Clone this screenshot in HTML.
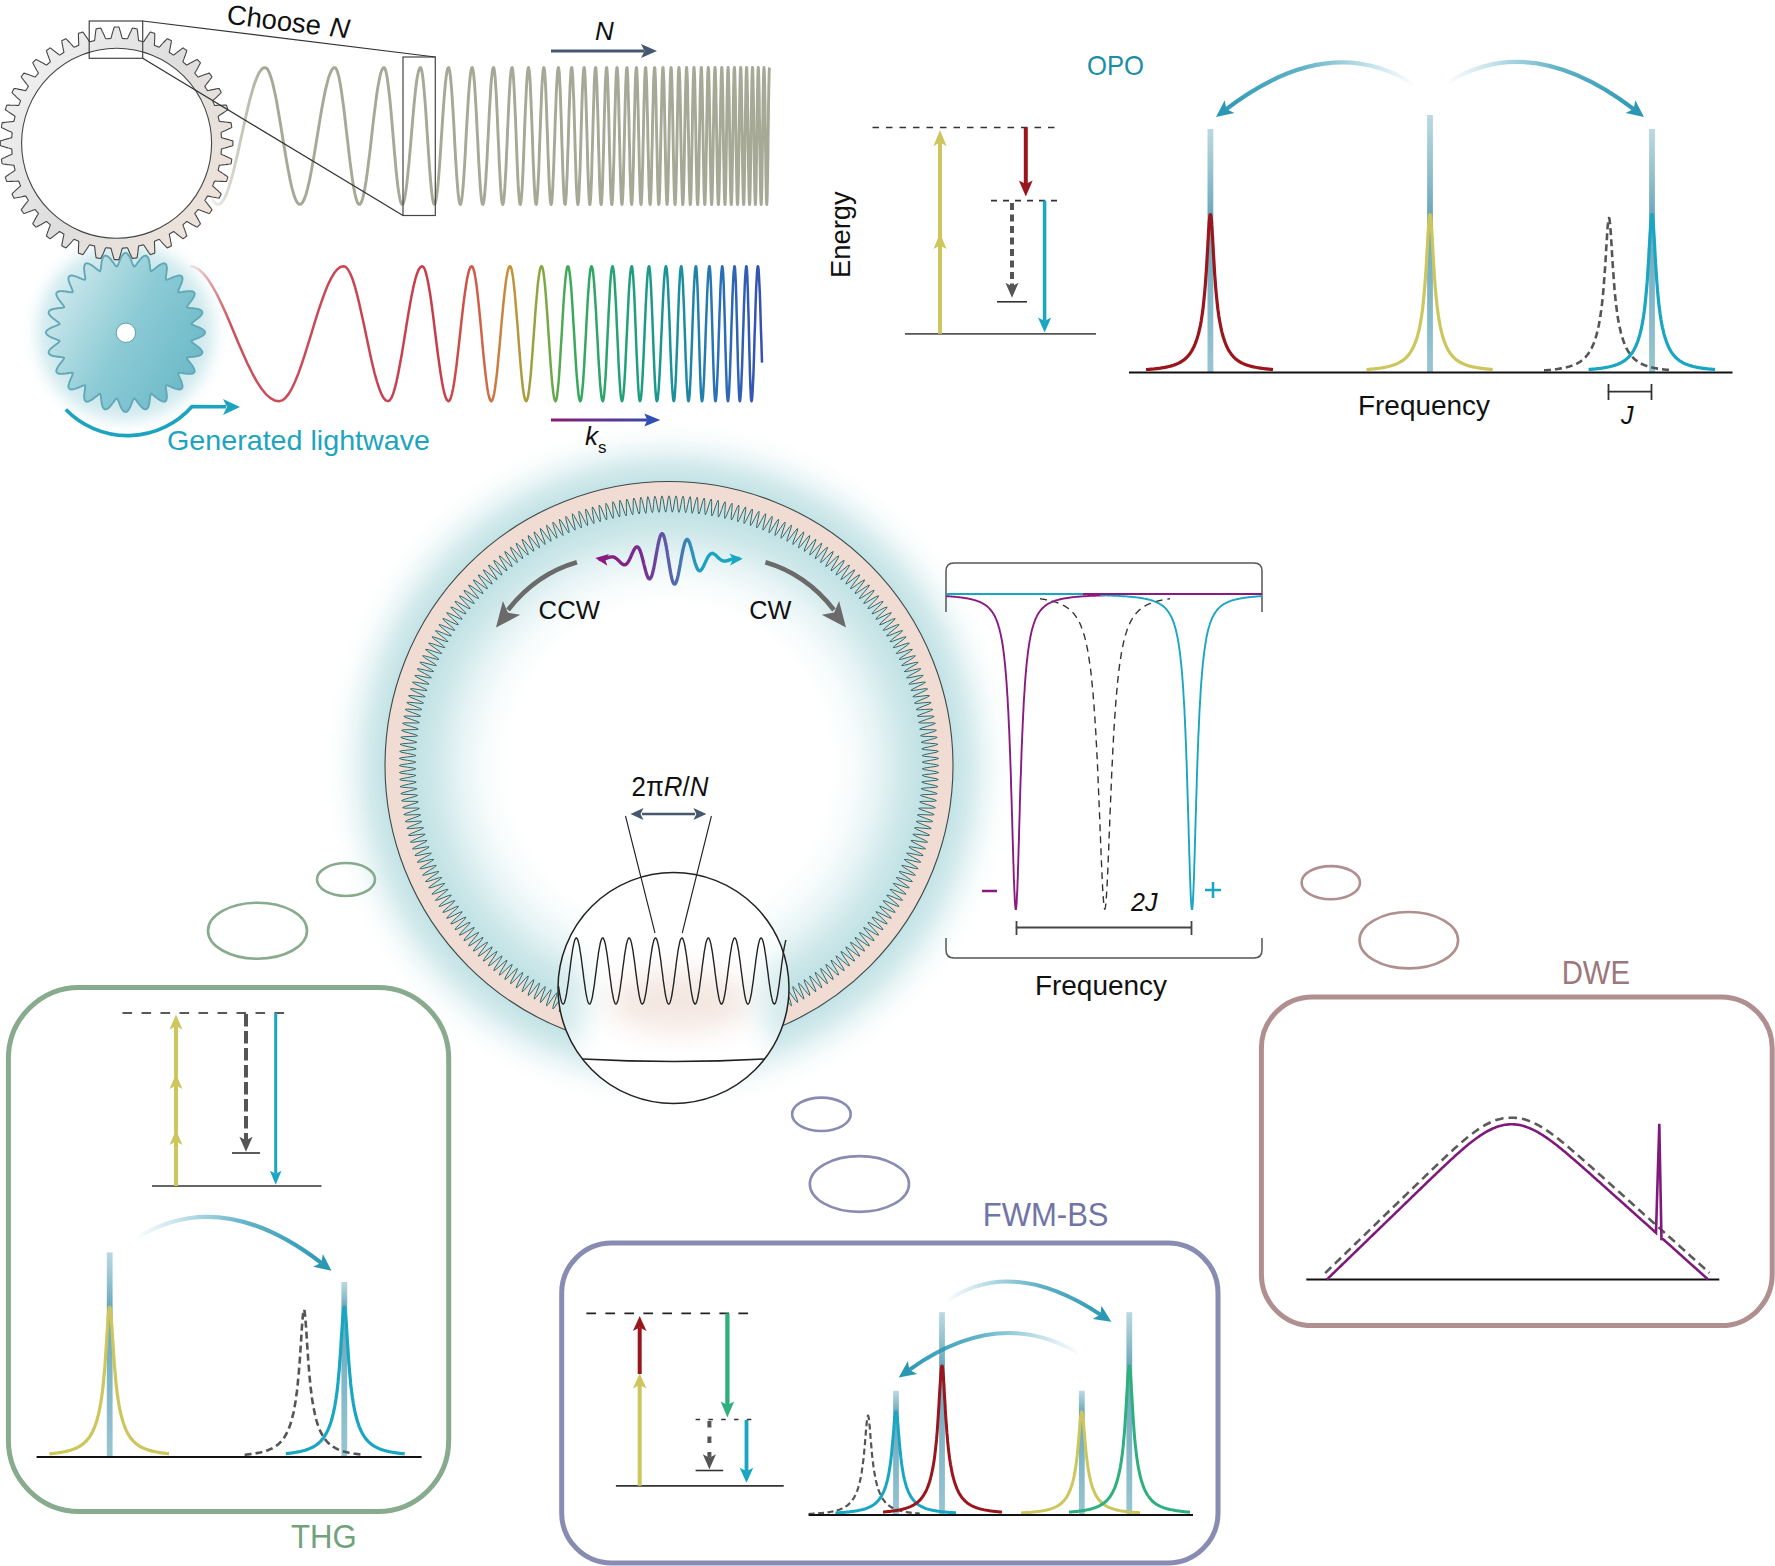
<!DOCTYPE html><html><head><meta charset="utf-8"><style>html,body{margin:0;padding:0;background:#fff;overflow:hidden}svg{display:block}</style></head><body><svg width="1775" height="1566" viewBox="0 0 1775 1566" font-family='"Liberation Sans", sans-serif'><defs><radialGradient id="ringglow" cx="669" cy="765.5" r="345" gradientUnits="userSpaceOnUse"><stop offset="0" stop-color="#c0e1e4" stop-opacity="0"/><stop offset="0.464" stop-color="#c0e1e4" stop-opacity="0"/><stop offset="0.536" stop-color="#c0e1e4" stop-opacity="0.12"/><stop offset="0.609" stop-color="#c0e1e4" stop-opacity="0.4"/><stop offset="0.681" stop-color="#c0e1e4" stop-opacity="0.78"/><stop offset="0.730" stop-color="#c0e1e4" stop-opacity="0.95"/><stop offset="0.823" stop-color="#c0e1e4" stop-opacity="0.95"/><stop offset="0.870" stop-color="#c0e1e4" stop-opacity="0.7"/><stop offset="0.913" stop-color="#c0e1e4" stop-opacity="0.34"/><stop offset="0.957" stop-color="#c0e1e4" stop-opacity="0.08"/><stop offset="1" stop-color="#c0e1e4" stop-opacity="0"/></radialGradient><linearGradient id="gsfade" x1="200" y1="0" x2="265" y2="0" gradientUnits="userSpaceOnUse"><stop offset="0" stop-color="#a6a996" stop-opacity="0"/><stop offset="1" stop-color="#a6a996" stop-opacity="1"/></linearGradient><filter id="blur6" x="-50%" y="-50%" width="200%" height="200%"><feGaussianBlur stdDeviation="8"/></filter><filter id="blur1" x="-20%" y="-20%" width="140%" height="140%"><feGaussianBlur stdDeviation="0.5"/></filter><linearGradient id="g2fill" x1="55" y1="290" x2="200" y2="370" gradientUnits="userSpaceOnUse"><stop offset="0" stop-color="#cde8ec"/><stop offset="0.5" stop-color="#8ccbd5"/><stop offset="1" stop-color="#6cb9c8"/></linearGradient><linearGradient id="g1fill" x1="0" y1="30" x2="232" y2="200" gradientUnits="userSpaceOnUse"><stop offset="0" stop-color="#f6f6f6"/><stop offset="0.55" stop-color="#dedede"/><stop offset="1" stop-color="#efe3da"/></linearGradient><linearGradient id="rainbow" x1="185" y1="0" x2="762" y2="0" gradientUnits="userSpaceOnUse"><stop offset="0" stop-color="#c83c4a" stop-opacity="0"/><stop offset="0.08" stop-color="#c83c4a" stop-opacity="0.9"/><stop offset="0.442" stop-color="#c83c4a"/><stop offset="0.511" stop-color="#d06048"/><stop offset="0.563" stop-color="#c8903a"/><stop offset="0.617" stop-color="#8aa840"/><stop offset="0.667" stop-color="#3aaa5a"/><stop offset="0.771" stop-color="#1fa07a"/><stop offset="0.857" stop-color="#1a8fa0"/><stop offset="0.927" stop-color="#2a6fb8"/><stop offset="1" stop-color="#3650b0"/></linearGradient><linearGradient id="ksg" x1="551" y1="0" x2="660" y2="0" gradientUnits="userSpaceOnUse"><stop offset="0" stop-color="#8b1a70"/><stop offset="1" stop-color="#2f50b5"/></linearGradient><linearGradient id="pb1" x1="0" y1="129" x2="0" y2="372" gradientUnits="userSpaceOnUse"><stop offset="0" stop-color="#a3ccd7" stop-opacity="0.75"/><stop offset="0.352" stop-color="#6aa7ba" stop-opacity="1"/><stop offset="1" stop-color="#92c2d0" stop-opacity="0.95"/></linearGradient><linearGradient id="pb2" x1="0" y1="115" x2="0" y2="372" gradientUnits="userSpaceOnUse"><stop offset="0" stop-color="#a3ccd7" stop-opacity="0.75"/><stop offset="0.387" stop-color="#6aa7ba" stop-opacity="1"/><stop offset="1" stop-color="#92c2d0" stop-opacity="0.95"/></linearGradient><linearGradient id="pb3" x1="0" y1="129" x2="0" y2="372" gradientUnits="userSpaceOnUse"><stop offset="0" stop-color="#a3ccd7" stop-opacity="0.75"/><stop offset="0.352" stop-color="#6aa7ba" stop-opacity="1"/><stop offset="1" stop-color="#92c2d0" stop-opacity="0.95"/></linearGradient><linearGradient id="fa4" x1="1415" y1="85" x2="1216" y2="117" gradientUnits="userSpaceOnUse"><stop offset="0" stop-color="#2a97b3" stop-opacity="0"/><stop offset="0.55" stop-color="#2a97b3" stop-opacity="0.75"/><stop offset="1" stop-color="#2a97b3" stop-opacity="1"/></linearGradient><linearGradient id="fa5" x1="1446" y1="83.5" x2="1644" y2="117" gradientUnits="userSpaceOnUse"><stop offset="0" stop-color="#2a97b3" stop-opacity="0"/><stop offset="0.55" stop-color="#2a97b3" stop-opacity="0.75"/><stop offset="1" stop-color="#2a97b3" stop-opacity="1"/></linearGradient><linearGradient id="wpg" x1="596" y1="0" x2="743" y2="0" gradientUnits="userSpaceOnUse"><stop offset="0" stop-color="#8b1a7e"/><stop offset="0.3" stop-color="#7a2a8e"/><stop offset="0.5" stop-color="#5a60aa"/><stop offset="0.72" stop-color="#1ba3c0"/><stop offset="1" stop-color="#18a8c2"/></linearGradient><clipPath id="magclip"><circle cx="673.5" cy="988" r="115.5"/></clipPath><filter id="blur12" x="-50%" y="-50%" width="200%" height="200%"><feGaussianBlur stdDeviation="14"/></filter><linearGradient id="pb6" x1="0" y1="1252.4" x2="0" y2="1456.8" gradientUnits="userSpaceOnUse"><stop offset="0" stop-color="#a3ccd7" stop-opacity="0.75"/><stop offset="0.267" stop-color="#6aa7ba" stop-opacity="1"/><stop offset="1" stop-color="#92c2d0" stop-opacity="0.95"/></linearGradient><linearGradient id="pb7" x1="0" y1="1282" x2="0" y2="1456.8" gradientUnits="userSpaceOnUse"><stop offset="0" stop-color="#a3ccd7" stop-opacity="0.75"/><stop offset="0.143" stop-color="#6aa7ba" stop-opacity="1"/><stop offset="1" stop-color="#92c2d0" stop-opacity="0.95"/></linearGradient><linearGradient id="fa8" x1="135" y1="1238.7" x2="331.5" y2="1270.7" gradientUnits="userSpaceOnUse"><stop offset="0" stop-color="#2a97b3" stop-opacity="0"/><stop offset="0.55" stop-color="#2a97b3" stop-opacity="0.75"/><stop offset="1" stop-color="#2a97b3" stop-opacity="1"/></linearGradient><linearGradient id="pb9" x1="0" y1="1390.8" x2="0" y2="1514.5" gradientUnits="userSpaceOnUse"><stop offset="0" stop-color="#a3ccd7" stop-opacity="0.75"/><stop offset="0.170" stop-color="#6aa7ba" stop-opacity="1"/><stop offset="1" stop-color="#92c2d0" stop-opacity="0.95"/></linearGradient><linearGradient id="pb10" x1="0" y1="1312.2" x2="0" y2="1514.5" gradientUnits="userSpaceOnUse"><stop offset="0" stop-color="#a3ccd7" stop-opacity="0.75"/><stop offset="0.265" stop-color="#6aa7ba" stop-opacity="1"/><stop offset="1" stop-color="#92c2d0" stop-opacity="0.95"/></linearGradient><linearGradient id="pb11" x1="0" y1="1390.8" x2="0" y2="1514.5" gradientUnits="userSpaceOnUse"><stop offset="0" stop-color="#a3ccd7" stop-opacity="0.75"/><stop offset="0.170" stop-color="#6aa7ba" stop-opacity="1"/><stop offset="1" stop-color="#92c2d0" stop-opacity="0.95"/></linearGradient><linearGradient id="pb12" x1="0" y1="1312.2" x2="0" y2="1514.5" gradientUnits="userSpaceOnUse"><stop offset="0" stop-color="#a3ccd7" stop-opacity="0.75"/><stop offset="0.265" stop-color="#6aa7ba" stop-opacity="1"/><stop offset="1" stop-color="#92c2d0" stop-opacity="0.95"/></linearGradient><linearGradient id="fa13" x1="944.6" y1="1302.6" x2="1111.3" y2="1321.8" gradientUnits="userSpaceOnUse"><stop offset="0" stop-color="#2a97b3" stop-opacity="0"/><stop offset="0.55" stop-color="#2a97b3" stop-opacity="0.75"/><stop offset="1" stop-color="#2a97b3" stop-opacity="1"/></linearGradient><linearGradient id="fa14" x1="1080.6" y1="1354.4" x2="898.7" y2="1377.4" gradientUnits="userSpaceOnUse"><stop offset="0" stop-color="#2a97b3" stop-opacity="0"/><stop offset="0.55" stop-color="#2a97b3" stop-opacity="0.75"/><stop offset="1" stop-color="#2a97b3" stop-opacity="1"/></linearGradient></defs><rect width="1775" height="1566" fill="#ffffff"/>
<circle cx="669" cy="765.5" r="345" fill="url(#ringglow)"/>
<path d="M669,481.5 A284,284 0 1,1 669,1049.5 A284,284 0 1,1 669,481.5Z M669,495.8 L669.9,498.2 L670.7,504 L671.5,509.8 L672.3,512.2 L673.2,509.8 L674.1,504.1 L675.1,498.3 L676.1,495.9 L676.9,498.3 L677.6,504.1 L678.2,510 L678.9,512.4 L679.9,510 L681,504.3 L682.1,498.5 L683.1,496.2 L683.9,498.6 L684.4,504.5 L684.9,510.3 L685.6,512.7 L686.6,510.4 L687.8,504.7 L689.1,499 L690.2,496.6 L690.8,499.1 L691.2,504.9 L691.6,510.8 L692.2,513.3 L693.2,510.9 L694.6,505.3 L696.1,499.6 L697.2,497.3 L697.8,499.8 L698,505.6 L698.2,511.5 L698.8,514 L699.9,511.7 L701.4,506 L703,500.4 L704.2,498.1 L704.8,500.6 L704.8,506.5 L704.9,512.3 L705.3,514.8 L706.5,512.6 L708.2,507 L710,501.4 L711.2,499.1 L711.7,501.6 L711.6,507.5 L711.5,513.4 L711.9,515.9 L713.1,513.6 L715,508.1 L716.9,502.5 L718.1,500.3 L718.6,502.8 L718.3,508.7 L718.1,514.5 L718.4,517.1 L719.7,514.9 L721.7,509.4 L723.7,503.9 L725.1,501.7 L725.4,504.2 L725,510.1 L724.6,515.9 L724.9,518.4 L726.2,516.3 L728.4,510.8 L730.5,505.4 L732,503.3 L732.2,505.8 L731.7,511.6 L731.1,517.5 L731.4,520 L732.8,517.9 L735,512.5 L737.3,507.1 L738.8,505 L739,507.5 L738.3,513.4 L737.6,519.2 L737.8,521.7 L739.2,519.6 L741.6,514.3 L744.1,509 L745.6,506.9 L745.8,509.5 L744.9,515.3 L744,521.1 L744.1,523.6 L745.6,521.5 L748.2,516.3 L750.8,511 L752.3,509 L752.4,511.6 L751.4,517.3 L750.4,523.1 L750.4,525.6 L752,523.6 L754.7,518.4 L757.4,513.2 L759,511.3 L759.1,513.8 L757.9,519.6 L756.7,525.3 L756.7,527.9 L758.3,525.9 L761.1,520.8 L764,515.6 L765.7,513.7 L765.6,516.3 L764.3,522 L763,527.7 L762.9,530.2 L764.5,528.3 L767.5,523.3 L770.5,518.2 L772.2,516.3 L772.1,518.9 L770.7,524.6 L769.2,530.2 L769,532.8 L770.7,530.9 L773.8,525.9 L776.9,521 L778.7,519.1 L778.5,521.7 L776.9,527.3 L775.3,532.9 L775,535.5 L776.8,533.6 L780,528.7 L783.3,523.9 L785.1,522.1 L784.9,524.6 L783.1,530.2 L781.3,535.8 L781,538.3 L782.8,536.5 L786.2,531.7 L789.6,526.9 L791.4,525.2 L791.1,527.7 L789.2,533.3 L787.3,538.8 L786.9,541.3 L788.8,539.6 L792.3,534.9 L795.8,530.2 L797.7,528.5 L797.3,531 L795.3,536.5 L793.2,542 L792.8,544.5 L794.7,542.8 L798.3,538.2 L801.9,533.6 L803.8,531.9 L803.4,534.5 L801.2,539.9 L799,545.3 L798.5,547.8 L800.5,546.2 L804.2,541.6 L807.9,537.1 L809.9,535.5 L809.4,538 L807.1,543.4 L804.7,548.8 L804.2,551.3 L806.2,549.7 L810,545.3 L813.8,540.8 L815.9,539.3 L815.3,541.8 L812.9,547.1 L810.4,552.4 L809.7,554.9 L811.8,553.4 L815.7,549 L819.7,544.7 L821.8,543.2 L821.1,545.7 L818.5,551 L815.9,556.2 L815.2,558.6 L817.3,557.2 L821.3,552.9 L825.4,548.7 L827.5,547.3 L826.8,549.8 L824.1,555 L821.3,560.1 L820.6,562.5 L822.7,561.1 L826.8,557 L831,552.9 L833.2,551.5 L832.4,554 L829.5,559.1 L826.6,564.2 L825.8,566.6 L828,565.2 L832.2,561.2 L836.5,557.2 L838.7,555.9 L837.9,558.3 L834.9,563.4 L831.9,568.4 L831,570.8 L833.1,569.4 L837.5,565.5 L841.9,561.7 L844.2,560.4 L843.3,562.8 L840.1,567.8 L837,572.7 L836,575.1 L838.2,573.8 L842.7,570 L847.2,566.3 L849.5,565.1 L848.5,567.4 L845.2,572.3 L842,577.2 L840.9,579.5 L843.2,578.3 L847.8,574.6 L852.4,571 L854.6,569.9 L853.6,572.2 L850.2,577 L846.8,581.8 L845.8,584.1 L848,582.9 L852.7,579.4 L857.4,575.9 L859.7,574.8 L858.6,577.1 L855.1,581.8 L851.6,586.5 L850.4,588.7 L852.7,587.7 L857.5,584.3 L862.3,580.9 L864.6,579.9 L863.5,582.1 L859.9,586.7 L856.2,591.3 L855,593.6 L857.3,592.5 L862.2,589.3 L867.1,586 L869.4,585 L868.2,587.3 L864.5,591.8 L860.7,596.3 L859.4,598.5 L861.8,597.5 L866.7,594.4 L871.7,591.2 L874.1,590.3 L872.8,592.6 L869,597 L865.1,601.4 L863.7,603.5 L866.1,602.6 L871.1,599.6 L876.2,596.6 L878.6,595.8 L877.3,598 L873.3,602.3 L869.3,606.5 L867.9,608.7 L870.3,607.9 L875.4,605 L880.5,602.1 L883,601.3 L881.6,603.5 L877.5,607.7 L873.4,611.8 L872,613.9 L874.4,613.2 L879.5,610.4 L884.7,607.7 L887.2,607 L885.8,609.1 L881.6,613.2 L877.3,617.2 L875.9,619.3 L878.3,618.6 L883.5,616 L888.8,613.4 L891.3,612.7 L889.8,614.8 L885.5,618.8 L881.1,622.7 L879.6,624.8 L882.1,624.1 L887.4,621.6 L892.7,619.2 L895.2,618.6 L893.7,620.7 L889.2,624.5 L884.8,628.3 L883.2,630.3 L885.7,629.8 L891.1,627.4 L896.5,625.1 L899,624.6 L897.4,626.6 L892.9,630.3 L888.3,634 L886.7,636 L889.2,635.5 L894.6,633.3 L900,631.1 L902.6,630.6 L900.9,632.6 L896.3,636.2 L891.7,639.8 L890,641.7 L892.5,641.3 L898,639.2 L903.5,637.2 L906,636.8 L904.3,638.7 L899.6,642.2 L894.9,645.7 L893.2,647.6 L895.7,647.2 L901.2,645.3 L906.8,643.4 L909.3,643.1 L907.6,644.9 L902.8,648.3 L898,651.7 L896.2,653.5 L898.7,653.2 L904.3,651.4 L909.9,649.6 L912.4,649.4 L910.6,651.2 L905.8,654.5 L900.9,657.7 L899,659.5 L901.6,659.2 L907.2,657.6 L912.8,656 L915.4,655.8 L913.5,657.6 L908.6,660.7 L903.6,663.8 L901.7,665.5 L904.3,665.3 L909.9,663.8 L915.6,662.4 L918.2,662.3 L916.3,664 L911.2,667 L906.2,670 L904.3,671.6 L906.8,671.5 L912.5,670.2 L918.2,668.9 L920.8,668.8 L918.9,670.5 L913.7,673.4 L908.6,676.2 L906.6,677.8 L909.2,677.8 L914.9,676.6 L920.7,675.4 L923.2,675.5 L921.3,677.1 L916.1,679.8 L910.9,682.5 L908.9,684.1 L911.4,684.1 L917.2,683.1 L922.9,682.1 L925.5,682.2 L923.5,683.7 L918.2,686.3 L913,688.9 L910.9,690.4 L913.4,690.5 L919.2,689.6 L925,688.7 L927.6,688.9 L925.5,690.4 L920.2,692.9 L914.9,695.3 L912.8,696.7 L915.3,696.9 L921.1,696.2 L927,695.5 L929.5,695.7 L927.4,697.2 L922,699.5 L916.6,701.7 L914.5,703.1 L917,703.4 L922.9,702.8 L928.7,702.3 L931.2,702.5 L929.1,704 L923.7,706.1 L918.2,708.3 L916.1,709.6 L918.6,709.9 L924.4,709.5 L930.3,709.1 L932.8,709.4 L930.6,710.8 L925.1,712.8 L919.6,714.8 L917.4,716.1 L920,716.4 L925.8,716.2 L931.7,715.9 L934.2,716.4 L932,717.6 L926.4,719.5 L920.9,721.4 L918.6,722.6 L921.1,723 L927,722.9 L932.9,722.8 L935.4,723.3 L933.1,724.5 L927.5,726.3 L921.9,728 L919.7,729.2 L922.2,729.6 L928,729.7 L933.9,729.7 L936.4,730.3 L934.1,731.5 L928.5,733.1 L922.8,734.6 L920.5,735.7 L923,736.3 L928.9,736.5 L934.7,736.7 L937.2,737.3 L934.9,738.4 L929.2,739.9 L923.6,741.3 L921.2,742.3 L923.7,742.9 L929.6,743.3 L935.4,743.7 L937.9,744.3 L935.5,745.4 L929.8,746.7 L924.1,747.9 L921.8,748.9 L924.2,749.6 L930,750.1 L935.9,750.6 L938.3,751.4 L936,752.4 L930.2,753.5 L924.5,754.6 L922.1,755.6 L924.5,756.3 L930.4,756.9 L936.2,757.6 L938.6,758.4 L936.2,759.4 L930.4,760.4 L924.7,761.3 L922.3,762.2 L924.7,763 L930.5,763.8 L936.3,764.6 L938.7,765.5 L936.3,766.4 L930.5,767.2 L924.7,768 L922.3,768.8 L924.7,769.7 L930.4,770.6 L936.2,771.6 L938.6,772.6 L936.2,773.4 L930.4,774.1 L924.5,774.7 L922.1,775.4 L924.5,776.4 L930.2,777.5 L936,778.6 L938.3,779.6 L935.9,780.4 L930,780.9 L924.2,781.4 L921.8,782.1 L924.1,783.1 L929.8,784.3 L935.5,785.6 L937.9,786.7 L935.4,787.3 L929.6,787.7 L923.7,788.1 L921.2,788.7 L923.6,789.7 L929.2,791.1 L934.9,792.6 L937.2,793.7 L934.7,794.3 L928.9,794.5 L923,794.7 L920.5,795.3 L922.8,796.4 L928.5,797.9 L934.1,799.5 L936.4,800.7 L933.9,801.3 L928,801.3 L922.2,801.4 L919.7,801.8 L921.9,803 L927.5,804.7 L933.1,806.5 L935.4,807.7 L932.9,808.2 L927,808.1 L921.1,808 L918.6,808.4 L920.9,809.6 L926.4,811.5 L932,813.4 L934.2,814.6 L931.7,815.1 L925.8,814.8 L920,814.6 L917.4,814.9 L919.6,816.2 L925.1,818.2 L930.6,820.2 L932.8,821.6 L930.3,821.9 L924.4,821.5 L918.6,821.1 L916.1,821.4 L918.2,822.7 L923.7,824.9 L929.1,827 L931.2,828.5 L928.7,828.7 L922.9,828.2 L917,827.6 L914.5,827.9 L916.6,829.3 L922,831.5 L927.4,833.8 L929.5,835.3 L927,835.5 L921.1,834.8 L915.3,834.1 L912.8,834.3 L914.9,835.7 L920.2,838.1 L925.5,840.6 L927.6,842.1 L925,842.3 L919.2,841.4 L913.4,840.5 L910.9,840.6 L913,842.1 L918.2,844.7 L923.5,847.3 L925.5,848.8 L922.9,848.9 L917.2,847.9 L911.4,846.9 L908.9,846.9 L910.9,848.5 L916.1,851.2 L921.3,853.9 L923.2,855.5 L920.7,855.6 L914.9,854.4 L909.2,853.2 L906.6,853.2 L908.6,854.8 L913.7,857.6 L918.9,860.5 L920.8,862.2 L918.2,862.1 L912.5,860.8 L906.8,859.5 L904.3,859.4 L906.2,861 L911.2,864 L916.3,867 L918.2,868.7 L915.6,868.6 L909.9,867.2 L904.3,865.7 L901.7,865.5 L903.6,867.2 L908.6,870.3 L913.5,873.4 L915.4,875.2 L912.8,875 L907.2,873.4 L901.6,871.8 L899,871.5 L900.9,873.3 L905.8,876.5 L910.6,879.8 L912.4,881.6 L909.9,881.4 L904.3,879.6 L898.7,877.8 L896.2,877.5 L898,879.3 L902.8,882.7 L907.6,886.1 L909.3,887.9 L906.8,887.6 L901.2,885.7 L895.7,883.8 L893.2,883.4 L894.9,885.3 L899.6,888.8 L904.3,892.3 L906,894.2 L903.5,893.8 L898,891.8 L892.5,889.7 L890,889.3 L891.7,891.2 L896.3,894.8 L900.9,898.4 L902.6,900.3 L900,899.9 L894.6,897.7 L889.2,895.5 L886.7,895 L888.3,897 L892.9,900.7 L897.4,904.4 L899,906.4 L896.5,905.9 L891.1,903.6 L885.7,901.2 L883.2,900.7 L884.8,902.7 L889.2,906.5 L893.7,910.3 L895.2,912.4 L892.7,911.8 L887.4,909.4 L882.1,906.9 L879.6,906.2 L881.1,908.3 L885.5,912.2 L889.8,916.2 L891.3,918.3 L888.8,917.6 L883.5,915 L878.3,912.4 L875.9,911.7 L877.3,913.8 L881.6,917.8 L885.8,921.9 L887.2,924 L884.7,923.3 L879.5,920.6 L874.4,917.8 L872,917.1 L873.4,919.2 L877.5,923.3 L881.6,927.5 L883,929.7 L880.5,928.9 L875.4,926 L870.3,923.1 L867.9,922.3 L869.3,924.5 L873.3,928.7 L877.3,933 L878.6,935.2 L876.2,934.4 L871.1,931.4 L866.1,928.4 L863.7,927.5 L865.1,929.6 L869,934 L872.8,938.4 L874.1,940.7 L871.7,939.8 L866.7,936.6 L861.8,933.5 L859.4,932.5 L860.7,934.7 L864.5,939.2 L868.2,943.7 L869.4,946 L867.1,945 L862.2,941.7 L857.3,938.5 L855,937.4 L856.2,939.7 L859.9,944.3 L863.5,948.9 L864.6,951.1 L862.3,950.1 L857.5,946.7 L852.7,943.3 L850.4,942.3 L851.6,944.5 L855.1,949.2 L858.6,953.9 L859.7,956.2 L857.4,955.1 L852.7,951.6 L848,948.1 L845.8,946.9 L846.8,949.2 L850.2,954 L853.6,958.8 L854.6,961.1 L852.4,960 L847.8,956.4 L843.2,952.7 L840.9,951.5 L842,953.8 L845.2,958.7 L848.5,963.6 L849.5,965.9 L847.2,964.7 L842.7,961 L838.2,957.2 L836,955.9 L837,958.3 L840.1,963.2 L843.3,968.2 L844.2,970.6 L841.9,969.3 L837.5,965.5 L833.1,961.6 L831,960.2 L831.9,962.6 L834.9,967.6 L837.9,972.7 L838.7,975.1 L836.5,973.8 L832.2,969.8 L828,965.8 L825.8,964.4 L826.6,966.8 L829.5,971.9 L832.4,977 L833.2,979.5 L831,978.1 L826.8,974 L822.7,969.9 L820.6,968.5 L821.3,970.9 L824.1,976 L826.8,981.2 L827.5,983.7 L825.4,982.3 L821.3,978.1 L817.3,973.8 L815.2,972.4 L815.9,974.8 L818.5,980 L821.1,985.3 L821.8,987.8 L819.7,986.3 L815.7,982 L811.8,977.6 L809.7,976.1 L810.4,978.6 L812.9,983.9 L815.3,989.2 L815.9,991.7 L813.8,990.2 L810,985.7 L806.2,981.3 L804.2,979.7 L804.7,982.2 L807.1,987.6 L809.4,993 L809.9,995.5 L807.9,993.9 L804.2,989.4 L800.5,984.8 L798.5,983.2 L799,985.7 L801.2,991.1 L803.4,996.5 L803.9,999.1 L801.9,997.4 L798.3,992.8 L794.7,988.2 L792.8,986.5 L793.2,989 L795.3,994.5 L797.3,1000 L797.7,1002.5 L795.8,1000.8 L792.3,996.1 L788.8,991.4 L786.9,989.7 L787.3,992.2 L789.2,997.7 L791.1,1003.3 L791.4,1005.8 L789.6,1004.1 L786.2,999.3 L782.8,994.5 L781,992.7 L781.3,995.2 L783.1,1000.8 L784.9,1006.4 L785.1,1008.9 L783.3,1007.1 L780,1002.3 L776.8,997.4 L775,995.5 L775.3,998.1 L776.9,1003.7 L778.5,1009.3 L778.7,1011.9 L776.9,1010 L773.8,1005.1 L770.7,1000.1 L769,998.2 L769.2,1000.8 L770.7,1006.4 L772.1,1012.1 L772.2,1014.7 L770.5,1012.8 L767.5,1007.7 L764.5,1002.7 L762.9,1000.8 L763,1003.3 L764.3,1009 L765.6,1014.7 L765.7,1017.3 L764,1015.4 L761.1,1010.2 L758.3,1005.1 L756.7,1003.1 L756.7,1005.7 L757.9,1011.4 L759.1,1017.2 L759,1019.7 L757.4,1017.8 L754.7,1012.6 L752,1007.4 L750.4,1005.4 L750.4,1007.9 L751.4,1013.7 L752.4,1019.4 L752.3,1022 L750.8,1020 L748.2,1014.7 L745.6,1009.5 L744.1,1007.4 L744,1009.9 L744.9,1015.7 L745.8,1021.5 L745.6,1024.1 L744.1,1022 L741.6,1016.7 L739.2,1011.4 L737.8,1009.3 L737.6,1011.8 L738.3,1017.6 L739,1023.5 L738.8,1026 L737.3,1023.9 L735,1018.5 L732.8,1013.1 L731.4,1011 L731.1,1013.5 L731.7,1019.4 L732.2,1025.2 L732,1027.7 L730.5,1025.6 L728.4,1020.2 L726.2,1014.7 L724.9,1012.6 L724.6,1015.1 L725,1020.9 L725.4,1026.8 L725.1,1029.3 L723.7,1027.1 L721.7,1021.6 L719.7,1016.1 L718.4,1013.9 L718.1,1016.5 L718.3,1022.3 L718.6,1028.2 L718.1,1030.7 L716.9,1028.5 L715,1022.9 L713.1,1017.4 L711.9,1015.1 L711.5,1017.6 L711.6,1023.5 L711.7,1029.4 L711.2,1031.9 L710,1029.6 L708.2,1024 L706.5,1018.4 L705.3,1016.2 L704.9,1018.7 L704.8,1024.5 L704.8,1030.4 L704.2,1032.9 L703,1030.6 L701.4,1025 L699.9,1019.3 L698.8,1017 L698.2,1019.5 L698,1025.4 L697.8,1031.2 L697.2,1033.7 L696.1,1031.4 L694.6,1025.7 L693.2,1020.1 L692.2,1017.7 L691.6,1020.2 L691.2,1026.1 L690.8,1031.9 L690.2,1034.4 L689.1,1032 L687.8,1026.3 L686.6,1020.6 L685.6,1018.3 L684.9,1020.7 L684.4,1026.5 L683.9,1032.4 L683.1,1034.8 L682.1,1032.5 L681,1026.7 L679.9,1021 L678.9,1018.6 L678.2,1021 L677.6,1026.9 L676.9,1032.7 L676.1,1035.1 L675.1,1032.7 L674.1,1026.9 L673.2,1021.2 L672.3,1018.8 L671.5,1021.2 L670.7,1027 L669.9,1032.8 L669,1035.2 L668.1,1032.8 L667.3,1027 L666.5,1021.2 L665.7,1018.8 L664.8,1021.2 L663.9,1026.9 L662.9,1032.7 L661.9,1035.1 L661.1,1032.7 L660.4,1026.9 L659.8,1021 L659.1,1018.6 L658.1,1021 L657,1026.7 L655.9,1032.5 L654.9,1034.8 L654.1,1032.4 L653.6,1026.5 L653.1,1020.7 L652.4,1018.3 L651.4,1020.6 L650.2,1026.3 L648.9,1032 L647.8,1034.4 L647.2,1031.9 L646.8,1026.1 L646.4,1020.2 L645.8,1017.7 L644.8,1020.1 L643.4,1025.7 L641.9,1031.4 L640.8,1033.7 L640.2,1031.2 L640,1025.4 L639.8,1019.5 L639.2,1017 L638.1,1019.3 L636.6,1025 L635,1030.6 L633.8,1032.9 L633.2,1030.4 L633.2,1024.5 L633.1,1018.7 L632.7,1016.2 L631.5,1018.4 L629.8,1024 L628,1029.6 L626.8,1031.9 L626.3,1029.4 L626.4,1023.5 L626.5,1017.6 L626.1,1015.1 L624.9,1017.4 L623,1022.9 L621.1,1028.5 L619.9,1030.7 L619.4,1028.2 L619.7,1022.3 L619.9,1016.5 L619.6,1013.9 L618.3,1016.1 L616.3,1021.6 L614.3,1027.1 L612.9,1029.3 L612.6,1026.8 L613,1020.9 L613.4,1015.1 L613.1,1012.6 L611.8,1014.7 L609.6,1020.2 L607.5,1025.6 L606,1027.7 L605.8,1025.2 L606.3,1019.4 L606.9,1013.5 L606.6,1011 L605.2,1013.1 L603,1018.5 L600.7,1023.9 L599.2,1026 L599,1023.5 L599.7,1017.6 L600.4,1011.8 L600.2,1009.3 L598.8,1011.4 L596.4,1016.7 L593.9,1022 L592.4,1024.1 L592.2,1021.5 L593.1,1015.7 L594,1009.9 L593.9,1007.4 L592.4,1009.5 L589.8,1014.7 L587.2,1020 L585.7,1022 L585.6,1019.4 L586.6,1013.7 L587.6,1007.9 L587.6,1005.4 L586,1007.4 L583.3,1012.6 L580.6,1017.8 L579,1019.7 L578.9,1017.2 L580.1,1011.4 L581.3,1005.7 L581.3,1003.1 L579.7,1005.1 L576.9,1010.2 L574,1015.4 L572.3,1017.3 L572.4,1014.7 L573.7,1009 L575,1003.3 L575.1,1000.8 L573.5,1002.7 L570.5,1007.7 L567.5,1012.8 L565.8,1014.7 L565.9,1012.1 L567.3,1006.4 L568.8,1000.8 L569,998.2 L567.3,1000.1 L564.2,1005.1 L561.1,1010 L559.3,1011.9 L559.5,1009.3 L561.1,1003.7 L562.7,998.1 L563,995.5 L561.2,997.4 L558,1002.3 L554.7,1007.1 L552.9,1008.9 L553.1,1006.4 L554.9,1000.8 L556.7,995.2 L557,992.7 L555.2,994.5 L551.8,999.3 L548.4,1004.1 L546.6,1005.8 L546.9,1003.3 L548.8,997.7 L550.7,992.2 L551.1,989.7 L549.2,991.4 L545.7,996.1 L542.2,1000.8 L540.3,1002.5 L540.7,1000 L542.7,994.5 L544.8,989 L545.2,986.5 L543.3,988.2 L539.7,992.8 L536.1,997.4 L534.2,999.1 L534.6,996.5 L536.8,991.1 L539,985.7 L539.5,983.2 L537.5,984.8 L533.8,989.4 L530.1,993.9 L528.1,995.5 L528.6,993 L530.9,987.6 L533.3,982.2 L533.8,979.7 L531.8,981.3 L528,985.7 L524.2,990.2 L522.1,991.7 L522.7,989.2 L525.1,983.9 L527.6,978.6 L528.3,976.1 L526.2,977.6 L522.3,982 L518.3,986.3 L516.2,987.8 L516.9,985.3 L519.5,980 L522.1,974.8 L522.8,972.4 L520.7,973.8 L516.7,978.1 L512.6,982.3 L510.5,983.7 L511.2,981.2 L513.9,976 L516.7,970.9 L517.4,968.5 L515.3,969.9 L511.2,974 L507,978.1 L504.8,979.5 L505.6,977 L508.5,971.9 L511.4,966.8 L512.2,964.4 L510,965.8 L505.8,969.8 L501.5,973.8 L499.3,975.1 L500.1,972.7 L503.1,967.6 L506.1,962.6 L507,960.2 L504.9,961.6 L500.5,965.5 L496.1,969.3 L493.8,970.6 L494.7,968.2 L497.9,963.2 L501,958.3 L502,955.9 L499.8,957.2 L495.3,961 L490.8,964.7 L488.5,965.9 L489.5,963.6 L492.8,958.7 L496,953.8 L497.1,951.5 L494.8,952.7 L490.2,956.4 L485.6,960 L483.4,961.1 L484.4,958.8 L487.8,954 L491.2,949.2 L492.2,946.9 L490,948.1 L485.3,951.6 L480.6,955.1 L478.3,956.2 L479.4,953.9 L482.9,949.2 L486.4,944.5 L487.6,942.3 L485.3,943.3 L480.5,946.7 L475.7,950.1 L473.4,951.1 L474.5,948.9 L478.1,944.3 L481.8,939.7 L483,937.4 L480.7,938.5 L475.8,941.7 L470.9,945 L468.6,946 L469.8,943.7 L473.5,939.2 L477.3,934.7 L478.6,932.5 L476.2,933.5 L471.3,936.6 L466.3,939.8 L463.9,940.7 L465.2,938.4 L469,934 L472.9,929.6 L474.3,927.5 L471.9,928.4 L466.9,931.4 L461.8,934.4 L459.4,935.2 L460.7,933 L464.7,928.7 L468.7,924.5 L470.1,922.3 L467.7,923.1 L462.6,926 L457.5,928.9 L455,929.7 L456.4,927.5 L460.5,923.3 L464.6,919.2 L466,917.1 L463.6,917.8 L458.5,920.6 L453.3,923.3 L450.8,924 L452.2,921.9 L456.4,917.8 L460.7,913.8 L462.1,911.7 L459.7,912.4 L454.5,915 L449.2,917.6 L446.7,918.3 L448.2,916.2 L452.5,912.2 L456.9,908.3 L458.4,906.2 L455.9,906.9 L450.6,909.4 L445.3,911.8 L442.8,912.4 L444.3,910.3 L448.8,906.5 L453.2,902.7 L454.8,900.7 L452.3,901.2 L446.9,903.6 L441.5,905.9 L439,906.4 L440.6,904.4 L445.1,900.7 L449.7,897 L451.3,895 L448.8,895.5 L443.4,897.7 L438,899.9 L435.4,900.4 L437.1,898.4 L441.7,894.8 L446.3,891.2 L448,889.3 L445.5,889.7 L440,891.8 L434.5,893.8 L432,894.2 L433.7,892.3 L438.4,888.8 L443.1,885.3 L444.8,883.4 L442.3,883.8 L436.8,885.7 L431.2,887.6 L428.7,887.9 L430.4,886.1 L435.2,882.7 L440,879.3 L441.8,877.5 L439.3,877.8 L433.7,879.6 L428.1,881.4 L425.6,881.6 L427.4,879.8 L432.2,876.5 L437.1,873.3 L439,871.5 L436.4,871.8 L430.8,873.4 L425.2,875 L422.6,875.2 L424.5,873.4 L429.4,870.3 L434.4,867.2 L436.3,865.5 L433.7,865.7 L428.1,867.2 L422.4,868.6 L419.8,868.7 L421.7,867 L426.8,864 L431.8,861 L433.7,859.4 L431.2,859.5 L425.5,860.8 L419.8,862.1 L417.2,862.2 L419.1,860.5 L424.3,857.6 L429.4,854.8 L431.4,853.2 L428.8,853.2 L423.1,854.4 L417.3,855.6 L414.8,855.5 L416.7,853.9 L421.9,851.2 L427.1,848.5 L429.1,846.9 L426.6,846.9 L420.8,847.9 L415.1,848.9 L412.5,848.8 L414.5,847.3 L419.8,844.7 L425,842.1 L427.1,840.6 L424.6,840.5 L418.8,841.4 L413,842.3 L410.4,842.1 L412.5,840.6 L417.8,838.1 L423.1,835.7 L425.2,834.3 L422.7,834.1 L416.9,834.8 L411,835.5 L408.5,835.3 L410.6,833.8 L416,831.5 L421.4,829.3 L423.5,827.9 L421,827.6 L415.1,828.2 L409.3,828.7 L406.8,828.5 L408.9,827 L414.3,824.9 L419.8,822.7 L421.9,821.4 L419.4,821.1 L413.6,821.5 L407.7,821.9 L405.2,821.6 L407.4,820.2 L412.9,818.2 L418.4,816.2 L420.6,814.9 L418,814.6 L412.2,814.8 L406.3,815.1 L403.8,814.6 L406,813.4 L411.6,811.5 L417.1,809.6 L419.4,808.4 L416.9,808 L411,808.1 L405.1,808.2 L402.6,807.7 L404.9,806.5 L410.5,804.7 L416.1,803 L418.3,801.8 L415.8,801.4 L410,801.3 L404.1,801.3 L401.6,800.7 L403.9,799.5 L409.5,797.9 L415.2,796.4 L417.5,795.3 L415,794.7 L409.1,794.5 L403.3,794.3 L400.8,793.7 L403.1,792.6 L408.8,791.1 L414.4,789.7 L416.8,788.7 L414.3,788.1 L408.4,787.7 L402.6,787.3 L400.1,786.7 L402.5,785.6 L408.2,784.3 L413.9,783.1 L416.2,782.1 L413.8,781.4 L408,780.9 L402.1,780.4 L399.7,779.6 L402,778.6 L407.8,777.5 L413.5,776.4 L415.9,775.4 L413.5,774.7 L407.6,774.1 L401.8,773.4 L399.4,772.6 L401.8,771.6 L407.6,770.6 L413.3,769.7 L415.7,768.8 L413.3,768 L407.5,767.2 L401.7,766.4 L399.3,765.5 L401.7,764.6 L407.5,763.8 L413.3,763 L415.7,762.2 L413.3,761.3 L407.6,760.4 L401.8,759.4 L399.4,758.4 L401.8,757.6 L407.6,756.9 L413.5,756.3 L415.9,755.6 L413.5,754.6 L407.8,753.5 L402,752.4 L399.7,751.4 L402.1,750.6 L408,750.1 L413.8,749.6 L416.2,748.9 L413.9,747.9 L408.2,746.7 L402.5,745.4 L400.1,744.3 L402.6,743.7 L408.4,743.3 L414.3,742.9 L416.8,742.3 L414.4,741.3 L408.8,739.9 L403.1,738.4 L400.8,737.3 L403.3,736.7 L409.1,736.5 L415,736.3 L417.5,735.7 L415.2,734.6 L409.5,733.1 L403.9,731.5 L401.6,730.3 L404.1,729.7 L410,729.7 L415.8,729.6 L418.3,729.2 L416.1,728 L410.5,726.3 L404.9,724.5 L402.6,723.3 L405.1,722.8 L411,722.9 L416.9,723 L419.4,722.6 L417.1,721.4 L411.6,719.5 L406,717.6 L403.8,716.4 L406.3,715.9 L412.2,716.2 L418,716.4 L420.6,716.1 L418.4,714.8 L412.9,712.8 L407.4,710.8 L405.2,709.4 L407.7,709.1 L413.6,709.5 L419.4,709.9 L421.9,709.6 L419.8,708.3 L414.3,706.1 L408.9,704 L406.8,702.5 L409.3,702.3 L415.1,702.8 L421,703.4 L423.5,703.1 L421.4,701.7 L416,699.5 L410.6,697.2 L408.5,695.7 L411,695.5 L416.9,696.2 L422.7,696.9 L425.2,696.7 L423.1,695.3 L417.8,692.9 L412.5,690.4 L410.4,688.9 L413,688.7 L418.8,689.6 L424.6,690.5 L427.1,690.4 L425,688.9 L419.8,686.3 L414.5,683.7 L412.5,682.2 L415.1,682.1 L420.8,683.1 L426.6,684.1 L429.1,684.1 L427.1,682.5 L421.9,679.8 L416.7,677.1 L414.8,675.5 L417.3,675.4 L423.1,676.6 L428.8,677.8 L431.4,677.8 L429.4,676.2 L424.3,673.4 L419.1,670.5 L417.2,668.8 L419.8,668.9 L425.5,670.2 L431.2,671.5 L433.7,671.6 L431.8,670 L426.8,667 L421.7,664 L419.8,662.3 L422.4,662.4 L428.1,663.8 L433.7,665.3 L436.3,665.5 L434.4,663.8 L429.4,660.7 L424.5,657.6 L422.6,655.8 L425.2,656 L430.8,657.6 L436.4,659.2 L439,659.5 L437.1,657.7 L432.2,654.5 L427.4,651.2 L425.6,649.4 L428.1,649.6 L433.7,651.4 L439.3,653.2 L441.8,653.5 L440,651.7 L435.2,648.3 L430.4,644.9 L428.7,643.1 L431.2,643.4 L436.8,645.3 L442.3,647.2 L444.8,647.6 L443.1,645.7 L438.4,642.2 L433.7,638.7 L432,636.8 L434.5,637.2 L440,639.2 L445.5,641.3 L448,641.7 L446.3,639.8 L441.7,636.2 L437.1,632.6 L435.4,630.7 L438,631.1 L443.4,633.3 L448.8,635.5 L451.3,636 L449.7,634 L445.1,630.3 L440.6,626.6 L439,624.6 L441.5,625.1 L446.9,627.4 L452.3,629.8 L454.8,630.3 L453.2,628.3 L448.8,624.5 L444.3,620.7 L442.8,618.6 L445.3,619.2 L450.6,621.6 L455.9,624.1 L458.4,624.8 L456.9,622.7 L452.5,618.8 L448.2,614.8 L446.7,612.7 L449.2,613.4 L454.5,616 L459.7,618.6 L462.1,619.3 L460.7,617.2 L456.4,613.2 L452.2,609.1 L450.8,607 L453.3,607.7 L458.5,610.4 L463.6,613.2 L466,613.9 L464.6,611.8 L460.5,607.7 L456.4,603.5 L455,601.3 L457.5,602.1 L462.6,605 L467.7,607.9 L470.1,608.7 L468.7,606.5 L464.7,602.3 L460.7,598 L459.4,595.8 L461.8,596.6 L466.9,599.6 L471.9,602.6 L474.3,603.5 L472.9,601.4 L469,597 L465.2,592.6 L463.9,590.3 L466.3,591.2 L471.3,594.4 L476.2,597.5 L478.6,598.5 L477.3,596.3 L473.5,591.8 L469.8,587.3 L468.6,585 L470.9,586 L475.8,589.3 L480.7,592.5 L483,593.6 L481.8,591.3 L478.1,586.7 L474.5,582.1 L473.4,579.9 L475.7,580.9 L480.5,584.3 L485.3,587.7 L487.6,588.7 L486.4,586.5 L482.9,581.8 L479.4,577.1 L478.3,574.8 L480.6,575.9 L485.3,579.4 L490,582.9 L492.2,584.1 L491.2,581.8 L487.8,577 L484.4,572.2 L483.4,569.9 L485.6,571 L490.2,574.6 L494.8,578.3 L497.1,579.5 L496,577.2 L492.8,572.3 L489.5,567.4 L488.5,565.1 L490.8,566.3 L495.3,570 L499.8,573.8 L502,575.1 L501,572.7 L497.9,567.8 L494.7,562.8 L493.8,560.4 L496.1,561.7 L500.5,565.5 L504.9,569.4 L507,570.8 L506.1,568.4 L503.1,563.4 L500.1,558.3 L499.3,555.9 L501.5,557.2 L505.8,561.2 L510,565.2 L512.2,566.6 L511.4,564.2 L508.5,559.1 L505.6,554 L504.8,551.5 L507,552.9 L511.2,557 L515.3,561.1 L517.4,562.5 L516.7,560.1 L513.9,555 L511.2,549.8 L510.5,547.3 L512.6,548.7 L516.7,552.9 L520.7,557.2 L522.8,558.6 L522.1,556.2 L519.5,551 L516.9,545.7 L516.2,543.2 L518.3,544.7 L522.3,549 L526.2,553.4 L528.3,554.9 L527.6,552.4 L525.1,547.1 L522.7,541.8 L522.1,539.3 L524.2,540.8 L528,545.3 L531.8,549.7 L533.8,551.3 L533.3,548.8 L530.9,543.4 L528.6,538 L528.1,535.5 L530.1,537.1 L533.8,541.6 L537.5,546.2 L539.5,547.8 L539,545.3 L536.8,539.9 L534.6,534.5 L534.1,531.9 L536.1,533.6 L539.7,538.2 L543.3,542.8 L545.2,544.5 L544.8,542 L542.7,536.5 L540.7,531 L540.3,528.5 L542.2,530.2 L545.7,534.9 L549.2,539.6 L551.1,541.3 L550.7,538.8 L548.8,533.3 L546.9,527.7 L546.6,525.2 L548.4,526.9 L551.8,531.7 L555.2,536.5 L557,538.3 L556.7,535.8 L554.9,530.2 L553.1,524.6 L552.9,522.1 L554.7,523.9 L558,528.7 L561.2,533.6 L563,535.5 L562.7,532.9 L561.1,527.3 L559.5,521.7 L559.3,519.1 L561.1,521 L564.2,525.9 L567.3,530.9 L569,532.8 L568.8,530.2 L567.3,524.6 L565.9,518.9 L565.8,516.3 L567.5,518.2 L570.5,523.3 L573.5,528.3 L575.1,530.2 L575,527.7 L573.7,522 L572.4,516.3 L572.3,513.7 L574,515.6 L576.9,520.8 L579.7,525.9 L581.3,527.9 L581.3,525.3 L580.1,519.6 L578.9,513.8 L579,511.3 L580.6,513.2 L583.3,518.4 L586,523.6 L587.6,525.6 L587.6,523.1 L586.6,517.3 L585.6,511.6 L585.7,509 L587.2,511 L589.8,516.3 L592.4,521.5 L593.9,523.6 L594,521.1 L593.1,515.3 L592.2,509.5 L592.4,506.9 L593.9,509 L596.4,514.3 L598.8,519.6 L600.2,521.7 L600.4,519.2 L599.7,513.4 L599,507.5 L599.2,505 L600.7,507.1 L603,512.5 L605.2,517.9 L606.6,520 L606.9,517.5 L606.3,511.6 L605.8,505.8 L606,503.3 L607.5,505.4 L609.6,510.8 L611.8,516.3 L613.1,518.4 L613.4,515.9 L613,510.1 L612.6,504.2 L612.9,501.7 L614.3,503.9 L616.3,509.4 L618.3,514.9 L619.6,517.1 L619.9,514.5 L619.7,508.7 L619.4,502.8 L619.9,500.3 L621.1,502.5 L623,508.1 L624.9,513.6 L626.1,515.9 L626.5,513.4 L626.4,507.5 L626.3,501.6 L626.8,499.1 L628,501.4 L629.8,507 L631.5,512.6 L632.7,514.8 L633.1,512.3 L633.2,506.5 L633.2,500.6 L633.8,498.1 L635,500.4 L636.6,506 L638.1,511.7 L639.2,514 L639.8,511.5 L640,505.6 L640.2,499.8 L640.8,497.3 L641.9,499.6 L643.4,505.3 L644.8,510.9 L645.8,513.3 L646.4,510.8 L646.8,504.9 L647.2,499.1 L647.8,496.6 L648.9,499 L650.2,504.7 L651.4,510.4 L652.4,512.7 L653.1,510.3 L653.6,504.5 L654.1,498.6 L654.9,496.2 L655.9,498.5 L657,504.3 L658.1,510 L659.1,512.4 L659.8,510 L660.4,504.1 L661.1,498.3 L661.9,495.9 L662.9,498.3 L663.9,504.1 L664.8,509.8 L665.7,512.2 L666.5,509.8 L667.3,504 L668.1,498.2 L669,495.8Z" fill="#f0dcd2" fill-rule="evenodd"/>
<path d="M669,495.8 L669.9,498.2 L670.7,504 L671.5,509.8 L672.3,512.2 L673.2,509.8 L674.1,504.1 L675.1,498.3 L676.1,495.9 L676.9,498.3 L677.6,504.1 L678.2,510 L678.9,512.4 L679.9,510 L681,504.3 L682.1,498.5 L683.1,496.2 L683.9,498.6 L684.4,504.5 L684.9,510.3 L685.6,512.7 L686.6,510.4 L687.8,504.7 L689.1,499 L690.2,496.6 L690.8,499.1 L691.2,504.9 L691.6,510.8 L692.2,513.3 L693.2,510.9 L694.6,505.3 L696.1,499.6 L697.2,497.3 L697.8,499.8 L698,505.6 L698.2,511.5 L698.8,514 L699.9,511.7 L701.4,506 L703,500.4 L704.2,498.1 L704.8,500.6 L704.8,506.5 L704.9,512.3 L705.3,514.8 L706.5,512.6 L708.2,507 L710,501.4 L711.2,499.1 L711.7,501.6 L711.6,507.5 L711.5,513.4 L711.9,515.9 L713.1,513.6 L715,508.1 L716.9,502.5 L718.1,500.3 L718.6,502.8 L718.3,508.7 L718.1,514.5 L718.4,517.1 L719.7,514.9 L721.7,509.4 L723.7,503.9 L725.1,501.7 L725.4,504.2 L725,510.1 L724.6,515.9 L724.9,518.4 L726.2,516.3 L728.4,510.8 L730.5,505.4 L732,503.3 L732.2,505.8 L731.7,511.6 L731.1,517.5 L731.4,520 L732.8,517.9 L735,512.5 L737.3,507.1 L738.8,505 L739,507.5 L738.3,513.4 L737.6,519.2 L737.8,521.7 L739.2,519.6 L741.6,514.3 L744.1,509 L745.6,506.9 L745.8,509.5 L744.9,515.3 L744,521.1 L744.1,523.6 L745.6,521.5 L748.2,516.3 L750.8,511 L752.3,509 L752.4,511.6 L751.4,517.3 L750.4,523.1 L750.4,525.6 L752,523.6 L754.7,518.4 L757.4,513.2 L759,511.3 L759.1,513.8 L757.9,519.6 L756.7,525.3 L756.7,527.9 L758.3,525.9 L761.1,520.8 L764,515.6 L765.7,513.7 L765.6,516.3 L764.3,522 L763,527.7 L762.9,530.2 L764.5,528.3 L767.5,523.3 L770.5,518.2 L772.2,516.3 L772.1,518.9 L770.7,524.6 L769.2,530.2 L769,532.8 L770.7,530.9 L773.8,525.9 L776.9,521 L778.7,519.1 L778.5,521.7 L776.9,527.3 L775.3,532.9 L775,535.5 L776.8,533.6 L780,528.7 L783.3,523.9 L785.1,522.1 L784.9,524.6 L783.1,530.2 L781.3,535.8 L781,538.3 L782.8,536.5 L786.2,531.7 L789.6,526.9 L791.4,525.2 L791.1,527.7 L789.2,533.3 L787.3,538.8 L786.9,541.3 L788.8,539.6 L792.3,534.9 L795.8,530.2 L797.7,528.5 L797.3,531 L795.3,536.5 L793.2,542 L792.8,544.5 L794.7,542.8 L798.3,538.2 L801.9,533.6 L803.8,531.9 L803.4,534.5 L801.2,539.9 L799,545.3 L798.5,547.8 L800.5,546.2 L804.2,541.6 L807.9,537.1 L809.9,535.5 L809.4,538 L807.1,543.4 L804.7,548.8 L804.2,551.3 L806.2,549.7 L810,545.3 L813.8,540.8 L815.9,539.3 L815.3,541.8 L812.9,547.1 L810.4,552.4 L809.7,554.9 L811.8,553.4 L815.7,549 L819.7,544.7 L821.8,543.2 L821.1,545.7 L818.5,551 L815.9,556.2 L815.2,558.6 L817.3,557.2 L821.3,552.9 L825.4,548.7 L827.5,547.3 L826.8,549.8 L824.1,555 L821.3,560.1 L820.6,562.5 L822.7,561.1 L826.8,557 L831,552.9 L833.2,551.5 L832.4,554 L829.5,559.1 L826.6,564.2 L825.8,566.6 L828,565.2 L832.2,561.2 L836.5,557.2 L838.7,555.9 L837.9,558.3 L834.9,563.4 L831.9,568.4 L831,570.8 L833.1,569.4 L837.5,565.5 L841.9,561.7 L844.2,560.4 L843.3,562.8 L840.1,567.8 L837,572.7 L836,575.1 L838.2,573.8 L842.7,570 L847.2,566.3 L849.5,565.1 L848.5,567.4 L845.2,572.3 L842,577.2 L840.9,579.5 L843.2,578.3 L847.8,574.6 L852.4,571 L854.6,569.9 L853.6,572.2 L850.2,577 L846.8,581.8 L845.8,584.1 L848,582.9 L852.7,579.4 L857.4,575.9 L859.7,574.8 L858.6,577.1 L855.1,581.8 L851.6,586.5 L850.4,588.7 L852.7,587.7 L857.5,584.3 L862.3,580.9 L864.6,579.9 L863.5,582.1 L859.9,586.7 L856.2,591.3 L855,593.6 L857.3,592.5 L862.2,589.3 L867.1,586 L869.4,585 L868.2,587.3 L864.5,591.8 L860.7,596.3 L859.4,598.5 L861.8,597.5 L866.7,594.4 L871.7,591.2 L874.1,590.3 L872.8,592.6 L869,597 L865.1,601.4 L863.7,603.5 L866.1,602.6 L871.1,599.6 L876.2,596.6 L878.6,595.8 L877.3,598 L873.3,602.3 L869.3,606.5 L867.9,608.7 L870.3,607.9 L875.4,605 L880.5,602.1 L883,601.3 L881.6,603.5 L877.5,607.7 L873.4,611.8 L872,613.9 L874.4,613.2 L879.5,610.4 L884.7,607.7 L887.2,607 L885.8,609.1 L881.6,613.2 L877.3,617.2 L875.9,619.3 L878.3,618.6 L883.5,616 L888.8,613.4 L891.3,612.7 L889.8,614.8 L885.5,618.8 L881.1,622.7 L879.6,624.8 L882.1,624.1 L887.4,621.6 L892.7,619.2 L895.2,618.6 L893.7,620.7 L889.2,624.5 L884.8,628.3 L883.2,630.3 L885.7,629.8 L891.1,627.4 L896.5,625.1 L899,624.6 L897.4,626.6 L892.9,630.3 L888.3,634 L886.7,636 L889.2,635.5 L894.6,633.3 L900,631.1 L902.6,630.6 L900.9,632.6 L896.3,636.2 L891.7,639.8 L890,641.7 L892.5,641.3 L898,639.2 L903.5,637.2 L906,636.8 L904.3,638.7 L899.6,642.2 L894.9,645.7 L893.2,647.6 L895.7,647.2 L901.2,645.3 L906.8,643.4 L909.3,643.1 L907.6,644.9 L902.8,648.3 L898,651.7 L896.2,653.5 L898.7,653.2 L904.3,651.4 L909.9,649.6 L912.4,649.4 L910.6,651.2 L905.8,654.5 L900.9,657.7 L899,659.5 L901.6,659.2 L907.2,657.6 L912.8,656 L915.4,655.8 L913.5,657.6 L908.6,660.7 L903.6,663.8 L901.7,665.5 L904.3,665.3 L909.9,663.8 L915.6,662.4 L918.2,662.3 L916.3,664 L911.2,667 L906.2,670 L904.3,671.6 L906.8,671.5 L912.5,670.2 L918.2,668.9 L920.8,668.8 L918.9,670.5 L913.7,673.4 L908.6,676.2 L906.6,677.8 L909.2,677.8 L914.9,676.6 L920.7,675.4 L923.2,675.5 L921.3,677.1 L916.1,679.8 L910.9,682.5 L908.9,684.1 L911.4,684.1 L917.2,683.1 L922.9,682.1 L925.5,682.2 L923.5,683.7 L918.2,686.3 L913,688.9 L910.9,690.4 L913.4,690.5 L919.2,689.6 L925,688.7 L927.6,688.9 L925.5,690.4 L920.2,692.9 L914.9,695.3 L912.8,696.7 L915.3,696.9 L921.1,696.2 L927,695.5 L929.5,695.7 L927.4,697.2 L922,699.5 L916.6,701.7 L914.5,703.1 L917,703.4 L922.9,702.8 L928.7,702.3 L931.2,702.5 L929.1,704 L923.7,706.1 L918.2,708.3 L916.1,709.6 L918.6,709.9 L924.4,709.5 L930.3,709.1 L932.8,709.4 L930.6,710.8 L925.1,712.8 L919.6,714.8 L917.4,716.1 L920,716.4 L925.8,716.2 L931.7,715.9 L934.2,716.4 L932,717.6 L926.4,719.5 L920.9,721.4 L918.6,722.6 L921.1,723 L927,722.9 L932.9,722.8 L935.4,723.3 L933.1,724.5 L927.5,726.3 L921.9,728 L919.7,729.2 L922.2,729.6 L928,729.7 L933.9,729.7 L936.4,730.3 L934.1,731.5 L928.5,733.1 L922.8,734.6 L920.5,735.7 L923,736.3 L928.9,736.5 L934.7,736.7 L937.2,737.3 L934.9,738.4 L929.2,739.9 L923.6,741.3 L921.2,742.3 L923.7,742.9 L929.6,743.3 L935.4,743.7 L937.9,744.3 L935.5,745.4 L929.8,746.7 L924.1,747.9 L921.8,748.9 L924.2,749.6 L930,750.1 L935.9,750.6 L938.3,751.4 L936,752.4 L930.2,753.5 L924.5,754.6 L922.1,755.6 L924.5,756.3 L930.4,756.9 L936.2,757.6 L938.6,758.4 L936.2,759.4 L930.4,760.4 L924.7,761.3 L922.3,762.2 L924.7,763 L930.5,763.8 L936.3,764.6 L938.7,765.5 L936.3,766.4 L930.5,767.2 L924.7,768 L922.3,768.8 L924.7,769.7 L930.4,770.6 L936.2,771.6 L938.6,772.6 L936.2,773.4 L930.4,774.1 L924.5,774.7 L922.1,775.4 L924.5,776.4 L930.2,777.5 L936,778.6 L938.3,779.6 L935.9,780.4 L930,780.9 L924.2,781.4 L921.8,782.1 L924.1,783.1 L929.8,784.3 L935.5,785.6 L937.9,786.7 L935.4,787.3 L929.6,787.7 L923.7,788.1 L921.2,788.7 L923.6,789.7 L929.2,791.1 L934.9,792.6 L937.2,793.7 L934.7,794.3 L928.9,794.5 L923,794.7 L920.5,795.3 L922.8,796.4 L928.5,797.9 L934.1,799.5 L936.4,800.7 L933.9,801.3 L928,801.3 L922.2,801.4 L919.7,801.8 L921.9,803 L927.5,804.7 L933.1,806.5 L935.4,807.7 L932.9,808.2 L927,808.1 L921.1,808 L918.6,808.4 L920.9,809.6 L926.4,811.5 L932,813.4 L934.2,814.6 L931.7,815.1 L925.8,814.8 L920,814.6 L917.4,814.9 L919.6,816.2 L925.1,818.2 L930.6,820.2 L932.8,821.6 L930.3,821.9 L924.4,821.5 L918.6,821.1 L916.1,821.4 L918.2,822.7 L923.7,824.9 L929.1,827 L931.2,828.5 L928.7,828.7 L922.9,828.2 L917,827.6 L914.5,827.9 L916.6,829.3 L922,831.5 L927.4,833.8 L929.5,835.3 L927,835.5 L921.1,834.8 L915.3,834.1 L912.8,834.3 L914.9,835.7 L920.2,838.1 L925.5,840.6 L927.6,842.1 L925,842.3 L919.2,841.4 L913.4,840.5 L910.9,840.6 L913,842.1 L918.2,844.7 L923.5,847.3 L925.5,848.8 L922.9,848.9 L917.2,847.9 L911.4,846.9 L908.9,846.9 L910.9,848.5 L916.1,851.2 L921.3,853.9 L923.2,855.5 L920.7,855.6 L914.9,854.4 L909.2,853.2 L906.6,853.2 L908.6,854.8 L913.7,857.6 L918.9,860.5 L920.8,862.2 L918.2,862.1 L912.5,860.8 L906.8,859.5 L904.3,859.4 L906.2,861 L911.2,864 L916.3,867 L918.2,868.7 L915.6,868.6 L909.9,867.2 L904.3,865.7 L901.7,865.5 L903.6,867.2 L908.6,870.3 L913.5,873.4 L915.4,875.2 L912.8,875 L907.2,873.4 L901.6,871.8 L899,871.5 L900.9,873.3 L905.8,876.5 L910.6,879.8 L912.4,881.6 L909.9,881.4 L904.3,879.6 L898.7,877.8 L896.2,877.5 L898,879.3 L902.8,882.7 L907.6,886.1 L909.3,887.9 L906.8,887.6 L901.2,885.7 L895.7,883.8 L893.2,883.4 L894.9,885.3 L899.6,888.8 L904.3,892.3 L906,894.2 L903.5,893.8 L898,891.8 L892.5,889.7 L890,889.3 L891.7,891.2 L896.3,894.8 L900.9,898.4 L902.6,900.3 L900,899.9 L894.6,897.7 L889.2,895.5 L886.7,895 L888.3,897 L892.9,900.7 L897.4,904.4 L899,906.4 L896.5,905.9 L891.1,903.6 L885.7,901.2 L883.2,900.7 L884.8,902.7 L889.2,906.5 L893.7,910.3 L895.2,912.4 L892.7,911.8 L887.4,909.4 L882.1,906.9 L879.6,906.2 L881.1,908.3 L885.5,912.2 L889.8,916.2 L891.3,918.3 L888.8,917.6 L883.5,915 L878.3,912.4 L875.9,911.7 L877.3,913.8 L881.6,917.8 L885.8,921.9 L887.2,924 L884.7,923.3 L879.5,920.6 L874.4,917.8 L872,917.1 L873.4,919.2 L877.5,923.3 L881.6,927.5 L883,929.7 L880.5,928.9 L875.4,926 L870.3,923.1 L867.9,922.3 L869.3,924.5 L873.3,928.7 L877.3,933 L878.6,935.2 L876.2,934.4 L871.1,931.4 L866.1,928.4 L863.7,927.5 L865.1,929.6 L869,934 L872.8,938.4 L874.1,940.7 L871.7,939.8 L866.7,936.6 L861.8,933.5 L859.4,932.5 L860.7,934.7 L864.5,939.2 L868.2,943.7 L869.4,946 L867.1,945 L862.2,941.7 L857.3,938.5 L855,937.4 L856.2,939.7 L859.9,944.3 L863.5,948.9 L864.6,951.1 L862.3,950.1 L857.5,946.7 L852.7,943.3 L850.4,942.3 L851.6,944.5 L855.1,949.2 L858.6,953.9 L859.7,956.2 L857.4,955.1 L852.7,951.6 L848,948.1 L845.8,946.9 L846.8,949.2 L850.2,954 L853.6,958.8 L854.6,961.1 L852.4,960 L847.8,956.4 L843.2,952.7 L840.9,951.5 L842,953.8 L845.2,958.7 L848.5,963.6 L849.5,965.9 L847.2,964.7 L842.7,961 L838.2,957.2 L836,955.9 L837,958.3 L840.1,963.2 L843.3,968.2 L844.2,970.6 L841.9,969.3 L837.5,965.5 L833.1,961.6 L831,960.2 L831.9,962.6 L834.9,967.6 L837.9,972.7 L838.7,975.1 L836.5,973.8 L832.2,969.8 L828,965.8 L825.8,964.4 L826.6,966.8 L829.5,971.9 L832.4,977 L833.2,979.5 L831,978.1 L826.8,974 L822.7,969.9 L820.6,968.5 L821.3,970.9 L824.1,976 L826.8,981.2 L827.5,983.7 L825.4,982.3 L821.3,978.1 L817.3,973.8 L815.2,972.4 L815.9,974.8 L818.5,980 L821.1,985.3 L821.8,987.8 L819.7,986.3 L815.7,982 L811.8,977.6 L809.7,976.1 L810.4,978.6 L812.9,983.9 L815.3,989.2 L815.9,991.7 L813.8,990.2 L810,985.7 L806.2,981.3 L804.2,979.7 L804.7,982.2 L807.1,987.6 L809.4,993 L809.9,995.5 L807.9,993.9 L804.2,989.4 L800.5,984.8 L798.5,983.2 L799,985.7 L801.2,991.1 L803.4,996.5 L803.9,999.1 L801.9,997.4 L798.3,992.8 L794.7,988.2 L792.8,986.5 L793.2,989 L795.3,994.5 L797.3,1000 L797.7,1002.5 L795.8,1000.8 L792.3,996.1 L788.8,991.4 L786.9,989.7 L787.3,992.2 L789.2,997.7 L791.1,1003.3 L791.4,1005.8 L789.6,1004.1 L786.2,999.3 L782.8,994.5 L781,992.7 L781.3,995.2 L783.1,1000.8 L784.9,1006.4 L785.1,1008.9 L783.3,1007.1 L780,1002.3 L776.8,997.4 L775,995.5 L775.3,998.1 L776.9,1003.7 L778.5,1009.3 L778.7,1011.9 L776.9,1010 L773.8,1005.1 L770.7,1000.1 L769,998.2 L769.2,1000.8 L770.7,1006.4 L772.1,1012.1 L772.2,1014.7 L770.5,1012.8 L767.5,1007.7 L764.5,1002.7 L762.9,1000.8 L763,1003.3 L764.3,1009 L765.6,1014.7 L765.7,1017.3 L764,1015.4 L761.1,1010.2 L758.3,1005.1 L756.7,1003.1 L756.7,1005.7 L757.9,1011.4 L759.1,1017.2 L759,1019.7 L757.4,1017.8 L754.7,1012.6 L752,1007.4 L750.4,1005.4 L750.4,1007.9 L751.4,1013.7 L752.4,1019.4 L752.3,1022 L750.8,1020 L748.2,1014.7 L745.6,1009.5 L744.1,1007.4 L744,1009.9 L744.9,1015.7 L745.8,1021.5 L745.6,1024.1 L744.1,1022 L741.6,1016.7 L739.2,1011.4 L737.8,1009.3 L737.6,1011.8 L738.3,1017.6 L739,1023.5 L738.8,1026 L737.3,1023.9 L735,1018.5 L732.8,1013.1 L731.4,1011 L731.1,1013.5 L731.7,1019.4 L732.2,1025.2 L732,1027.7 L730.5,1025.6 L728.4,1020.2 L726.2,1014.7 L724.9,1012.6 L724.6,1015.1 L725,1020.9 L725.4,1026.8 L725.1,1029.3 L723.7,1027.1 L721.7,1021.6 L719.7,1016.1 L718.4,1013.9 L718.1,1016.5 L718.3,1022.3 L718.6,1028.2 L718.1,1030.7 L716.9,1028.5 L715,1022.9 L713.1,1017.4 L711.9,1015.1 L711.5,1017.6 L711.6,1023.5 L711.7,1029.4 L711.2,1031.9 L710,1029.6 L708.2,1024 L706.5,1018.4 L705.3,1016.2 L704.9,1018.7 L704.8,1024.5 L704.8,1030.4 L704.2,1032.9 L703,1030.6 L701.4,1025 L699.9,1019.3 L698.8,1017 L698.2,1019.5 L698,1025.4 L697.8,1031.2 L697.2,1033.7 L696.1,1031.4 L694.6,1025.7 L693.2,1020.1 L692.2,1017.7 L691.6,1020.2 L691.2,1026.1 L690.8,1031.9 L690.2,1034.4 L689.1,1032 L687.8,1026.3 L686.6,1020.6 L685.6,1018.3 L684.9,1020.7 L684.4,1026.5 L683.9,1032.4 L683.1,1034.8 L682.1,1032.5 L681,1026.7 L679.9,1021 L678.9,1018.6 L678.2,1021 L677.6,1026.9 L676.9,1032.7 L676.1,1035.1 L675.1,1032.7 L674.1,1026.9 L673.2,1021.2 L672.3,1018.8 L671.5,1021.2 L670.7,1027 L669.9,1032.8 L669,1035.2 L668.1,1032.8 L667.3,1027 L666.5,1021.2 L665.7,1018.8 L664.8,1021.2 L663.9,1026.9 L662.9,1032.7 L661.9,1035.1 L661.1,1032.7 L660.4,1026.9 L659.8,1021 L659.1,1018.6 L658.1,1021 L657,1026.7 L655.9,1032.5 L654.9,1034.8 L654.1,1032.4 L653.6,1026.5 L653.1,1020.7 L652.4,1018.3 L651.4,1020.6 L650.2,1026.3 L648.9,1032 L647.8,1034.4 L647.2,1031.9 L646.8,1026.1 L646.4,1020.2 L645.8,1017.7 L644.8,1020.1 L643.4,1025.7 L641.9,1031.4 L640.8,1033.7 L640.2,1031.2 L640,1025.4 L639.8,1019.5 L639.2,1017 L638.1,1019.3 L636.6,1025 L635,1030.6 L633.8,1032.9 L633.2,1030.4 L633.2,1024.5 L633.1,1018.7 L632.7,1016.2 L631.5,1018.4 L629.8,1024 L628,1029.6 L626.8,1031.9 L626.3,1029.4 L626.4,1023.5 L626.5,1017.6 L626.1,1015.1 L624.9,1017.4 L623,1022.9 L621.1,1028.5 L619.9,1030.7 L619.4,1028.2 L619.7,1022.3 L619.9,1016.5 L619.6,1013.9 L618.3,1016.1 L616.3,1021.6 L614.3,1027.1 L612.9,1029.3 L612.6,1026.8 L613,1020.9 L613.4,1015.1 L613.1,1012.6 L611.8,1014.7 L609.6,1020.2 L607.5,1025.6 L606,1027.7 L605.8,1025.2 L606.3,1019.4 L606.9,1013.5 L606.6,1011 L605.2,1013.1 L603,1018.5 L600.7,1023.9 L599.2,1026 L599,1023.5 L599.7,1017.6 L600.4,1011.8 L600.2,1009.3 L598.8,1011.4 L596.4,1016.7 L593.9,1022 L592.4,1024.1 L592.2,1021.5 L593.1,1015.7 L594,1009.9 L593.9,1007.4 L592.4,1009.5 L589.8,1014.7 L587.2,1020 L585.7,1022 L585.6,1019.4 L586.6,1013.7 L587.6,1007.9 L587.6,1005.4 L586,1007.4 L583.3,1012.6 L580.6,1017.8 L579,1019.7 L578.9,1017.2 L580.1,1011.4 L581.3,1005.7 L581.3,1003.1 L579.7,1005.1 L576.9,1010.2 L574,1015.4 L572.3,1017.3 L572.4,1014.7 L573.7,1009 L575,1003.3 L575.1,1000.8 L573.5,1002.7 L570.5,1007.7 L567.5,1012.8 L565.8,1014.7 L565.9,1012.1 L567.3,1006.4 L568.8,1000.8 L569,998.2 L567.3,1000.1 L564.2,1005.1 L561.1,1010 L559.3,1011.9 L559.5,1009.3 L561.1,1003.7 L562.7,998.1 L563,995.5 L561.2,997.4 L558,1002.3 L554.7,1007.1 L552.9,1008.9 L553.1,1006.4 L554.9,1000.8 L556.7,995.2 L557,992.7 L555.2,994.5 L551.8,999.3 L548.4,1004.1 L546.6,1005.8 L546.9,1003.3 L548.8,997.7 L550.7,992.2 L551.1,989.7 L549.2,991.4 L545.7,996.1 L542.2,1000.8 L540.3,1002.5 L540.7,1000 L542.7,994.5 L544.8,989 L545.2,986.5 L543.3,988.2 L539.7,992.8 L536.1,997.4 L534.2,999.1 L534.6,996.5 L536.8,991.1 L539,985.7 L539.5,983.2 L537.5,984.8 L533.8,989.4 L530.1,993.9 L528.1,995.5 L528.6,993 L530.9,987.6 L533.3,982.2 L533.8,979.7 L531.8,981.3 L528,985.7 L524.2,990.2 L522.1,991.7 L522.7,989.2 L525.1,983.9 L527.6,978.6 L528.3,976.1 L526.2,977.6 L522.3,982 L518.3,986.3 L516.2,987.8 L516.9,985.3 L519.5,980 L522.1,974.8 L522.8,972.4 L520.7,973.8 L516.7,978.1 L512.6,982.3 L510.5,983.7 L511.2,981.2 L513.9,976 L516.7,970.9 L517.4,968.5 L515.3,969.9 L511.2,974 L507,978.1 L504.8,979.5 L505.6,977 L508.5,971.9 L511.4,966.8 L512.2,964.4 L510,965.8 L505.8,969.8 L501.5,973.8 L499.3,975.1 L500.1,972.7 L503.1,967.6 L506.1,962.6 L507,960.2 L504.9,961.6 L500.5,965.5 L496.1,969.3 L493.8,970.6 L494.7,968.2 L497.9,963.2 L501,958.3 L502,955.9 L499.8,957.2 L495.3,961 L490.8,964.7 L488.5,965.9 L489.5,963.6 L492.8,958.7 L496,953.8 L497.1,951.5 L494.8,952.7 L490.2,956.4 L485.6,960 L483.4,961.1 L484.4,958.8 L487.8,954 L491.2,949.2 L492.2,946.9 L490,948.1 L485.3,951.6 L480.6,955.1 L478.3,956.2 L479.4,953.9 L482.9,949.2 L486.4,944.5 L487.6,942.3 L485.3,943.3 L480.5,946.7 L475.7,950.1 L473.4,951.1 L474.5,948.9 L478.1,944.3 L481.8,939.7 L483,937.4 L480.7,938.5 L475.8,941.7 L470.9,945 L468.6,946 L469.8,943.7 L473.5,939.2 L477.3,934.7 L478.6,932.5 L476.2,933.5 L471.3,936.6 L466.3,939.8 L463.9,940.7 L465.2,938.4 L469,934 L472.9,929.6 L474.3,927.5 L471.9,928.4 L466.9,931.4 L461.8,934.4 L459.4,935.2 L460.7,933 L464.7,928.7 L468.7,924.5 L470.1,922.3 L467.7,923.1 L462.6,926 L457.5,928.9 L455,929.7 L456.4,927.5 L460.5,923.3 L464.6,919.2 L466,917.1 L463.6,917.8 L458.5,920.6 L453.3,923.3 L450.8,924 L452.2,921.9 L456.4,917.8 L460.7,913.8 L462.1,911.7 L459.7,912.4 L454.5,915 L449.2,917.6 L446.7,918.3 L448.2,916.2 L452.5,912.2 L456.9,908.3 L458.4,906.2 L455.9,906.9 L450.6,909.4 L445.3,911.8 L442.8,912.4 L444.3,910.3 L448.8,906.5 L453.2,902.7 L454.8,900.7 L452.3,901.2 L446.9,903.6 L441.5,905.9 L439,906.4 L440.6,904.4 L445.1,900.7 L449.7,897 L451.3,895 L448.8,895.5 L443.4,897.7 L438,899.9 L435.4,900.4 L437.1,898.4 L441.7,894.8 L446.3,891.2 L448,889.3 L445.5,889.7 L440,891.8 L434.5,893.8 L432,894.2 L433.7,892.3 L438.4,888.8 L443.1,885.3 L444.8,883.4 L442.3,883.8 L436.8,885.7 L431.2,887.6 L428.7,887.9 L430.4,886.1 L435.2,882.7 L440,879.3 L441.8,877.5 L439.3,877.8 L433.7,879.6 L428.1,881.4 L425.6,881.6 L427.4,879.8 L432.2,876.5 L437.1,873.3 L439,871.5 L436.4,871.8 L430.8,873.4 L425.2,875 L422.6,875.2 L424.5,873.4 L429.4,870.3 L434.4,867.2 L436.3,865.5 L433.7,865.7 L428.1,867.2 L422.4,868.6 L419.8,868.7 L421.7,867 L426.8,864 L431.8,861 L433.7,859.4 L431.2,859.5 L425.5,860.8 L419.8,862.1 L417.2,862.2 L419.1,860.5 L424.3,857.6 L429.4,854.8 L431.4,853.2 L428.8,853.2 L423.1,854.4 L417.3,855.6 L414.8,855.5 L416.7,853.9 L421.9,851.2 L427.1,848.5 L429.1,846.9 L426.6,846.9 L420.8,847.9 L415.1,848.9 L412.5,848.8 L414.5,847.3 L419.8,844.7 L425,842.1 L427.1,840.6 L424.6,840.5 L418.8,841.4 L413,842.3 L410.4,842.1 L412.5,840.6 L417.8,838.1 L423.1,835.7 L425.2,834.3 L422.7,834.1 L416.9,834.8 L411,835.5 L408.5,835.3 L410.6,833.8 L416,831.5 L421.4,829.3 L423.5,827.9 L421,827.6 L415.1,828.2 L409.3,828.7 L406.8,828.5 L408.9,827 L414.3,824.9 L419.8,822.7 L421.9,821.4 L419.4,821.1 L413.6,821.5 L407.7,821.9 L405.2,821.6 L407.4,820.2 L412.9,818.2 L418.4,816.2 L420.6,814.9 L418,814.6 L412.2,814.8 L406.3,815.1 L403.8,814.6 L406,813.4 L411.6,811.5 L417.1,809.6 L419.4,808.4 L416.9,808 L411,808.1 L405.1,808.2 L402.6,807.7 L404.9,806.5 L410.5,804.7 L416.1,803 L418.3,801.8 L415.8,801.4 L410,801.3 L404.1,801.3 L401.6,800.7 L403.9,799.5 L409.5,797.9 L415.2,796.4 L417.5,795.3 L415,794.7 L409.1,794.5 L403.3,794.3 L400.8,793.7 L403.1,792.6 L408.8,791.1 L414.4,789.7 L416.8,788.7 L414.3,788.1 L408.4,787.7 L402.6,787.3 L400.1,786.7 L402.5,785.6 L408.2,784.3 L413.9,783.1 L416.2,782.1 L413.8,781.4 L408,780.9 L402.1,780.4 L399.7,779.6 L402,778.6 L407.8,777.5 L413.5,776.4 L415.9,775.4 L413.5,774.7 L407.6,774.1 L401.8,773.4 L399.4,772.6 L401.8,771.6 L407.6,770.6 L413.3,769.7 L415.7,768.8 L413.3,768 L407.5,767.2 L401.7,766.4 L399.3,765.5 L401.7,764.6 L407.5,763.8 L413.3,763 L415.7,762.2 L413.3,761.3 L407.6,760.4 L401.8,759.4 L399.4,758.4 L401.8,757.6 L407.6,756.9 L413.5,756.3 L415.9,755.6 L413.5,754.6 L407.8,753.5 L402,752.4 L399.7,751.4 L402.1,750.6 L408,750.1 L413.8,749.6 L416.2,748.9 L413.9,747.9 L408.2,746.7 L402.5,745.4 L400.1,744.3 L402.6,743.7 L408.4,743.3 L414.3,742.9 L416.8,742.3 L414.4,741.3 L408.8,739.9 L403.1,738.4 L400.8,737.3 L403.3,736.7 L409.1,736.5 L415,736.3 L417.5,735.7 L415.2,734.6 L409.5,733.1 L403.9,731.5 L401.6,730.3 L404.1,729.7 L410,729.7 L415.8,729.6 L418.3,729.2 L416.1,728 L410.5,726.3 L404.9,724.5 L402.6,723.3 L405.1,722.8 L411,722.9 L416.9,723 L419.4,722.6 L417.1,721.4 L411.6,719.5 L406,717.6 L403.8,716.4 L406.3,715.9 L412.2,716.2 L418,716.4 L420.6,716.1 L418.4,714.8 L412.9,712.8 L407.4,710.8 L405.2,709.4 L407.7,709.1 L413.6,709.5 L419.4,709.9 L421.9,709.6 L419.8,708.3 L414.3,706.1 L408.9,704 L406.8,702.5 L409.3,702.3 L415.1,702.8 L421,703.4 L423.5,703.1 L421.4,701.7 L416,699.5 L410.6,697.2 L408.5,695.7 L411,695.5 L416.9,696.2 L422.7,696.9 L425.2,696.7 L423.1,695.3 L417.8,692.9 L412.5,690.4 L410.4,688.9 L413,688.7 L418.8,689.6 L424.6,690.5 L427.1,690.4 L425,688.9 L419.8,686.3 L414.5,683.7 L412.5,682.2 L415.1,682.1 L420.8,683.1 L426.6,684.1 L429.1,684.1 L427.1,682.5 L421.9,679.8 L416.7,677.1 L414.8,675.5 L417.3,675.4 L423.1,676.6 L428.8,677.8 L431.4,677.8 L429.4,676.2 L424.3,673.4 L419.1,670.5 L417.2,668.8 L419.8,668.9 L425.5,670.2 L431.2,671.5 L433.7,671.6 L431.8,670 L426.8,667 L421.7,664 L419.8,662.3 L422.4,662.4 L428.1,663.8 L433.7,665.3 L436.3,665.5 L434.4,663.8 L429.4,660.7 L424.5,657.6 L422.6,655.8 L425.2,656 L430.8,657.6 L436.4,659.2 L439,659.5 L437.1,657.7 L432.2,654.5 L427.4,651.2 L425.6,649.4 L428.1,649.6 L433.7,651.4 L439.3,653.2 L441.8,653.5 L440,651.7 L435.2,648.3 L430.4,644.9 L428.7,643.1 L431.2,643.4 L436.8,645.3 L442.3,647.2 L444.8,647.6 L443.1,645.7 L438.4,642.2 L433.7,638.7 L432,636.8 L434.5,637.2 L440,639.2 L445.5,641.3 L448,641.7 L446.3,639.8 L441.7,636.2 L437.1,632.6 L435.4,630.7 L438,631.1 L443.4,633.3 L448.8,635.5 L451.3,636 L449.7,634 L445.1,630.3 L440.6,626.6 L439,624.6 L441.5,625.1 L446.9,627.4 L452.3,629.8 L454.8,630.3 L453.2,628.3 L448.8,624.5 L444.3,620.7 L442.8,618.6 L445.3,619.2 L450.6,621.6 L455.9,624.1 L458.4,624.8 L456.9,622.7 L452.5,618.8 L448.2,614.8 L446.7,612.7 L449.2,613.4 L454.5,616 L459.7,618.6 L462.1,619.3 L460.7,617.2 L456.4,613.2 L452.2,609.1 L450.8,607 L453.3,607.7 L458.5,610.4 L463.6,613.2 L466,613.9 L464.6,611.8 L460.5,607.7 L456.4,603.5 L455,601.3 L457.5,602.1 L462.6,605 L467.7,607.9 L470.1,608.7 L468.7,606.5 L464.7,602.3 L460.7,598 L459.4,595.8 L461.8,596.6 L466.9,599.6 L471.9,602.6 L474.3,603.5 L472.9,601.4 L469,597 L465.2,592.6 L463.9,590.3 L466.3,591.2 L471.3,594.4 L476.2,597.5 L478.6,598.5 L477.3,596.3 L473.5,591.8 L469.8,587.3 L468.6,585 L470.9,586 L475.8,589.3 L480.7,592.5 L483,593.6 L481.8,591.3 L478.1,586.7 L474.5,582.1 L473.4,579.9 L475.7,580.9 L480.5,584.3 L485.3,587.7 L487.6,588.7 L486.4,586.5 L482.9,581.8 L479.4,577.1 L478.3,574.8 L480.6,575.9 L485.3,579.4 L490,582.9 L492.2,584.1 L491.2,581.8 L487.8,577 L484.4,572.2 L483.4,569.9 L485.6,571 L490.2,574.6 L494.8,578.3 L497.1,579.5 L496,577.2 L492.8,572.3 L489.5,567.4 L488.5,565.1 L490.8,566.3 L495.3,570 L499.8,573.8 L502,575.1 L501,572.7 L497.9,567.8 L494.7,562.8 L493.8,560.4 L496.1,561.7 L500.5,565.5 L504.9,569.4 L507,570.8 L506.1,568.4 L503.1,563.4 L500.1,558.3 L499.3,555.9 L501.5,557.2 L505.8,561.2 L510,565.2 L512.2,566.6 L511.4,564.2 L508.5,559.1 L505.6,554 L504.8,551.5 L507,552.9 L511.2,557 L515.3,561.1 L517.4,562.5 L516.7,560.1 L513.9,555 L511.2,549.8 L510.5,547.3 L512.6,548.7 L516.7,552.9 L520.7,557.2 L522.8,558.6 L522.1,556.2 L519.5,551 L516.9,545.7 L516.2,543.2 L518.3,544.7 L522.3,549 L526.2,553.4 L528.3,554.9 L527.6,552.4 L525.1,547.1 L522.7,541.8 L522.1,539.3 L524.2,540.8 L528,545.3 L531.8,549.7 L533.8,551.3 L533.3,548.8 L530.9,543.4 L528.6,538 L528.1,535.5 L530.1,537.1 L533.8,541.6 L537.5,546.2 L539.5,547.8 L539,545.3 L536.8,539.9 L534.6,534.5 L534.1,531.9 L536.1,533.6 L539.7,538.2 L543.3,542.8 L545.2,544.5 L544.8,542 L542.7,536.5 L540.7,531 L540.3,528.5 L542.2,530.2 L545.7,534.9 L549.2,539.6 L551.1,541.3 L550.7,538.8 L548.8,533.3 L546.9,527.7 L546.6,525.2 L548.4,526.9 L551.8,531.7 L555.2,536.5 L557,538.3 L556.7,535.8 L554.9,530.2 L553.1,524.6 L552.9,522.1 L554.7,523.9 L558,528.7 L561.2,533.6 L563,535.5 L562.7,532.9 L561.1,527.3 L559.5,521.7 L559.3,519.1 L561.1,521 L564.2,525.9 L567.3,530.9 L569,532.8 L568.8,530.2 L567.3,524.6 L565.9,518.9 L565.8,516.3 L567.5,518.2 L570.5,523.3 L573.5,528.3 L575.1,530.2 L575,527.7 L573.7,522 L572.4,516.3 L572.3,513.7 L574,515.6 L576.9,520.8 L579.7,525.9 L581.3,527.9 L581.3,525.3 L580.1,519.6 L578.9,513.8 L579,511.3 L580.6,513.2 L583.3,518.4 L586,523.6 L587.6,525.6 L587.6,523.1 L586.6,517.3 L585.6,511.6 L585.7,509 L587.2,511 L589.8,516.3 L592.4,521.5 L593.9,523.6 L594,521.1 L593.1,515.3 L592.2,509.5 L592.4,506.9 L593.9,509 L596.4,514.3 L598.8,519.6 L600.2,521.7 L600.4,519.2 L599.7,513.4 L599,507.5 L599.2,505 L600.7,507.1 L603,512.5 L605.2,517.9 L606.6,520 L606.9,517.5 L606.3,511.6 L605.8,505.8 L606,503.3 L607.5,505.4 L609.6,510.8 L611.8,516.3 L613.1,518.4 L613.4,515.9 L613,510.1 L612.6,504.2 L612.9,501.7 L614.3,503.9 L616.3,509.4 L618.3,514.9 L619.6,517.1 L619.9,514.5 L619.7,508.7 L619.4,502.8 L619.9,500.3 L621.1,502.5 L623,508.1 L624.9,513.6 L626.1,515.9 L626.5,513.4 L626.4,507.5 L626.3,501.6 L626.8,499.1 L628,501.4 L629.8,507 L631.5,512.6 L632.7,514.8 L633.1,512.3 L633.2,506.5 L633.2,500.6 L633.8,498.1 L635,500.4 L636.6,506 L638.1,511.7 L639.2,514 L639.8,511.5 L640,505.6 L640.2,499.8 L640.8,497.3 L641.9,499.6 L643.4,505.3 L644.8,510.9 L645.8,513.3 L646.4,510.8 L646.8,504.9 L647.2,499.1 L647.8,496.6 L648.9,499 L650.2,504.7 L651.4,510.4 L652.4,512.7 L653.1,510.3 L653.6,504.5 L654.1,498.6 L654.9,496.2 L655.9,498.5 L657,504.3 L658.1,510 L659.1,512.4 L659.8,510 L660.4,504.1 L661.1,498.3 L661.9,495.9 L662.9,498.3 L663.9,504.1 L664.8,509.8 L665.7,512.2 L666.5,509.8 L667.3,504 L668.1,498.2 L669,495.8Z" fill="none" stroke="#33686a" stroke-width="1"/>
<circle cx="669" cy="765.5" r="284" fill="none" stroke="#3a4a4a" stroke-width="1.1"/>
<path d="M212,199.2 L214.4,202.5 L216.7,204.3 L219.1,204.3 L221.4,202.7 L223.8,199.4 L226.1,194.6 L228.5,188.3 L230.8,180.8 L233.2,172.1 L235.5,162.5 L237.9,152.3 L240.2,141.7 L242.6,131 L244.9,120.4 L247.3,110.1 L249.6,100.5 L252,91.8 L254.3,84.2 L256.7,77.8 L259,72.9 L261.4,69.5 L263.7,67.7 L265.8,67.7 L267.5,69.3" fill="none" stroke="url(#gsfade)" stroke-width="2.9" stroke-linejoin="round"/>
<path d="M265.8,67.7 L267.5,69.3 L269.3,72.6 L271,77.4 L272.8,83.6 L274.5,91.2 L276.3,99.8 L278,109.4 L279.7,119.6 L281.5,130.2 L283.2,140.9 L285,151.6 L286.7,161.8 L288.5,171.4 L290.2,180.1 L291.9,187.8 L293.7,194.2 L295.4,199.1 L297.2,202.5 L298.9,204.3 L300.6,204.3 L302.4,202.7 L304.1,199.5 L305.9,194.7 L307.6,188.4 L309.4,180.9 L311.1,172.2 L312.8,162.7 L314.6,152.5 L316.3,141.9 L318.1,131.1 L319.8,120.5 L321.5,110.3 L323.3,100.7 L325,91.9 L326.8,84.3 L328.5,77.9 L330.3,72.9 L332,69.5 L333.7,67.8 L335.3,67.7 L336.5,69.3 L337.7,72.5 L339,77.3 L340.2,83.6 L341.4,91.1 L342.6,99.7 L343.9,109.3 L345.1,119.5 L346.3,130.1 L347.6,140.8 L348.8,151.4 L350,161.7 L351.3,171.3 L352.5,180 L353.7,187.7 L355,194.1 L356.2,199.1 L357.4,202.5 L358.7,204.2 L359.9,204.3 L361.1,202.7 L362.4,199.5 L363.6,194.7 L364.8,188.5 L366.1,181 L367.3,172.3 L368.5,162.8 L369.8,152.6 L371,142 L372.2,131.3 L373.4,120.6 L374.7,110.4 L375.9,100.8 L377.1,92 L378.4,84.3 L379.6,77.9 L380.8,73 L382.1,69.6 L383.3,67.8 L384.4,67.7 L385.3,69.2 L386.2,72.5 L387.1,77.2 L388,83.5 L388.9,91 L389.9,99.6 L390.8,109.1 L391.7,119.3 L392.6,129.9 L393.5,140.7 L394.4,151.3 L395.3,161.5 L396.2,171.2 L397.1,179.9 L398,187.6 L399,194 L399.9,199 L400.8,202.4 L401.7,204.2 L402.6,204.3 L403.5,202.8 L404.4,199.6 L405.3,194.8 L406.2,188.6 L407.1,181.1 L408,172.4 L409,162.9 L409.9,152.7 L410.8,142.2 L411.7,131.4 L412.6,120.8 L413.5,110.5 L414.4,100.9 L415.3,92.1 L416.2,84.4 L417.1,78 L418.1,73 L419,69.6 L419.9,67.8 L420.7,67.7 L421.4,69.2 L422.1,72.4 L422.8,77.2 L423.5,83.4 L424.2,90.9 L424.9,99.5 L425.6,109 L426.3,119.2 L427,129.8 L427.7,140.5 L428.4,151.2 L429.1,161.4 L429.8,171 L430.5,179.8 L431.2,187.5 L431.9,193.9 L432.6,198.9 L433.3,202.4 L434,204.2 L434.7,204.4 L435.4,202.8 L436.1,199.6 L436.8,194.9 L437.6,188.7 L438.3,181.2 L439,172.6 L439.7,163.1 L440.4,152.9 L441.1,142.3 L441.8,131.5 L442.5,120.9 L443.2,110.6 L443.9,101 L444.6,92.2 L445.3,84.5 L446,78.1 L446.7,73.1 L447.4,69.6 L448.1,67.8 L448.7,67.6 L449.3,69.2 L449.9,72.4 L450.5,77.1 L451.1,83.3 L451.7,90.8 L452.3,99.4 L452.9,108.9 L453.5,119.1 L454.1,129.6 L454.6,140.4 L455.2,151 L455.8,161.3 L456.4,170.9 L457,179.7 L457.6,187.4 L458.2,193.9 L458.8,198.9 L459.4,202.4 L459.9,204.2 L460.5,204.4 L461.1,202.8 L461.7,199.7 L462.3,194.9 L462.9,188.8 L463.5,181.3 L464.1,172.7 L464.7,163.2 L465.3,153 L465.8,142.4 L466.4,131.7 L467,121 L467.6,110.8 L468.2,101.1 L468.8,92.3 L469.4,84.6 L470,78.2 L470.6,73.1 L471.2,69.7 L471.7,67.8 L472.3,67.6 L472.8,69.1 L473.4,72.3 L473.9,77 L474.5,83.2 L475,90.7 L475.5,99.3 L476.1,108.8 L476.6,118.9 L477.1,129.5 L477.7,140.2 L478.2,150.9 L478.7,161.2 L479.3,170.8 L479.8,179.6 L480.3,187.3 L480.9,193.8 L481.4,198.8 L481.9,202.3 L482.5,204.2 L483,204.4 L483.5,202.9 L484.1,199.7 L484.6,195 L485.1,188.8 L485.7,181.4 L486.2,172.8 L486.8,163.3 L487.3,153.1 L487.8,142.6 L488.4,131.8 L488.9,121.2 L489.4,110.9 L490,101.2 L490.5,92.4 L491,84.7 L491.6,78.2 L492.1,73.2 L492.6,69.7 L493.2,67.8 L493.7,67.6 L494.1,69.1 L494.6,72.2 L495.1,77 L495.5,83.1 L496,90.6 L496.5,99.1 L496.9,108.6 L497.4,118.8 L497.8,129.4 L498.3,140.1 L498.8,150.7 L499.2,161 L499.7,170.7 L500.2,179.5 L500.6,187.2 L501.1,193.7 L501.5,198.8 L502,202.3 L502.5,204.2 L502.9,204.4 L503.4,202.9 L503.8,199.8 L504.3,195.1 L504.8,188.9 L505.2,181.5 L505.7,172.9 L506.2,163.4 L506.6,153.3 L507.1,142.7 L507.5,132 L508,121.3 L508.5,111 L508.9,101.4 L509.4,92.6 L509.9,84.8 L510.3,78.3 L510.8,73.2 L511.2,69.7 L511.7,67.8 L512.2,67.6 L512.6,69.1 L513,72.2 L513.4,76.9 L513.8,83 L514.2,90.5 L514.6,99 L515,108.5 L515.5,118.6 L515.9,129.2 L516.3,140 L516.7,150.6 L517.1,160.9 L517.5,170.6 L517.9,179.4 L518.3,187.2 L518.8,193.6 L519.2,198.7 L519.6,202.3 L520,204.2 L520.4,204.4 L520.8,202.9 L521.2,199.8 L521.6,195.2 L522.1,189 L522.5,181.6 L522.9,173 L523.3,163.6 L523.7,153.4 L524.1,142.8 L524.5,132.1 L524.9,121.5 L525.3,111.2 L525.8,101.5 L526.2,92.7 L526.6,84.9 L527,78.4 L527.4,73.3 L527.8,69.8 L528.2,67.8 L528.6,67.6 L529,69.1 L529.4,72.1 L529.8,76.8 L530.2,82.9 L530.5,90.4 L530.9,98.9 L531.3,108.4 L531.7,118.5 L532.1,129.1 L532.5,139.8 L532.8,150.5 L533.2,160.8 L533.6,170.5 L534,179.3 L534.4,187.1 L534.8,193.6 L535.1,198.7 L535.5,202.2 L535.9,204.1 L536.3,204.4 L536.7,203 L537,199.9 L537.4,195.2 L537.8,189.1 L538.2,181.7 L538.6,173.1 L539,163.7 L539.3,153.6 L539.7,143 L540.1,132.2 L540.5,121.6 L540.9,111.3 L541.3,101.6 L541.6,92.8 L542,85 L542.4,78.5 L542.8,73.4 L543.2,69.8 L543.6,67.9 L543.9,67.6 L544.3,69 L544.7,72.1 L545,76.7 L545.4,82.8 L545.8,90.3 L546.1,98.8 L546.5,108.2 L546.8,118.4 L547.2,129 L547.6,139.7 L547.9,150.3 L548.3,160.6 L548.7,170.3 L549,179.2 L549.4,187 L549.8,193.5 L550.1,198.6 L550.5,202.2 L550.9,204.1 L551.2,204.4 L551.6,203 L552,199.9 L552.3,195.3 L552.7,189.2 L553,181.8 L553.4,173.3 L553.8,163.8 L554.1,153.7 L554.5,143.1 L554.9,132.4 L555.2,121.7 L555.6,111.4 L556,101.7 L556.3,92.9 L556.7,85.1 L557.1,78.5 L557.4,73.4 L557.8,69.8 L558.2,67.9 L558.5,67.6 L558.8,69 L559.2,72 L559.5,76.7 L559.8,82.8 L560.2,90.2 L560.5,98.7 L560.8,108.1 L561.2,118.2 L561.5,128.8 L561.8,139.6 L562.2,150.2 L562.5,160.5 L562.8,170.2 L563.2,179.1 L563.5,186.9 L563.8,193.4 L564.2,198.6 L564.5,202.2 L564.8,204.1 L565.2,204.4 L565.5,203 L565.8,200 L566.2,195.4 L566.5,189.3 L566.8,181.9 L567.2,173.4 L567.5,163.9 L567.8,153.8 L568.2,143.3 L568.5,132.5 L568.8,121.9 L569.1,111.6 L569.5,101.8 L569.8,93 L570.1,85.2 L570.5,78.6 L570.8,73.5 L571.1,69.9 L571.5,67.9 L571.8,67.6 L572.1,69 L572.4,72 L572.7,76.6 L573,82.7 L573.3,90.1 L573.7,98.6 L574,108 L574.3,118.1 L574.6,128.7 L574.9,139.4 L575.2,150.1 L575.5,160.4 L575.8,170.1 L576.1,179 L576.4,186.8 L576.8,193.3 L577.1,198.5 L577.4,202.1 L577.7,204.1 L578,204.4 L578.3,203 L578.6,200 L578.9,195.4 L579.2,189.4 L579.5,182 L579.9,173.5 L580.2,164.1 L580.5,154 L580.8,143.4 L581.1,132.7 L581.4,122 L581.7,111.7 L582,102 L582.3,93.1 L582.6,85.3 L583,78.7 L583.3,73.5 L583.6,69.9 L583.9,67.9 L584.2,67.6 L584.5,68.9 L584.8,72 L585.1,76.5 L585.3,82.6 L585.6,90 L585.9,98.4 L586.2,107.9 L586.5,118 L586.8,128.5 L587.1,139.3 L587.4,149.9 L587.6,160.3 L587.9,170 L588.2,178.9 L588.5,186.7 L588.8,193.3 L589.1,198.4 L589.4,202.1 L589.6,204.1 L589.9,204.4 L590.2,203.1 L590.5,200.1 L590.8,195.5 L591.1,189.5 L591.4,182.1 L591.7,173.6 L591.9,164.2 L592.2,154.1 L592.5,143.5 L592.8,132.8 L593.1,122.1 L593.4,111.8 L593.7,102.1 L594,93.2 L594.2,85.4 L594.5,78.8 L594.8,73.6 L595.1,69.9 L595.4,67.9 L595.7,67.6 L596,68.9 L596.2,71.9 L596.5,76.5 L596.8,82.5 L597.1,89.8 L597.3,98.3 L597.6,107.7 L597.9,117.8 L598.2,128.4 L598.4,139.1 L598.7,149.8 L599,160.1 L599.3,169.9 L599.5,178.8 L599.8,186.6 L600.1,193.2 L600.4,198.4 L600.6,202 L600.9,204.1 L601.2,204.4 L601.5,203.1 L601.7,200.1 L602,195.6 L602.3,189.5 L602.6,182.2 L602.8,173.7 L603.1,164.3 L603.4,154.2 L603.7,143.7 L603.9,132.9 L604.2,122.3 L604.5,111.9 L604.8,102.2 L605,93.3 L605.3,85.5 L605.6,78.8 L605.9,73.6 L606.1,70 L606.4,67.9 L606.7,67.6 L606.9,68.9 L607.2,71.9 L607.5,76.4 L607.7,82.4 L608,89.7 L608.2,98.2 L608.5,107.6 L608.8,117.7 L609,128.3 L609.3,139 L609.5,149.7 L609.8,160 L610.1,169.7 L610.3,178.6 L610.6,186.5 L610.8,193.1 L611.1,198.3 L611.4,202 L611.6,204.1 L611.9,204.4 L612.1,203.1 L612.4,200.2 L612.7,195.6 L612.9,189.6 L613.2,182.3 L613.4,173.8 L613.7,164.4 L614,154.4 L614.2,143.8 L614.5,133.1 L614.7,122.4 L615,112.1 L615.3,102.3 L615.5,93.4 L615.8,85.5 L616,78.9 L616.3,73.7 L616.6,70 L616.8,67.9 L617.1,67.6 L617.3,68.9 L617.6,71.8 L617.8,76.3 L618.1,82.3 L618.3,89.6 L618.6,98.1 L618.8,107.5 L619,117.6 L619.3,128.1 L619.5,138.9 L619.8,149.5 L620,159.9 L620.3,169.6 L620.5,178.5 L620.8,186.4 L621,193 L621.3,198.3 L621.5,202 L621.8,204 L622,204.4 L622.3,203.2 L622.5,200.2 L622.8,195.7 L623,189.7 L623.3,182.4 L623.5,174 L623.7,164.6 L624,154.5 L624.2,143.9 L624.5,133.2 L624.7,122.5 L625,112.2 L625.2,102.4 L625.5,93.5 L625.7,85.6 L626,79 L626.2,73.8 L626.5,70.1 L626.7,68 L627,67.6 L627.2,68.8 L627.4,71.8 L627.7,76.3 L627.9,82.2 L628.1,89.5 L628.4,98 L628.6,107.4 L628.9,117.4 L629.1,128 L629.3,138.7 L629.6,149.4 L629.8,159.7 L630,169.5 L630.3,178.4 L630.5,186.3 L630.8,193 L631,198.2 L631.2,201.9 L631.5,204 L631.7,204.4 L631.9,203.2 L632.2,200.3 L632.4,195.8 L632.7,189.8 L632.9,182.5 L633.1,174.1 L633.4,164.7 L633.6,154.6 L633.8,144.1 L634.1,133.3 L634.3,122.7 L634.6,112.3 L634.8,102.6 L635,93.6 L635.3,85.7 L635.5,79.1 L635.7,73.8 L636,70.1 L636.2,68 L636.5,67.6 L636.7,68.8 L636.9,71.7 L637.1,76.2 L637.4,82.2 L637.6,89.4 L637.8,97.9 L638.1,107.2 L638.3,117.3 L638.5,127.9 L638.8,138.6 L639,149.3 L639.2,159.6 L639.4,169.4 L639.7,178.3 L639.9,186.2 L640.1,192.9 L640.4,198.2 L640.6,201.9 L640.8,204 L641.1,204.5 L641.3,203.2 L641.5,200.3 L641.7,195.8 L642,189.9 L642.2,182.6 L642.4,174.2 L642.7,164.8 L642.9,154.7 L643.1,144.2 L643.4,133.5 L643.6,122.8 L643.8,112.5 L644,102.7 L644.3,93.7 L644.5,85.8 L644.7,79.1 L645,73.9 L645.2,70.1 L645.4,68 L645.7,67.5 L645.9,68.8 L646.1,71.7 L646.3,76.1 L646.6,82.1 L646.8,89.3 L647,97.8 L647.2,107.1 L647.5,117.2 L647.7,127.7 L647.9,138.5 L648.1,149.1 L648.4,159.5 L648.6,169.3 L648.8,178.2 L649,186.1 L649.3,192.8 L649.5,198.1 L649.7,201.9 L649.9,204 L650.2,204.5 L650.4,203.2 L650.6,200.4 L650.8,195.9 L651.1,190 L651.3,182.7 L651.5,174.3 L651.7,164.9 L651.9,154.9 L652.2,144.4 L652.4,133.6 L652.6,122.9 L652.8,112.6 L653.1,102.8 L653.3,93.8 L653.5,85.9 L653.7,79.2 L654,73.9 L654.2,70.2 L654.4,68 L654.6,67.5 L654.9,68.7 L655.1,71.6 L655.3,76.1 L655.5,82 L655.7,89.2 L655.9,97.6 L656.1,107 L656.3,117.1 L656.5,127.6 L656.7,138.3 L657,149 L657.2,159.3 L657.4,169.1 L657.6,178.1 L657.8,186 L658,192.7 L658.2,198 L658.4,201.8 L658.6,204 L658.8,204.5 L659.1,203.3 L659.3,200.4 L659.5,196 L659.7,190.1 L659.9,182.8 L660.1,174.4 L660.3,165.1 L660.5,155 L660.7,144.5 L660.9,133.8 L661.2,123.1 L661.4,112.7 L661.6,102.9 L661.8,94 L662,86 L662.2,79.3 L662.4,74 L662.6,70.2 L662.8,68 L663,67.5 L663.2,68.7 L663.4,71.6 L663.6,76 L663.9,81.9 L664.1,89.1 L664.3,97.5 L664.5,106.9 L664.7,116.9 L664.9,127.4 L665.1,138.2 L665.3,148.9 L665.5,159.2 L665.7,169 L665.9,178 L666.1,185.9 L666.3,192.7 L666.5,198 L666.7,201.8 L666.9,204 L667.1,204.5 L667.3,203.3 L667.5,200.5 L667.7,196 L667.9,190.1 L668.1,182.9 L668.3,174.5 L668.5,165.2 L668.7,155.1 L668.9,144.6 L669.1,133.9 L669.3,123.2 L669.5,112.8 L669.7,103 L669.9,94.1 L670.1,86.1 L670.3,79.4 L670.5,74 L670.7,70.2 L670.9,68 L671.1,67.5 L671.3,68.7 L671.5,71.5 L671.7,75.9 L671.9,81.8 L672.1,89 L672.3,97.4 L672.5,106.7 L672.7,116.8 L672.9,127.3 L673.1,138 L673.3,148.7 L673.5,159.1 L673.7,168.9 L673.9,177.9 L674.1,185.8 L674.3,192.6 L674.5,197.9 L674.7,201.7 L674.9,203.9 L675.1,204.5 L675.3,203.3 L675.5,200.5 L675.7,196.1 L675.9,190.2 L676.1,183 L676.3,174.6 L676.5,165.3 L676.7,155.3 L676.9,144.8 L677.1,134 L677.3,123.3 L677.5,113 L677.7,103.2 L677.9,94.2 L678,86.2 L678.2,79.5 L678.4,74.1 L678.6,70.3 L678.8,68.1 L679,67.5 L679.2,68.7 L679.4,71.5 L679.6,75.9 L679.8,81.7 L680,88.9 L680.2,97.3 L680.4,106.6 L680.6,116.7 L680.7,127.2 L680.9,137.9 L681.1,148.6 L681.3,159 L681.5,168.8 L681.7,177.8 L681.9,185.7 L682.1,192.5 L682.3,197.9 L682.5,201.7 L682.6,203.9 L682.8,204.5 L683,203.3 L683.2,200.5 L683.4,196.2 L683.6,190.3 L683.8,183.1 L684,174.8 L684.2,165.4 L684.4,155.4 L684.5,144.9 L684.7,134.2 L684.9,123.5 L685.1,113.1 L685.3,103.3 L685.5,94.3 L685.7,86.3 L685.9,79.5 L686.1,74.2 L686.3,70.3 L686.4,68.1 L686.6,67.5 L686.8,68.6 L687,71.4 L687.2,75.8 L687.4,81.6 L687.6,88.8 L687.7,97.2 L687.9,106.5 L688.1,116.5 L688.3,127 L688.5,137.8 L688.7,148.4 L688.9,158.8 L689,168.6 L689.2,177.7 L689.4,185.7 L689.6,192.4 L689.8,197.8 L690,201.7 L690.1,203.9 L690.3,204.5 L690.5,203.4 L690.7,200.6 L690.9,196.2 L691.1,190.4 L691.3,183.2 L691.4,174.9 L691.6,165.6 L691.8,155.5 L692,145 L692.2,134.3 L692.4,123.6 L692.5,113.2 L692.7,103.4 L692.9,94.4 L693.1,86.4 L693.3,79.6 L693.5,74.2 L693.7,70.4 L693.8,68.1 L694,67.5 L694.2,68.6 L694.4,71.4 L694.6,75.7 L694.8,81.6 L694.9,88.7 L695.1,97.1 L695.3,106.4 L695.5,116.4 L695.7,126.9 L695.9,137.6 L696,148.3 L696.2,158.7 L696.4,168.5 L696.6,177.6 L696.8,185.6 L696.9,192.3 L697.1,197.7 L697.3,201.6 L697.5,203.9 L697.7,204.5 L697.9,203.4 L698,200.6 L698.2,196.3 L698.4,190.5 L698.6,183.3 L698.8,175 L699,165.7 L699.1,155.7 L699.3,145.2 L699.5,134.4 L699.7,123.8 L699.9,113.4 L700,103.5 L700.2,94.5 L700.4,86.5 L700.6,79.7 L700.8,74.3 L701,70.4 L701.1,68.1 L701.3,67.5 L701.5,68.6 L701.7,71.3 L701.8,75.7 L702,81.5 L702.2,88.6 L702.4,97 L702.5,106.2 L702.7,116.3 L702.9,126.8 L703.1,137.5 L703.2,148.2 L703.4,158.6 L703.6,168.4 L703.8,177.4 L703.9,185.5 L704.1,192.3 L704.3,197.7 L704.5,201.6 L704.6,203.9 L704.8,204.5 L705,203.4 L705.2,200.7 L705.3,196.4 L705.5,190.6 L705.7,183.4 L705.9,175.1 L706,165.8 L706.2,155.8 L706.4,145.3 L706.6,134.6 L706.7,123.9 L706.9,113.5 L707.1,103.7 L707.3,94.6 L707.4,86.6 L707.6,79.8 L707.8,74.3 L708,70.4 L708.1,68.1 L708.3,67.5 L708.5,68.6 L708.7,71.3 L708.8,75.6 L709,81.4 L709.2,88.5 L709.3,96.8 L709.5,106.1 L709.7,116.1 L709.8,126.6 L710,137.3 L710.2,148 L710.3,158.4 L710.5,168.3 L710.7,177.3 L710.8,185.4 L711,192.2 L711.2,197.6 L711.3,201.5 L711.5,203.8 L711.7,204.5 L711.8,203.4 L712,200.7 L712.2,196.4 L712.3,190.6 L712.5,183.5 L712.7,175.2 L712.8,165.9 L713,155.9 L713.2,145.4 L713.3,134.7 L713.5,124 L713.7,113.6 L713.8,103.8 L714,94.7 L714.2,86.7 L714.3,79.9 L714.5,74.4 L714.7,70.5 L714.9,68.2 L715,67.5 L715.2,68.5 L715.4,71.2 L715.5,75.5 L715.7,81.3 L715.9,88.4 L716,96.7 L716.2,106 L716.4,116 L716.5,126.5 L716.7,137.2 L716.9,147.9 L717.1,158.3 L717.2,168.2 L717.4,177.2 L717.6,185.3 L717.7,192.1 L717.9,197.6 L718.1,201.5 L718.2,203.8 L718.4,204.5 L718.6,203.5 L718.8,200.8 L718.9,196.5 L719.1,190.7 L719.3,183.6 L719.4,175.3 L719.6,166.1 L719.8,156.1 L719.9,145.6 L720.1,134.9 L720.3,124.2 L720.5,113.8 L720.6,103.9 L720.8,94.8 L721,86.8 L721.1,79.9 L721.3,74.5 L721.5,70.5 L721.6,68.2 L721.8,67.5 L722,68.5 L722.1,71.2 L722.3,75.5 L722.4,81.2 L722.6,88.3 L722.8,96.6 L722.9,105.9 L723.1,115.9 L723.2,126.3 L723.4,137.1 L723.5,147.8 L723.7,158.2 L723.9,168 L724,177.1 L724.2,185.2 L724.3,192 L724.5,197.5 L724.7,201.5 L724.8,203.8 L725,204.5 L725.1,203.5 L725.3,200.8 L725.4,196.6 L725.6,190.8 L725.8,183.7 L725.9,175.4 L726.1,166.2 L726.2,156.2 L726.4,145.7 L726.5,135 L726.7,124.3 L726.9,113.9 L727,104 L727.2,94.9 L727.3,86.9 L727.5,80 L727.6,74.5 L727.8,70.6 L728,68.2 L728.1,67.5 L728.3,68.5 L728.4,71.2 L728.6,75.4 L728.7,81.1 L728.9,88.2 L729.1,96.5 L729.2,105.7 L729.4,115.7 L729.5,126.2 L729.7,136.9 L729.8,147.6 L730,158 L730.2,167.9 L730.3,177 L730.5,185.1 L730.6,191.9 L730.8,197.4 L730.9,201.4 L731.1,203.8 L731.3,204.5 L731.4,203.5 L731.6,200.9 L731.7,196.6 L731.9,190.9 L732.1,183.8 L732.2,175.6 L732.4,166.3 L732.5,156.3 L732.7,145.9 L732.8,135.1 L733,124.4 L733.2,114 L733.3,104.1 L733.5,95.1 L733.6,87 L733.8,80.1 L733.9,74.6 L734.1,70.6 L734.3,68.2 L734.4,67.5 L734.6,68.5 L734.7,71.1 L734.9,75.3 L735,81.1 L735.2,88.1 L735.4,96.4 L735.5,105.6 L735.7,115.6 L735.8,126.1 L736,136.8 L736.1,147.5 L736.3,157.9 L736.5,167.8 L736.6,176.9 L736.8,185 L736.9,191.9 L737.1,197.4 L737.2,201.4 L737.4,203.8 L737.6,204.5 L737.7,203.5 L737.9,200.9 L738,196.7 L738.2,191 L738.3,183.9 L738.5,175.7 L738.7,166.4 L738.8,156.5 L739,146 L739.1,135.3 L739.3,124.6 L739.5,114.2 L739.6,104.3 L739.8,95.2 L739.9,87.1 L740.1,80.2 L740.2,74.7 L740.4,70.6 L740.6,68.2 L740.7,67.5 L740.9,68.5 L741,71.1 L741.2,75.3 L741.3,81 L741.4,88 L741.6,96.3 L741.7,105.5 L741.9,115.5 L742,125.9 L742.2,136.7 L742.3,147.4 L742.5,157.8 L742.6,167.7 L742.8,176.8 L742.9,184.9 L743.1,191.8 L743.2,197.3 L743.4,201.3 L743.5,203.8 L743.7,204.5 L743.8,203.6 L744,201 L744.1,196.8 L744.2,191.1 L744.4,184 L744.5,175.8 L744.7,166.6 L744.8,156.6 L745,146.1 L745.1,135.4 L745.3,124.7 L745.4,114.3 L745.6,104.4 L745.7,95.3 L745.9,87.2 L746,80.3 L746.2,74.7 L746.3,70.7 L746.5,68.3 L746.6,67.5 L746.8,68.4 L746.9,71 L747,75.2 L747.2,80.9 L747.3,87.9 L747.5,96.2 L747.6,105.4 L747.8,115.3 L747.9,125.8 L748.1,136.5 L748.2,147.2 L748.4,157.7 L748.5,167.5 L748.7,176.7 L748.8,184.8 L749,191.7 L749.1,197.3 L749.3,201.3 L749.4,203.7 L749.6,204.5 L749.7,203.6 L749.9,201 L750,196.8 L750.1,191.1 L750.3,184.1 L750.4,175.9 L750.6,166.7 L750.7,156.7 L750.9,146.3 L751,135.6 L751.2,124.8 L751.3,114.4 L751.5,104.5 L751.6,95.4 L751.8,87.3 L751.9,80.3 L752.1,74.8 L752.2,70.7 L752.4,68.3 L752.5,67.5 L752.7,68.4 L752.8,71 L752.9,75.2 L753.1,80.8 L753.2,87.8 L753.4,96.1 L753.5,105.2 L753.7,115.2 L753.8,125.7 L754,136.4 L754.1,147.1 L754.2,157.5 L754.4,167.4 L754.5,176.6 L754.7,184.7 L754.8,191.6 L755,197.2 L755.1,201.3 L755.3,203.7 L755.4,204.5 L755.5,203.6 L755.7,201 L755.8,196.9 L756,191.2 L756.1,184.2 L756.3,176 L756.4,166.8 L756.6,156.9 L756.7,146.4 L756.9,135.7 L757,125 L757.1,114.5 L757.3,104.6 L757.4,95.5 L757.6,87.4 L757.7,80.4 L757.9,74.8 L758,70.8 L758.2,68.3 L758.3,67.5 L758.4,68.4 L758.6,70.9 L758.7,75.1 L758.9,80.7 L759,87.7 L759.2,95.9 L759.3,105.1 L759.4,115.1 L759.6,125.5 L759.7,136.2 L759.9,147 L760,157.4 L760.2,167.3 L760.3,176.4 L760.4,184.6 L760.6,191.5 L760.7,197.1 L760.9,201.2 L761,203.7 L761.2,204.5 L761.3,203.6 L761.4,201.1 L761.6,196.9 L761.7,191.3 L761.9,184.3 L762,176.1 L762.1,166.9 L762.3,157 L762.4,146.5 L762.6,135.8 L762.7,125.1 L762.9,114.7 L763,104.8 L763.1,95.6 L763.3,87.5 L763.4,80.5 L763.6,74.9 L763.7,70.8 L763.9,68.3 L764,67.5 L764.1,68.4 L764.3,70.9 L764.4,75 L764.6,80.7 L764.7,87.6 L764.8,95.8 L765,105 L765.1,114.9 L765.2,125.4 L765.4,136.1 L765.5,146.8 L765.7,157.3 L765.8,167.2 L765.9,176.3 L766.1,184.5 L766.2,191.5 L766.3,197.1 L766.5,201.2 L766.6,203.7 L766.8,204.5 L766.9,203.6 L767,201.1 L767.2,197 L767.3,191.4 L767.4,184.4 L767.6,176.2 L767.7,167.1 L767.9,157.1 L768,146.7 L768.1,136 L768.3,125.3 L768.4,114.8 L768.5,104.9 L768.7,95.7 L768.8,87.6 L769,80.6 L769.1,75 L769.2,70.9 L769.4,68.3 L769.5,67.5" fill="none" stroke="#a6a996" stroke-width="2.9" stroke-linejoin="round"/>
<g transform="translate(226,23.5) rotate(7)"><text x="0" y="0" font-size="27.5" fill="#111" textLength="94.5" lengthAdjust="spacingAndGlyphs">Choose</text><text x="103.5" y="0" font-size="27.5" font-style="italic" fill="#111">N</text></g>
<text x="595" y="39.5" font-size="26" fill="#111" text-anchor="start" font-style="italic" >N</text>
<line x1="551" y1="51" x2="644" y2="51" stroke="#465870" stroke-width="2.8"/>
<path d="M657,51 L641,58 L644.5,51 L641,44Z" fill="#465870"/>
<circle cx="125.5" cy="332.5" r="88" fill="#b3dde4" opacity="0.65" filter="url(#blur6)"/>
<path d="M125.5,253 L126,253.1 L126.5,253.2 L127.1,253.6 L127.6,254 L128.1,254.5 L128.5,255.1 L129,255.8 L129.5,256.6 L129.9,257.5 L130.4,258.4 L130.8,259.4 L131.2,260.4 L131.6,261.3 L131.9,262.3 L132.3,263.3 L132.7,264.1 L133,265 L133.4,265.7 L133.8,266.2 L134.2,266.6 L134.7,266.3 L135.2,265.9 L135.7,265.3 L136.3,264.6 L136.8,263.9 L137.4,263 L138.1,262.2 L138.7,261.4 L139.3,260.5 L140,259.7 L140.6,258.9 L141.3,258.2 L141.9,257.5 L142.6,257 L143.2,256.5 L143.8,256.1 L144.4,255.8 L145,255.7 L145.6,255.6 L146.1,255.7 L146.6,255.9 L147,256.2 L147.4,256.6 L147.8,257.2 L148.2,257.8 L148.5,258.5 L148.7,259.4 L149,260.3 L149.2,261.2 L149.4,262.2 L149.5,263.2 L149.7,264.3 L149.8,265.3 L149.9,266.4 L150,267.4 L150.1,268.3 L150.3,269.2 L150.4,270 L150.7,270.6 L150.9,271.1 L151.5,271 L152.1,270.7 L152.7,270.2 L153.5,269.7 L154.2,269.1 L155,268.5 L155.8,267.8 L156.7,267.2 L157.5,266.5 L158.3,265.9 L159.2,265.3 L160,264.8 L160.8,264.4 L161.6,264 L162.3,263.7 L163,263.5 L163.6,263.4 L164.2,263.3 L164.8,263.4 L165.2,263.7 L165.7,264 L166,264.4 L166.3,264.9 L166.5,265.5 L166.7,266.2 L166.8,267 L166.9,267.9 L166.9,268.8 L166.8,269.8 L166.7,270.8 L166.6,271.8 L166.5,272.9 L166.3,273.9 L166.2,274.9 L166,275.9 L165.9,276.9 L165.8,277.8 L165.8,278.6 L165.8,279.3 L166,279.7 L166.5,279.8 L167.2,279.6 L167.9,279.4 L168.8,279.1 L169.6,278.7 L170.6,278.3 L171.5,277.9 L172.5,277.5 L173.5,277.1 L174.4,276.7 L175.4,276.3 L176.3,276.1 L177.2,275.8 L178.1,275.6 L178.9,275.5 L179.6,275.5 L180.2,275.6 L180.8,275.7 L181.3,276 L181.7,276.3 L182,276.7 L182.3,277.2 L182.4,277.8 L182.5,278.4 L182.5,279.1 L182.4,279.9 L182.2,280.8 L181.9,281.7 L181.7,282.6 L181.3,283.6 L180.9,284.5 L180.5,285.5 L180.1,286.5 L179.7,287.4 L179.3,288.4 L178.9,289.2 L178.6,290.1 L178.4,290.8 L178.2,291.5 L178.3,292 L178.7,292.2 L179.4,292.2 L180.2,292.2 L181.1,292.1 L182.1,292 L183.1,291.8 L184.1,291.7 L185.1,291.5 L186.2,291.4 L187.2,291.3 L188.2,291.2 L189.2,291.1 L190.1,291.1 L191,291.2 L191.8,291.3 L192.5,291.5 L193.1,291.7 L193.6,292 L194,292.3 L194.3,292.8 L194.6,293.2 L194.7,293.8 L194.6,294.4 L194.5,295 L194.3,295.7 L194,296.4 L193.6,297.2 L193.2,298 L192.7,298.8 L192.1,299.7 L191.5,300.5 L190.8,301.3 L190.2,302.2 L189.5,303 L188.9,303.8 L188.3,304.5 L187.8,305.3 L187.3,305.9 L187,306.5 L186.9,307.1 L187.4,307.3 L188,307.6 L188.8,307.7 L189.7,307.9 L190.6,308 L191.6,308.1 L192.7,308.2 L193.7,308.3 L194.8,308.5 L195.8,308.6 L196.8,308.8 L197.7,309 L198.6,309.3 L199.5,309.5 L200.2,309.8 L200.8,310.2 L201.4,310.6 L201.8,311 L202.1,311.4 L202.3,311.9 L202.4,312.4 L202.3,313 L202.2,313.6 L201.9,314.2 L201.5,314.8 L201,315.4 L200.5,316.1 L199.8,316.7 L199.1,317.4 L198.3,318 L197.5,318.7 L196.6,319.3 L195.8,319.9 L195,320.6 L194.1,321.2 L193.4,321.7 L192.7,322.3 L192.1,322.8 L191.7,323.3 L191.4,323.8 L191.8,324.2 L192.3,324.6 L193,325 L193.9,325.3 L194.7,325.7 L195.7,326.1 L196.7,326.4 L197.6,326.8 L198.6,327.2 L199.6,327.6 L200.5,328.1 L201.4,328.5 L202.2,329 L202.9,329.5 L203.5,329.9 L204,330.4 L204.4,330.9 L204.8,331.5 L204.9,332 L205,332.5 L204.9,333 L204.8,333.5 L204.4,334.1 L204,334.6 L203.5,335.1 L202.9,335.5 L202.2,336 L201.4,336.5 L200.5,336.9 L199.6,337.4 L198.6,337.8 L197.6,338.2 L196.7,338.6 L195.7,338.9 L194.7,339.3 L193.9,339.7 L193,340 L192.3,340.4 L191.8,340.8 L191.4,341.2 L191.7,341.7 L192.1,342.2 L192.7,342.7 L193.4,343.3 L194.1,343.8 L195,344.4 L195.8,345.1 L196.6,345.7 L197.5,346.3 L198.3,347 L199.1,347.6 L199.8,348.3 L200.5,348.9 L201,349.6 L201.5,350.2 L201.9,350.8 L202.2,351.4 L202.3,352 L202.4,352.6 L202.3,353.1 L202.1,353.6 L201.8,354 L201.4,354.4 L200.8,354.8 L200.2,355.2 L199.5,355.5 L198.6,355.7 L197.7,356 L196.8,356.2 L195.8,356.4 L194.8,356.5 L193.7,356.7 L192.7,356.8 L191.6,356.9 L190.6,357 L189.7,357.1 L188.8,357.3 L188,357.4 L187.4,357.7 L186.9,357.9 L187,358.5 L187.3,359.1 L187.8,359.7 L188.3,360.5 L188.9,361.2 L189.5,362 L190.2,362.8 L190.8,363.7 L191.5,364.5 L192.1,365.3 L192.7,366.2 L193.2,367 L193.6,367.8 L194,368.6 L194.3,369.3 L194.5,370 L194.6,370.6 L194.7,371.2 L194.6,371.8 L194.3,372.2 L194,372.7 L193.6,373 L193.1,373.3 L192.5,373.5 L191.8,373.7 L191,373.8 L190.1,373.9 L189.2,373.9 L188.2,373.8 L187.2,373.7 L186.2,373.6 L185.1,373.5 L184.1,373.3 L183.1,373.2 L182.1,373 L181.1,372.9 L180.2,372.8 L179.4,372.8 L178.7,372.8 L178.3,373 L178.2,373.5 L178.4,374.2 L178.6,374.9 L178.9,375.8 L179.3,376.6 L179.7,377.6 L180.1,378.5 L180.5,379.5 L180.9,380.5 L181.3,381.4 L181.7,382.4 L181.9,383.3 L182.2,384.2 L182.4,385.1 L182.5,385.9 L182.5,386.6 L182.4,387.2 L182.3,387.8 L182,388.3 L181.7,388.7 L181.3,389 L180.8,389.3 L180.2,389.4 L179.6,389.5 L178.9,389.5 L178.1,389.4 L177.2,389.2 L176.3,388.9 L175.4,388.7 L174.4,388.3 L173.5,387.9 L172.5,387.5 L171.5,387.1 L170.6,386.7 L169.6,386.3 L168.8,385.9 L167.9,385.6 L167.2,385.4 L166.5,385.2 L166,385.3 L165.8,385.7 L165.8,386.4 L165.8,387.2 L165.9,388.1 L166,389.1 L166.2,390.1 L166.3,391.1 L166.5,392.1 L166.6,393.2 L166.7,394.2 L166.8,395.2 L166.9,396.2 L166.9,397.1 L166.8,398 L166.7,398.8 L166.5,399.5 L166.3,400.1 L166,400.6 L165.7,401 L165.3,401.3 L164.8,401.6 L164.2,401.7 L163.6,401.6 L163,401.5 L162.3,401.3 L161.6,401 L160.8,400.6 L160,400.2 L159.2,399.7 L158.3,399.1 L157.5,398.5 L156.7,397.8 L155.8,397.2 L155,396.5 L154.2,395.9 L153.5,395.3 L152.7,394.8 L152.1,394.3 L151.5,394 L150.9,393.9 L150.7,394.4 L150.4,395 L150.3,395.8 L150.1,396.7 L150,397.6 L149.9,398.6 L149.8,399.7 L149.7,400.7 L149.5,401.8 L149.4,402.8 L149.2,403.8 L149,404.7 L148.7,405.6 L148.5,406.5 L148.2,407.2 L147.8,407.8 L147.4,408.4 L147,408.8 L146.6,409.1 L146.1,409.3 L145.6,409.4 L145,409.3 L144.4,409.2 L143.8,408.9 L143.2,408.5 L142.6,408 L141.9,407.5 L141.3,406.8 L140.6,406.1 L140,405.3 L139.3,404.5 L138.7,403.6 L138.1,402.8 L137.4,402 L136.8,401.1 L136.3,400.4 L135.7,399.7 L135.2,399.1 L134.7,398.7 L134.2,398.4 L133.8,398.8 L133.4,399.3 L133,400 L132.7,400.9 L132.3,401.7 L131.9,402.7 L131.6,403.7 L131.2,404.6 L130.8,405.6 L130.4,406.6 L129.9,407.5 L129.5,408.4 L129,409.2 L128.5,409.9 L128.1,410.5 L127.6,411 L127.1,411.4 L126.5,411.8 L126,411.9 L125.5,412 L125,411.9 L124.5,411.8 L123.9,411.4 L123.4,411 L122.9,410.5 L122.5,409.9 L122,409.2 L121.5,408.4 L121.1,407.5 L120.6,406.6 L120.2,405.6 L119.8,404.6 L119.4,403.7 L119.1,402.7 L118.7,401.7 L118.3,400.9 L118,400 L117.6,399.3 L117.2,398.8 L116.8,398.4 L116.3,398.7 L115.8,399.1 L115.3,399.7 L114.7,400.4 L114.2,401.1 L113.6,402 L112.9,402.8 L112.3,403.6 L111.7,404.5 L111,405.3 L110.4,406.1 L109.7,406.8 L109.1,407.5 L108.4,408 L107.8,408.5 L107.2,408.9 L106.6,409.2 L106,409.3 L105.4,409.4 L104.9,409.3 L104.4,409.1 L104,408.8 L103.6,408.4 L103.2,407.8 L102.8,407.2 L102.5,406.5 L102.3,405.6 L102,404.7 L101.8,403.8 L101.6,402.8 L101.5,401.8 L101.3,400.7 L101.2,399.7 L101.1,398.6 L101,397.6 L100.9,396.7 L100.7,395.8 L100.6,395 L100.3,394.4 L100.1,393.9 L99.5,394 L98.9,394.3 L98.3,394.8 L97.5,395.3 L96.8,395.9 L96,396.5 L95.2,397.2 L94.3,397.8 L93.5,398.5 L92.7,399.1 L91.8,399.7 L91,400.2 L90.2,400.6 L89.4,401 L88.7,401.3 L88,401.5 L87.4,401.6 L86.8,401.7 L86.2,401.6 L85.8,401.3 L85.3,401 L85,400.6 L84.7,400.1 L84.5,399.5 L84.3,398.8 L84.2,398 L84.1,397.1 L84.1,396.2 L84.2,395.2 L84.3,394.2 L84.4,393.2 L84.5,392.1 L84.7,391.1 L84.8,390.1 L85,389.1 L85.1,388.1 L85.2,387.2 L85.2,386.4 L85.2,385.7 L85,385.3 L84.5,385.2 L83.8,385.4 L83.1,385.6 L82.2,385.9 L81.4,386.3 L80.4,386.7 L79.5,387.1 L78.5,387.5 L77.5,387.9 L76.6,388.3 L75.6,388.7 L74.7,388.9 L73.8,389.2 L72.9,389.4 L72.1,389.5 L71.4,389.5 L70.8,389.4 L70.2,389.3 L69.7,389 L69.3,388.7 L69,388.3 L68.7,387.8 L68.6,387.2 L68.5,386.6 L68.5,385.9 L68.6,385.1 L68.8,384.2 L69.1,383.3 L69.3,382.4 L69.7,381.4 L70.1,380.5 L70.5,379.5 L70.9,378.5 L71.3,377.6 L71.7,376.6 L72.1,375.8 L72.4,374.9 L72.6,374.2 L72.8,373.5 L72.7,373 L72.3,372.8 L71.6,372.8 L70.8,372.8 L69.9,372.9 L68.9,373 L67.9,373.2 L66.9,373.3 L65.9,373.5 L64.8,373.6 L63.8,373.7 L62.8,373.8 L61.8,373.9 L60.9,373.9 L60,373.8 L59.2,373.7 L58.5,373.5 L57.9,373.3 L57.4,373 L57,372.7 L56.7,372.3 L56.4,371.8 L56.3,371.2 L56.4,370.6 L56.5,370 L56.7,369.3 L57,368.6 L57.4,367.8 L57.8,367 L58.3,366.2 L58.9,365.3 L59.5,364.5 L60.2,363.7 L60.8,362.8 L61.5,362 L62.1,361.2 L62.7,360.5 L63.2,359.7 L63.7,359.1 L64,358.5 L64.1,357.9 L63.6,357.7 L63,357.4 L62.2,357.3 L61.3,357.1 L60.4,357 L59.4,356.9 L58.3,356.8 L57.3,356.7 L56.2,356.5 L55.2,356.4 L54.2,356.2 L53.3,356 L52.4,355.7 L51.5,355.5 L50.8,355.2 L50.2,354.8 L49.6,354.4 L49.2,354 L48.9,353.6 L48.7,353.1 L48.6,352.6 L48.7,352 L48.8,351.4 L49.1,350.8 L49.5,350.2 L50,349.6 L50.5,348.9 L51.2,348.3 L51.9,347.6 L52.7,347 L53.5,346.3 L54.4,345.7 L55.2,345.1 L56,344.4 L56.9,343.8 L57.6,343.3 L58.3,342.7 L58.9,342.2 L59.3,341.7 L59.6,341.2 L59.2,340.8 L58.7,340.4 L58,340 L57.1,339.7 L56.3,339.3 L55.3,338.9 L54.3,338.6 L53.4,338.2 L52.4,337.8 L51.4,337.4 L50.5,336.9 L49.6,336.5 L48.8,336 L48.1,335.5 L47.5,335.1 L47,334.6 L46.6,334.1 L46.2,333.5 L46.1,333 L46,332.5 L46.1,332 L46.2,331.5 L46.6,330.9 L47,330.4 L47.5,329.9 L48.1,329.5 L48.8,329 L49.6,328.5 L50.5,328.1 L51.4,327.6 L52.4,327.2 L53.4,326.8 L54.3,326.4 L55.3,326.1 L56.3,325.7 L57.1,325.3 L58,325 L58.7,324.6 L59.2,324.2 L59.6,323.8 L59.3,323.3 L58.9,322.8 L58.3,322.3 L57.6,321.7 L56.9,321.2 L56,320.6 L55.2,319.9 L54.4,319.3 L53.5,318.7 L52.7,318 L51.9,317.4 L51.2,316.7 L50.5,316.1 L50,315.4 L49.5,314.8 L49.1,314.2 L48.8,313.6 L48.7,313 L48.6,312.4 L48.7,311.9 L48.9,311.4 L49.2,311 L49.6,310.6 L50.2,310.2 L50.8,309.8 L51.5,309.5 L52.4,309.3 L53.3,309 L54.2,308.8 L55.2,308.6 L56.2,308.5 L57.3,308.3 L58.3,308.2 L59.4,308.1 L60.4,308 L61.3,307.9 L62.2,307.7 L63,307.6 L63.6,307.3 L64.1,307.1 L64,306.5 L63.7,305.9 L63.2,305.3 L62.7,304.5 L62.1,303.8 L61.5,303 L60.8,302.2 L60.2,301.3 L59.5,300.5 L58.9,299.7 L58.3,298.8 L57.8,298 L57.4,297.2 L57,296.4 L56.7,295.7 L56.5,295 L56.4,294.4 L56.3,293.8 L56.4,293.2 L56.7,292.8 L57,292.3 L57.4,292 L57.9,291.7 L58.5,291.5 L59.2,291.3 L60,291.2 L60.9,291.1 L61.8,291.1 L62.8,291.2 L63.8,291.3 L64.8,291.4 L65.9,291.5 L66.9,291.7 L67.9,291.8 L68.9,292 L69.9,292.1 L70.8,292.2 L71.6,292.2 L72.3,292.2 L72.7,292 L72.8,291.5 L72.6,290.8 L72.4,290.1 L72.1,289.2 L71.7,288.4 L71.3,287.4 L70.9,286.5 L70.5,285.5 L70.1,284.5 L69.7,283.6 L69.3,282.6 L69.1,281.7 L68.8,280.8 L68.6,279.9 L68.5,279.1 L68.5,278.4 L68.6,277.8 L68.7,277.2 L69,276.7 L69.3,276.3 L69.7,276 L70.2,275.7 L70.8,275.6 L71.4,275.5 L72.1,275.5 L72.9,275.6 L73.8,275.8 L74.7,276.1 L75.6,276.3 L76.6,276.7 L77.5,277.1 L78.5,277.5 L79.5,277.9 L80.4,278.3 L81.4,278.7 L82.2,279.1 L83.1,279.4 L83.8,279.6 L84.5,279.8 L85,279.7 L85.2,279.3 L85.2,278.6 L85.2,277.8 L85.1,276.9 L85,275.9 L84.8,274.9 L84.7,273.9 L84.5,272.9 L84.4,271.8 L84.3,270.8 L84.2,269.8 L84.1,268.8 L84.1,267.9 L84.2,267 L84.3,266.2 L84.5,265.5 L84.7,264.9 L85,264.4 L85.3,264 L85.7,263.7 L86.2,263.4 L86.8,263.3 L87.4,263.4 L88,263.5 L88.7,263.7 L89.4,264 L90.2,264.4 L91,264.8 L91.8,265.3 L92.7,265.9 L93.5,266.5 L94.3,267.2 L95.2,267.8 L96,268.5 L96.8,269.1 L97.5,269.7 L98.3,270.2 L98.9,270.7 L99.5,271 L100.1,271.1 L100.3,270.6 L100.6,270 L100.7,269.2 L100.9,268.3 L101,267.4 L101.1,266.4 L101.2,265.3 L101.3,264.3 L101.5,263.2 L101.6,262.2 L101.8,261.2 L102,260.3 L102.3,259.4 L102.5,258.5 L102.8,257.8 L103.2,257.2 L103.6,256.6 L104,256.2 L104.4,255.9 L104.9,255.7 L105.4,255.6 L106,255.7 L106.6,255.8 L107.2,256.1 L107.8,256.5 L108.4,257 L109.1,257.5 L109.7,258.2 L110.4,258.9 L111,259.7 L111.7,260.5 L112.3,261.4 L112.9,262.2 L113.6,263 L114.2,263.9 L114.7,264.6 L115.3,265.3 L115.8,265.9 L116.3,266.3 L116.8,266.6 L117.2,266.2 L117.6,265.7 L118,265 L118.3,264.1 L118.7,263.3 L119.1,262.3 L119.4,261.3 L119.8,260.4 L120.2,259.4 L120.6,258.4 L121.1,257.5 L121.5,256.6 L122,255.8 L122.5,255.1 L122.9,254.5 L123.4,254 L123.9,253.6 L124.5,253.2 L125,253.1 L125.5,253Z" fill="url(#g2fill)" stroke="#62a8b7" stroke-width="1.9" filter="url(#blur1)"/>
<circle cx="125.9" cy="332.8" r="9.7" fill="#fff" stroke="#5f9fae" stroke-width="1"/>
<path d="M116.6,27 L117.1,27 L117.5,27 L118,27 L118.4,27 L118.9,27 L119.3,28.1 L119.7,29.5 L120.1,30.8 L120.5,32.2 L120.9,33.5 L121.3,34.9 L121.6,36.3 L122,37.6 L122.4,38.5 L122.8,38.5 L123.2,38.5 L123.6,38.5 L124,38.6 L124.4,38.6 L124.8,38.6 L125.2,38.7 L125.7,38.7 L126.1,38.7 L126.5,38.8 L126.9,38.8 L127.3,38.8 L127.8,38.1 L128.4,36.8 L128.9,35.5 L129.5,34.2 L130.1,32.9 L130.7,31.7 L131.3,30.4 L131.9,29.1 L132.5,28.1 L133,28.2 L133.4,28.2 L133.9,28.3 L134.3,28.4 L134.8,28.4 L135.2,28.5 L135.7,28.6 L136.1,28.7 L136.6,28.7 L137,28.8 L137.3,30 L137.5,31.4 L137.7,32.8 L137.9,34.2 L138,35.6 L138.2,37 L138.3,38.4 L138.5,39.8 L138.7,40.7 L139.1,40.7 L139.5,40.8 L139.9,40.9 L140.3,41 L140.7,41.1 L141.1,41.2 L141.5,41.3 L141.9,41.4 L142.3,41.5 L142.7,41.6 L143.1,41.7 L143.5,41.8 L144.1,41.1 L144.9,39.9 L145.6,38.8 L146.4,37.6 L147.2,36.4 L148,35.2 L148.8,34.1 L149.6,32.9 L150.4,32 L150.8,32.1 L151.2,32.3 L151.7,32.4 L152.1,32.6 L152.5,32.7 L153,32.8 L153.4,33 L153.8,33.1 L154.3,33.3 L154.7,33.4 L154.8,34.6 L154.8,36 L154.7,37.4 L154.7,38.8 L154.6,40.2 L154.6,41.7 L154.5,43.1 L154.4,44.5 L154.5,45.4 L154.9,45.5 L155.3,45.7 L155.6,45.8 L156,46 L156.4,46.1 L156.8,46.3 L157.2,46.5 L157.5,46.6 L157.9,46.8 L158.3,46.9 L158.7,47.1 L159.1,47.3 L159.8,46.7 L160.7,45.6 L161.6,44.6 L162.6,43.5 L163.5,42.5 L164.5,41.5 L165.5,40.5 L166.5,39.4 L167.4,38.7 L167.8,38.9 L168.2,39.1 L168.6,39.3 L169,39.5 L169.4,39.7 L169.8,39.9 L170.2,40.1 L170.6,40.3 L171,40.5 L171.4,40.7 L171.3,41.9 L171.1,43.3 L170.8,44.7 L170.5,46.1 L170.3,47.5 L170,48.8 L169.7,50.2 L169.4,51.6 L169.3,52.5 L169.7,52.7 L170,52.9 L170.4,53.1 L170.8,53.3 L171.1,53.6 L171.5,53.8 L171.8,54 L172.2,54.2 L172.5,54.4 L172.9,54.6 L173.2,54.9 L173.6,55.1 L174.3,54.6 L175.4,53.7 L176.5,52.9 L177.6,52 L178.7,51.1 L179.9,50.2 L181,49.4 L182.1,48.5 L183.1,47.9 L183.5,48.1 L183.8,48.4 L184.2,48.7 L184.6,48.9 L185,49.2 L185.3,49.5 L185.7,49.8 L186.1,50 L186.4,50.3 L186.8,50.6 L186.5,51.7 L186,53 L185.6,54.4 L185.1,55.7 L184.6,57 L184.1,58.4 L183.6,59.7 L183.1,61 L182.9,61.9 L183.2,62.1 L183.5,62.4 L183.8,62.7 L184.2,62.9 L184.5,63.2 L184.8,63.5 L185.1,63.7 L185.4,64 L185.7,64.3 L186,64.5 L186.3,64.8 L186.7,65.1 L187.5,64.8 L188.7,64 L189.9,63.3 L191.2,62.6 L192.4,61.9 L193.6,61.3 L194.9,60.6 L196.1,59.9 L197.2,59.5 L197.5,59.8 L197.9,60.1 L198.2,60.4 L198.5,60.7 L198.8,61.1 L199.2,61.4 L199.5,61.7 L199.8,62 L200.1,62.4 L200.4,62.7 L200,63.8 L199.3,65 L198.6,66.3 L198,67.5 L197.3,68.7 L196.6,70 L195.9,71.2 L195.1,72.4 L194.8,73.2 L195.1,73.6 L195.4,73.9 L195.6,74.2 L195.9,74.5 L196.2,74.8 L196.4,75.1 L196.7,75.4 L197,75.7 L197.2,76.1 L197.5,76.4 L197.8,76.7 L198,77 L198.9,76.8 L200.2,76.3 L201.5,75.8 L202.9,75.3 L204.2,74.8 L205.5,74.3 L206.9,73.9 L208.2,73.4 L209.3,73.1 L209.6,73.5 L209.9,73.8 L210.1,74.2 L210.4,74.6 L210.7,74.9 L211,75.3 L211.2,75.7 L211.5,76.1 L211.8,76.4 L212,76.8 L211.4,77.8 L210.5,78.9 L209.7,80 L208.8,81.2 L207.9,82.3 L207,83.4 L206.2,84.5 L205.3,85.6 L204.8,86.3 L205,86.7 L205.3,87 L205.5,87.4 L205.7,87.7 L205.9,88.1 L206.1,88.4 L206.3,88.8 L206.6,89.1 L206.8,89.5 L207,89.9 L207.2,90.2 L207.4,90.6 L208.3,90.5 L209.7,90.2 L211.1,89.9 L212.4,89.6 L213.8,89.4 L215.2,89.1 L216.6,88.8 L218,88.6 L219.2,88.5 L219.4,88.9 L219.6,89.3 L219.8,89.7 L220,90.1 L220.2,90.5 L220.4,90.9 L220.6,91.3 L220.8,91.7 L221,92.1 L221.2,92.5 L220.5,93.4 L219.4,94.4 L218.4,95.4 L217.4,96.4 L216.4,97.3 L215.3,98.3 L214.3,99.2 L213.2,100.1 L212.6,100.8 L212.8,101.2 L213,101.6 L213.1,102 L213.3,102.4 L213.4,102.7 L213.6,103.1 L213.8,103.5 L213.9,103.9 L214.1,104.3 L214.2,104.6 L214.4,105 L214.5,105.4 L215.4,105.5 L216.8,105.4 L218.2,105.3 L219.7,105.3 L221.1,105.2 L222.5,105.2 L223.9,105.1 L225.3,105.1 L226.5,105.2 L226.6,105.6 L226.8,106.1 L226.9,106.5 L227.1,106.9 L227.2,107.4 L227.3,107.8 L227.5,108.2 L227.6,108.7 L227.8,109.1 L227.9,109.5 L227,110.3 L225.8,111.1 L224.7,111.9 L223.5,112.7 L222.3,113.5 L221.1,114.3 L220,115 L218.8,115.8 L218.1,116.4 L218.2,116.8 L218.3,117.2 L218.4,117.6 L218.5,118 L218.6,118.4 L218.7,118.8 L218.8,119.2 L218.9,119.6 L219,120 L219.1,120.4 L219.2,120.8 L219.2,121.2 L220.1,121.4 L221.5,121.6 L222.9,121.7 L224.3,121.9 L225.7,122 L227.1,122.2 L228.5,122.4 L229.9,122.6 L231.1,122.9 L231.2,123.3 L231.2,123.8 L231.3,124.2 L231.4,124.7 L231.5,125.1 L231.5,125.6 L231.6,126 L231.7,126.5 L231.7,126.9 L231.8,127.4 L230.8,128 L229.5,128.6 L228.2,129.2 L227,129.8 L225.7,130.4 L224.4,131 L223.1,131.5 L221.8,132.1 L221.1,132.6 L221.1,133 L221.1,133.4 L221.2,133.8 L221.2,134.2 L221.2,134.7 L221.3,135.1 L221.3,135.5 L221.3,135.9 L221.4,136.3 L221.4,136.7 L221.4,137.1 L221.4,137.5 L222.3,137.9 L223.6,138.3 L225,138.6 L226.4,139 L227.7,139.4 L229.1,139.8 L230.4,140.2 L231.8,140.6 L232.9,141 L232.9,141.5 L232.9,141.9 L232.9,142.4 L232.9,142.8 L232.9,143.3 L232.9,143.8 L232.9,144.2 L232.9,144.7 L232.9,145.1 L232.9,145.6 L231.8,146 L230.4,146.4 L229.1,146.8 L227.7,147.2 L226.4,147.6 L225,148 L223.6,148.3 L222.3,148.7 L221.4,149.1 L221.4,149.5 L221.4,149.9 L221.4,150.3 L221.3,150.7 L221.3,151.1 L221.3,151.5 L221.2,151.9 L221.2,152.4 L221.2,152.8 L221.1,153.2 L221.1,153.6 L221.1,154 L221.8,154.5 L223.1,155.1 L224.4,155.6 L225.7,156.2 L227,156.8 L228.2,157.4 L229.5,158 L230.8,158.6 L231.8,159.2 L231.7,159.7 L231.7,160.1 L231.6,160.6 L231.5,161 L231.5,161.5 L231.4,161.9 L231.3,162.4 L231.2,162.8 L231.2,163.3 L231.1,163.7 L229.9,164 L228.5,164.2 L227.1,164.4 L225.7,164.6 L224.3,164.7 L222.9,164.9 L221.5,165 L220.1,165.2 L219.2,165.4 L219.2,165.8 L219.1,166.2 L219,166.6 L218.9,167 L218.8,167.4 L218.7,167.8 L218.6,168.2 L218.5,168.6 L218.4,169 L218.3,169.4 L218.2,169.8 L218.1,170.2 L218.8,170.8 L220,171.6 L221.1,172.3 L222.3,173.1 L223.5,173.9 L224.7,174.7 L225.8,175.5 L227,176.3 L227.9,177.1 L227.8,177.5 L227.6,177.9 L227.5,178.4 L227.3,178.8 L227.2,179.2 L227.1,179.7 L226.9,180.1 L226.8,180.5 L226.6,181 L226.5,181.4 L225.3,181.5 L223.9,181.5 L222.5,181.4 L221.1,181.4 L219.7,181.3 L218.2,181.3 L216.8,181.2 L215.4,181.1 L214.5,181.2 L214.4,181.6 L214.2,182 L214.1,182.3 L213.9,182.7 L213.8,183.1 L213.6,183.5 L213.4,183.9 L213.3,184.2 L213.1,184.6 L213,185 L212.8,185.4 L212.6,185.8 L213.2,186.5 L214.3,187.4 L215.3,188.3 L216.4,189.3 L217.4,190.2 L218.4,191.2 L219.4,192.2 L220.5,193.2 L221.2,194.1 L221,194.5 L220.8,194.9 L220.6,195.3 L220.4,195.7 L220.2,196.1 L220,196.5 L219.8,196.9 L219.6,197.3 L219.4,197.7 L219.2,198.1 L218,198 L216.6,197.8 L215.2,197.5 L213.8,197.2 L212.4,197 L211.1,196.7 L209.7,196.4 L208.3,196.1 L207.4,196 L207.2,196.4 L207,196.7 L206.8,197.1 L206.6,197.5 L206.3,197.8 L206.1,198.2 L205.9,198.5 L205.7,198.9 L205.5,199.2 L205.3,199.6 L205,199.9 L204.8,200.3 L205.3,201 L206.2,202.1 L207,203.2 L207.9,204.3 L208.8,205.4 L209.7,206.6 L210.5,207.7 L211.4,208.8 L212,209.8 L211.8,210.2 L211.5,210.5 L211.2,210.9 L211,211.3 L210.7,211.7 L210.4,212 L210.1,212.4 L209.9,212.8 L209.6,213.1 L209.3,213.5 L208.2,213.2 L206.9,212.7 L205.5,212.3 L204.2,211.8 L202.9,211.3 L201.5,210.8 L200.2,210.3 L198.9,209.8 L198,209.6 L197.8,209.9 L197.5,210.2 L197.2,210.5 L197,210.9 L196.7,211.2 L196.4,211.5 L196.2,211.8 L195.9,212.1 L195.6,212.4 L195.4,212.7 L195.1,213 L194.8,213.4 L195.1,214.2 L195.9,215.4 L196.6,216.6 L197.3,217.9 L198,219.1 L198.6,220.3 L199.3,221.6 L200,222.8 L200.4,223.9 L200.1,224.2 L199.8,224.6 L199.5,224.9 L199.2,225.2 L198.8,225.5 L198.5,225.9 L198.2,226.2 L197.9,226.5 L197.5,226.8 L197.2,227.1 L196.1,226.7 L194.9,226 L193.6,225.3 L192.4,224.7 L191.2,224 L189.9,223.3 L188.7,222.6 L187.5,221.8 L186.7,221.5 L186.3,221.8 L186,222.1 L185.7,222.3 L185.4,222.6 L185.1,222.9 L184.8,223.1 L184.5,223.4 L184.2,223.7 L183.8,223.9 L183.5,224.2 L183.2,224.5 L182.9,224.7 L183.1,225.6 L183.6,226.9 L184.1,228.2 L184.6,229.6 L185.1,230.9 L185.6,232.2 L186,233.6 L186.5,234.9 L186.8,236 L186.4,236.3 L186.1,236.6 L185.7,236.8 L185.3,237.1 L185,237.4 L184.6,237.7 L184.2,237.9 L183.8,238.2 L183.5,238.5 L183.1,238.7 L182.1,238.1 L181,237.2 L179.9,236.4 L178.7,235.5 L177.6,234.6 L176.5,233.7 L175.4,232.9 L174.3,232 L173.6,231.5 L173.2,231.7 L172.9,232 L172.5,232.2 L172.2,232.4 L171.8,232.6 L171.5,232.8 L171.1,233 L170.8,233.3 L170.4,233.5 L170,233.7 L169.7,233.9 L169.3,234.1 L169.4,235 L169.7,236.4 L170,237.8 L170.3,239.1 L170.5,240.5 L170.8,241.9 L171.1,243.3 L171.3,244.7 L171.4,245.9 L171,246.1 L170.6,246.3 L170.2,246.5 L169.8,246.7 L169.4,246.9 L169,247.1 L168.6,247.3 L168.2,247.5 L167.8,247.7 L167.4,247.9 L166.5,247.2 L165.5,246.1 L164.5,245.1 L163.5,244.1 L162.6,243.1 L161.6,242 L160.7,241 L159.8,239.9 L159.1,239.3 L158.7,239.5 L158.3,239.7 L157.9,239.8 L157.5,240 L157.2,240.1 L156.8,240.3 L156.4,240.5 L156,240.6 L155.6,240.8 L155.3,240.9 L154.9,241.1 L154.5,241.2 L154.4,242.1 L154.5,243.5 L154.6,244.9 L154.6,246.4 L154.7,247.8 L154.7,249.2 L154.8,250.6 L154.8,252 L154.7,253.2 L154.3,253.3 L153.8,253.5 L153.4,253.6 L153,253.8 L152.5,253.9 L152.1,254 L151.7,254.2 L151.2,254.3 L150.8,254.5 L150.4,254.6 L149.6,253.7 L148.8,252.5 L148,251.4 L147.2,250.2 L146.4,249 L145.6,247.8 L144.9,246.7 L144.1,245.5 L143.5,244.8 L143.1,244.9 L142.7,245 L142.3,245.1 L141.9,245.2 L141.5,245.3 L141.1,245.4 L140.7,245.5 L140.3,245.6 L139.9,245.7 L139.5,245.8 L139.1,245.9 L138.7,245.9 L138.5,246.8 L138.3,248.2 L138.2,249.6 L138,251 L137.9,252.4 L137.7,253.8 L137.5,255.2 L137.3,256.6 L137,257.8 L136.6,257.9 L136.1,257.9 L135.7,258 L135.2,258.1 L134.8,258.2 L134.3,258.2 L133.9,258.3 L133.4,258.4 L133,258.4 L132.5,258.5 L131.9,257.5 L131.3,256.2 L130.7,254.9 L130.1,253.7 L129.5,252.4 L128.9,251.1 L128.4,249.8 L127.8,248.5 L127.3,247.8 L126.9,247.8 L126.5,247.8 L126.1,247.9 L125.7,247.9 L125.2,247.9 L124.8,248 L124.4,248 L124,248 L123.6,248.1 L123.2,248.1 L122.8,248.1 L122.4,248.1 L122,249 L121.6,250.3 L121.3,251.7 L120.9,253.1 L120.5,254.4 L120.1,255.8 L119.7,257.1 L119.3,258.5 L118.9,259.6 L118.4,259.6 L118,259.6 L117.5,259.6 L117.1,259.6 L116.6,259.6 L116.1,259.6 L115.7,259.6 L115.2,259.6 L114.8,259.6 L114.3,259.6 L113.9,258.5 L113.5,257.1 L113.1,255.8 L112.7,254.4 L112.3,253.1 L111.9,251.7 L111.6,250.3 L111.2,249 L110.8,248.1 L110.4,248.1 L110,248.1 L109.6,248.1 L109.2,248 L108.8,248 L108.4,248 L108,247.9 L107.5,247.9 L107.1,247.9 L106.7,247.8 L106.3,247.8 L105.9,247.8 L105.4,248.5 L104.8,249.8 L104.3,251.1 L103.7,252.4 L103.1,253.7 L102.5,254.9 L101.9,256.2 L101.3,257.5 L100.7,258.5 L100.2,258.4 L99.8,258.4 L99.3,258.3 L98.9,258.2 L98.4,258.2 L98,258.1 L97.5,258 L97.1,257.9 L96.6,257.9 L96.2,257.8 L95.9,256.6 L95.7,255.2 L95.5,253.8 L95.3,252.4 L95.2,251 L95,249.6 L94.9,248.2 L94.7,246.8 L94.5,245.9 L94.1,245.9 L93.7,245.8 L93.3,245.7 L92.9,245.6 L92.5,245.5 L92.1,245.4 L91.7,245.3 L91.3,245.2 L90.9,245.1 L90.5,245 L90.1,244.9 L89.7,244.8 L89.1,245.5 L88.3,246.7 L87.6,247.8 L86.8,249 L86,250.2 L85.2,251.4 L84.4,252.5 L83.6,253.7 L82.8,254.6 L82.4,254.5 L82,254.3 L81.5,254.2 L81.1,254 L80.7,253.9 L80.2,253.8 L79.8,253.6 L79.4,253.5 L78.9,253.3 L78.5,253.2 L78.4,252 L78.4,250.6 L78.5,249.2 L78.5,247.8 L78.6,246.4 L78.6,244.9 L78.7,243.5 L78.8,242.1 L78.7,241.2 L78.3,241.1 L77.9,240.9 L77.6,240.8 L77.2,240.6 L76.8,240.5 L76.4,240.3 L76,240.1 L75.7,240 L75.3,239.8 L74.9,239.7 L74.5,239.5 L74.1,239.3 L73.4,239.9 L72.5,241 L71.6,242 L70.6,243.1 L69.7,244.1 L68.7,245.1 L67.7,246.1 L66.7,247.2 L65.8,247.9 L65.4,247.7 L65,247.5 L64.6,247.3 L64.2,247.1 L63.8,246.9 L63.4,246.7 L63,246.5 L62.6,246.3 L62.2,246.1 L61.8,245.9 L61.9,244.7 L62.1,243.3 L62.4,241.9 L62.7,240.5 L62.9,239.1 L63.2,237.8 L63.5,236.4 L63.8,235 L63.9,234.1 L63.5,233.9 L63.2,233.7 L62.8,233.5 L62.4,233.3 L62.1,233 L61.7,232.8 L61.4,232.6 L61,232.4 L60.7,232.2 L60.3,232 L60,231.7 L59.6,231.5 L58.9,232 L57.8,232.9 L56.7,233.7 L55.6,234.6 L54.5,235.5 L53.3,236.4 L52.2,237.2 L51.1,238.1 L50.1,238.7 L49.7,238.5 L49.4,238.2 L49,237.9 L48.6,237.7 L48.2,237.4 L47.9,237.1 L47.5,236.8 L47.1,236.6 L46.8,236.3 L46.4,236 L46.7,234.9 L47.2,233.6 L47.6,232.2 L48.1,230.9 L48.6,229.6 L49.1,228.2 L49.6,226.9 L50.1,225.6 L50.3,224.7 L50,224.5 L49.7,224.2 L49.4,223.9 L49,223.7 L48.7,223.4 L48.4,223.1 L48.1,222.9 L47.8,222.6 L47.5,222.3 L47.2,222.1 L46.9,221.8 L46.5,221.5 L45.7,221.8 L44.5,222.6 L43.3,223.3 L42,224 L40.8,224.7 L39.6,225.3 L38.3,226 L37.1,226.7 L36,227.1 L35.7,226.8 L35.3,226.5 L35,226.2 L34.7,225.9 L34.4,225.5 L34,225.2 L33.7,224.9 L33.4,224.6 L33.1,224.2 L32.8,223.9 L33.2,222.8 L33.9,221.6 L34.6,220.3 L35.2,219.1 L35.9,217.9 L36.6,216.6 L37.3,215.4 L38.1,214.2 L38.4,213.4 L38.1,213 L37.8,212.7 L37.6,212.4 L37.3,212.1 L37,211.8 L36.8,211.5 L36.5,211.2 L36.2,210.9 L36,210.5 L35.7,210.2 L35.4,209.9 L35.2,209.6 L34.3,209.8 L33,210.3 L31.7,210.8 L30.3,211.3 L29,211.8 L27.7,212.3 L26.3,212.7 L25,213.2 L23.9,213.5 L23.6,213.1 L23.3,212.8 L23.1,212.4 L22.8,212 L22.5,211.7 L22.2,211.3 L22,210.9 L21.7,210.5 L21.4,210.2 L21.2,209.8 L21.8,208.8 L22.7,207.7 L23.5,206.6 L24.4,205.4 L25.3,204.3 L26.2,203.2 L27,202.1 L27.9,201 L28.4,200.3 L28.2,199.9 L27.9,199.6 L27.7,199.2 L27.5,198.9 L27.3,198.5 L27.1,198.2 L26.9,197.8 L26.6,197.5 L26.4,197.1 L26.2,196.7 L26,196.4 L25.8,196 L24.9,196.1 L23.5,196.4 L22.1,196.7 L20.8,197 L19.4,197.2 L18,197.5 L16.6,197.8 L15.2,198 L14,198.1 L13.8,197.7 L13.6,197.3 L13.4,196.9 L13.2,196.5 L13,196.1 L12.8,195.7 L12.6,195.3 L12.4,194.9 L12.2,194.5 L12,194.1 L12.7,193.2 L13.8,192.2 L14.8,191.2 L15.8,190.2 L16.8,189.3 L17.9,188.3 L18.9,187.4 L20,186.5 L20.6,185.8 L20.4,185.4 L20.2,185 L20.1,184.6 L19.9,184.2 L19.8,183.9 L19.6,183.5 L19.4,183.1 L19.3,182.7 L19.1,182.3 L19,182 L18.8,181.6 L18.7,181.2 L17.8,181.1 L16.4,181.2 L15,181.3 L13.5,181.3 L12.1,181.4 L10.7,181.4 L9.3,181.5 L7.9,181.5 L6.7,181.4 L6.6,181 L6.4,180.5 L6.3,180.1 L6.1,179.7 L6,179.2 L5.9,178.8 L5.7,178.4 L5.6,177.9 L5.4,177.5 L5.3,177.1 L6.2,176.3 L7.4,175.5 L8.5,174.7 L9.7,173.9 L10.9,173.1 L12.1,172.3 L13.2,171.6 L14.4,170.8 L15.1,170.2 L15,169.8 L14.9,169.4 L14.8,169 L14.7,168.6 L14.6,168.2 L14.5,167.8 L14.4,167.4 L14.3,167 L14.2,166.6 L14.1,166.2 L14,165.8 L14,165.4 L13.1,165.2 L11.7,165 L10.3,164.9 L8.9,164.7 L7.5,164.6 L6.1,164.4 L4.7,164.2 L3.3,164 L2.1,163.7 L2,163.3 L2,162.8 L1.9,162.4 L1.8,161.9 L1.7,161.5 L1.7,161 L1.6,160.6 L1.5,160.1 L1.5,159.7 L1.4,159.2 L2.4,158.6 L3.7,158 L5,157.4 L6.2,156.8 L7.5,156.2 L8.8,155.6 L10.1,155.1 L11.4,154.5 L12.1,154 L12.1,153.6 L12.1,153.2 L12,152.8 L12,152.4 L12,151.9 L11.9,151.5 L11.9,151.1 L11.9,150.7 L11.8,150.3 L11.8,149.9 L11.8,149.5 L11.8,149.1 L10.9,148.7 L9.6,148.3 L8.2,148 L6.8,147.6 L5.5,147.2 L4.1,146.8 L2.8,146.4 L1.4,146 L0.3,145.6 L0.3,145.1 L0.3,144.7 L0.3,144.2 L0.3,143.8 L0.3,143.3 L0.3,142.8 L0.3,142.4 L0.3,141.9 L0.3,141.5 L0.3,141 L1.4,140.6 L2.8,140.2 L4.1,139.8 L5.5,139.4 L6.8,139 L8.2,138.6 L9.6,138.3 L10.9,137.9 L11.8,137.5 L11.8,137.1 L11.8,136.7 L11.8,136.3 L11.9,135.9 L11.9,135.5 L11.9,135.1 L12,134.7 L12,134.2 L12,133.8 L12.1,133.4 L12.1,133 L12.1,132.6 L11.4,132.1 L10.1,131.5 L8.8,131 L7.5,130.4 L6.2,129.8 L5,129.2 L3.7,128.6 L2.4,128 L1.4,127.4 L1.5,126.9 L1.5,126.5 L1.6,126 L1.7,125.6 L1.7,125.1 L1.8,124.7 L1.9,124.2 L2,123.8 L2,123.3 L2.1,122.9 L3.3,122.6 L4.7,122.4 L6.1,122.2 L7.5,122 L8.9,121.9 L10.3,121.7 L11.7,121.6 L13.1,121.4 L14,121.2 L14,120.8 L14.1,120.4 L14.2,120 L14.3,119.6 L14.4,119.2 L14.5,118.8 L14.6,118.4 L14.7,118 L14.8,117.6 L14.9,117.2 L15,116.8 L15.1,116.4 L14.4,115.8 L13.2,115 L12.1,114.3 L10.9,113.5 L9.7,112.7 L8.5,111.9 L7.4,111.1 L6.2,110.3 L5.3,109.5 L5.4,109.1 L5.6,108.7 L5.7,108.2 L5.9,107.8 L6,107.4 L6.1,106.9 L6.3,106.5 L6.4,106.1 L6.6,105.6 L6.7,105.2 L7.9,105.1 L9.3,105.1 L10.7,105.2 L12.1,105.2 L13.5,105.3 L15,105.3 L16.4,105.4 L17.8,105.5 L18.7,105.4 L18.8,105 L19,104.6 L19.1,104.3 L19.3,103.9 L19.4,103.5 L19.6,103.1 L19.8,102.7 L19.9,102.4 L20.1,102 L20.2,101.6 L20.4,101.2 L20.6,100.8 L20,100.1 L18.9,99.2 L17.9,98.3 L16.8,97.3 L15.8,96.4 L14.8,95.4 L13.8,94.4 L12.7,93.4 L12,92.5 L12.2,92.1 L12.4,91.7 L12.6,91.3 L12.8,90.9 L13,90.5 L13.2,90.1 L13.4,89.7 L13.6,89.3 L13.8,88.9 L14,88.5 L15.2,88.6 L16.6,88.8 L18,89.1 L19.4,89.4 L20.8,89.6 L22.1,89.9 L23.5,90.2 L24.9,90.5 L25.8,90.6 L26,90.2 L26.2,89.9 L26.4,89.5 L26.6,89.1 L26.9,88.8 L27.1,88.4 L27.3,88.1 L27.5,87.7 L27.7,87.4 L27.9,87 L28.2,86.7 L28.4,86.3 L27.9,85.6 L27,84.5 L26.2,83.4 L25.3,82.3 L24.4,81.2 L23.5,80 L22.7,78.9 L21.8,77.8 L21.2,76.8 L21.4,76.4 L21.7,76.1 L22,75.7 L22.2,75.3 L22.5,74.9 L22.8,74.6 L23.1,74.2 L23.3,73.8 L23.6,73.5 L23.9,73.1 L25,73.4 L26.3,73.9 L27.7,74.3 L29,74.8 L30.3,75.3 L31.7,75.8 L33,76.3 L34.3,76.8 L35.2,77 L35.4,76.7 L35.7,76.4 L36,76.1 L36.2,75.7 L36.5,75.4 L36.8,75.1 L37,74.8 L37.3,74.5 L37.6,74.2 L37.8,73.9 L38.1,73.6 L38.4,73.2 L38.1,72.4 L37.3,71.2 L36.6,70 L35.9,68.7 L35.2,67.5 L34.6,66.3 L33.9,65 L33.2,63.8 L32.8,62.7 L33.1,62.4 L33.4,62 L33.7,61.7 L34,61.4 L34.4,61.1 L34.7,60.7 L35,60.4 L35.3,60.1 L35.7,59.8 L36,59.5 L37.1,59.9 L38.3,60.6 L39.6,61.3 L40.8,61.9 L42,62.6 L43.3,63.3 L44.5,64 L45.7,64.8 L46.5,65.1 L46.9,64.8 L47.2,64.5 L47.5,64.3 L47.8,64 L48.1,63.7 L48.4,63.5 L48.7,63.2 L49,62.9 L49.4,62.7 L49.7,62.4 L50,62.1 L50.3,61.9 L50.1,61 L49.6,59.7 L49.1,58.4 L48.6,57 L48.1,55.7 L47.6,54.4 L47.2,53 L46.7,51.7 L46.4,50.6 L46.8,50.3 L47.1,50 L47.5,49.8 L47.9,49.5 L48.2,49.2 L48.6,48.9 L49,48.7 L49.4,48.4 L49.7,48.1 L50.1,47.9 L51.1,48.5 L52.2,49.4 L53.3,50.2 L54.5,51.1 L55.6,52 L56.7,52.9 L57.8,53.7 L58.9,54.6 L59.6,55.1 L60,54.9 L60.3,54.6 L60.7,54.4 L61,54.2 L61.4,54 L61.7,53.8 L62.1,53.6 L62.4,53.3 L62.8,53.1 L63.2,52.9 L63.5,52.7 L63.9,52.5 L63.8,51.6 L63.5,50.2 L63.2,48.8 L62.9,47.5 L62.7,46.1 L62.4,44.7 L62.1,43.3 L61.9,41.9 L61.8,40.7 L62.2,40.5 L62.6,40.3 L63,40.1 L63.4,39.9 L63.8,39.7 L64.2,39.5 L64.6,39.3 L65,39.1 L65.4,38.9 L65.8,38.7 L66.7,39.4 L67.7,40.5 L68.7,41.5 L69.7,42.5 L70.6,43.5 L71.6,44.6 L72.5,45.6 L73.4,46.7 L74.1,47.3 L74.5,47.1 L74.9,46.9 L75.3,46.8 L75.7,46.6 L76,46.5 L76.4,46.3 L76.8,46.1 L77.2,46 L77.6,45.8 L77.9,45.7 L78.3,45.5 L78.7,45.4 L78.8,44.5 L78.7,43.1 L78.6,41.7 L78.6,40.2 L78.5,38.8 L78.5,37.4 L78.4,36 L78.4,34.6 L78.5,33.4 L78.9,33.3 L79.4,33.1 L79.8,33 L80.2,32.8 L80.7,32.7 L81.1,32.6 L81.5,32.4 L82,32.3 L82.4,32.1 L82.8,32 L83.6,32.9 L84.4,34.1 L85.2,35.2 L86,36.4 L86.8,37.6 L87.6,38.8 L88.3,39.9 L89.1,41.1 L89.7,41.8 L90.1,41.7 L90.5,41.6 L90.9,41.5 L91.3,41.4 L91.7,41.3 L92.1,41.2 L92.5,41.1 L92.9,41 L93.3,40.9 L93.7,40.8 L94.1,40.7 L94.5,40.7 L94.7,39.8 L94.9,38.4 L95,37 L95.2,35.6 L95.3,34.2 L95.5,32.8 L95.7,31.4 L95.9,30 L96.2,28.8 L96.6,28.7 L97.1,28.7 L97.5,28.6 L98,28.5 L98.4,28.4 L98.9,28.4 L99.3,28.3 L99.8,28.2 L100.2,28.2 L100.7,28.1 L101.3,29.1 L101.9,30.4 L102.5,31.7 L103.1,32.9 L103.7,34.2 L104.3,35.5 L104.8,36.8 L105.4,38.1 L105.9,38.8 L106.3,38.8 L106.7,38.8 L107.1,38.7 L107.5,38.7 L108,38.7 L108.4,38.6 L108.8,38.6 L109.2,38.6 L109.6,38.5 L110,38.5 L110.4,38.5 L110.8,38.5 L111.2,37.6 L111.6,36.3 L111.9,34.9 L112.3,33.5 L112.7,32.2 L113.1,30.8 L113.5,29.5 L113.9,28.1 L114.3,27 L114.8,27 L115.2,27 L115.7,27 L116.1,27 L116.6,27Z M116.6,48.3 A95,95 0 1,0 116.6,238.3 A95,95 0 1,0 116.6,48.3Z" fill="url(#g1fill)" fill-rule="evenodd" stroke="#444" stroke-width="1.1" stroke-linejoin="round"/>
<rect x="89.2" y="21" width="53.5" height="37.3" fill="none" stroke="#444" stroke-width="1.2"/>
<rect x="403" y="57" width="32.3" height="158.5" fill="none" stroke="#444" stroke-width="1.2"/>
<line x1="142.7" y1="21" x2="435.3" y2="57" stroke="#333" stroke-width="1.2"/>
<line x1="142.7" y1="58.3" x2="403" y2="215.5" stroke="#333" stroke-width="1.2"/>
<path d="M65.8,409.6 A86,86 0 0,0 192,406.5 L226,406.8" fill="none" stroke="#1ba3bf" stroke-width="3.6" stroke-linejoin="round"/>
<path d="M240,407 L223,415 L227,407 L223,399Z" fill="#1ba3bf"/>
<text x="167" y="449.7" font-size="28.5" fill="#1ca4c0" text-anchor="start" textLength="263" lengthAdjust="spacingAndGlyphs" >Generated lightwave</text>
<path d="M190,266.2 L194.4,267 L198.9,269.5 L203.3,273.6 L207.8,279.1 L212.2,286 L216.7,294 L221.1,303 L225.6,312.8 L230,323.1 L234.5,333.7 L238.9,344.2 L243.4,354.5 L247.8,364.3 L252.3,373.3 L256.7,381.4 L261.2,388.3 L265.6,393.8 L270.1,397.9 L274.5,400.4 L279,401.2 L282.2,400.4 L285.4,397.9 L288.7,393.9 L291.9,388.3 L295.1,381.5 L298.4,373.4 L301.6,364.4 L304.8,354.6 L308,344.3 L311.3,333.8 L314.5,323.2 L317.7,312.9 L321,303.1 L324.2,294.1 L327.4,286 L330.7,279.1 L333.9,273.6 L337.1,269.5 L340.3,267 L343.6,266.2 L345.8,267 L348,269.5 L350.2,273.5 L352.5,279 L354.7,285.9 L356.9,293.9 L359.1,302.9 L361.3,312.7 L363.6,323 L365.8,333.6 L368,344.1 L370.2,354.4 L372.4,364.2 L374.6,373.3 L376.9,381.3 L379.1,388.2 L381.3,393.8 L383.5,397.8 L385.7,400.3 L388,401.2 L389.7,400.4 L391.4,397.9 L393.1,393.9 L394.8,388.4 L396.5,381.6 L398.2,373.5 L399.9,364.5 L401.7,354.7 L403.4,344.4 L405.1,333.9 L406.8,323.3 L408.5,313 L410.2,303.2 L411.9,294.2 L413.6,286.1 L415.3,279.2 L417,273.7 L418.7,269.6 L420.5,267.1 L422.2,266.2 L423.5,267 L424.8,269.4 L426.1,273.5 L427.4,279 L428.7,285.8 L430.1,293.8 L431.4,302.8 L432.7,312.6 L434,322.9 L435.3,333.5 L436.6,344 L437.9,354.3 L439.3,364.1 L440.6,373.2 L441.9,381.2 L443.2,388.2 L444.5,393.7 L445.8,397.8 L447.2,400.3 L448.5,401.2 L449.6,400.4 L450.8,398 L451.9,394 L453.1,388.5 L454.3,381.6 L455.4,373.6 L456.6,364.6 L457.7,354.8 L458.9,344.6 L460.1,334 L461.2,323.4 L462.4,313.1 L463.5,303.3 L464.7,294.3 L465.9,286.2 L467,279.3 L468.2,273.7 L469.3,269.6 L470.5,267.1 L471.7,266.2 L472.6,267 L473.6,269.4 L474.6,273.4 L475.6,278.9 L476.6,285.7 L477.5,293.7 L478.5,302.7 L479.5,312.5 L480.5,322.8 L481.5,333.3 L482.4,343.9 L483.4,354.2 L484.4,364 L485.4,373.1 L486.4,381.2 L487.3,388.1 L488.3,393.7 L489.3,397.8 L490.3,400.3 L491.3,401.2 L492.2,400.4 L493.1,398 L494.1,394 L495,388.5 L495.9,381.7 L496.9,373.7 L497.8,364.7 L498.7,354.9 L499.7,344.7 L500.6,334.1 L501.5,323.5 L502.5,313.2 L503.4,303.4 L504.4,294.4 L505.3,286.3 L506.2,279.3 L507.2,273.8 L508.1,269.6 L509,267.1 L510,266.2 L510.8,267 L511.6,269.4 L512.4,273.4 L513.2,278.8 L514,285.7 L514.8,293.7 L515.6,302.7 L516.4,312.4 L517.3,322.7 L518.1,333.2 L518.9,343.8 L519.7,354.1 L520.5,363.9 L521.3,373 L522.1,381.1 L522.9,388 L523.7,393.6 L524.5,397.7 L525.4,400.3 L526.2,401.2 L526.9,400.4 L527.7,398 L528.5,394.1 L529.2,388.6 L530,381.8 L530.8,373.8 L531.5,364.8 L532.3,355 L533,344.8 L533.8,334.2 L534.6,323.7 L535.3,313.3 L536.1,303.5 L536.9,294.5 L537.6,286.3 L538.4,279.4 L539.2,273.8 L539.9,269.7 L540.7,267.1 L541.5,266.2 L542.2,266.9 L542.9,269.3 L543.6,273.3 L544.3,278.8 L545,285.6 L545.7,293.6 L546.4,302.6 L547.1,312.3 L547.8,322.6 L548.5,333.1 L549.2,343.7 L549.9,354 L550.6,363.8 L551.3,372.9 L552,381 L552.7,388 L553.4,393.6 L554.1,397.7 L554.8,400.3 L555.5,401.2 L556.1,400.5 L556.7,398.1 L557.3,394.1 L557.9,388.7 L558.6,381.9 L559.2,373.9 L559.8,364.9 L560.4,355.1 L561,344.9 L561.7,334.3 L562.3,323.8 L562.9,313.4 L563.5,303.6 L564.1,294.5 L564.8,286.4 L565.4,279.5 L566,273.9 L566.6,269.7 L567.2,267.1 L567.9,266.2 L568.5,266.9 L569.1,269.3 L569.7,273.3 L570.3,278.7 L571,285.5 L571.6,293.5 L572.2,302.5 L572.8,312.2 L573.4,322.5 L574.1,333 L574.7,343.6 L575.3,353.9 L575.9,363.7 L576.5,372.8 L577.2,380.9 L577.8,387.9 L578.4,393.5 L579,397.7 L579.6,400.3 L580.3,401.2 L580.8,400.5 L581.4,398.1 L581.9,394.2 L582.5,388.7 L583.1,381.9 L583.6,374 L584.2,365 L584.7,355.2 L585.3,345 L585.9,334.4 L586.4,323.9 L587,313.5 L587.5,303.7 L588.1,294.6 L588.7,286.5 L589.2,279.5 L589.8,273.9 L590.3,269.7 L590.9,267.2 L591.5,266.2 L592,266.9 L592.6,269.3 L593.2,273.2 L593.7,278.6 L594.3,285.4 L594.8,293.4 L595.4,302.4 L596,312.1 L596.5,322.4 L597.1,332.9 L597.7,343.5 L598.2,353.8 L598.8,363.6 L599.4,372.7 L599.9,380.9 L600.5,387.8 L601.1,393.5 L601.6,397.6 L602.2,400.2 L602.8,401.2 L603.2,400.5 L603.7,398.1 L604.2,394.2 L604.7,388.8 L605.2,382 L605.7,374 L606.2,365.1 L606.6,355.4 L607.1,345.1 L607.6,334.5 L608.1,324 L608.6,313.6 L609.1,303.8 L609.6,294.7 L610,286.6 L610.5,279.6 L611,274 L611.5,269.8 L612,267.2 L612.5,266.2 L612.9,266.9 L613.4,269.2 L613.9,273.2 L614.4,278.6 L614.8,285.4 L615.3,293.3 L615.8,302.3 L616.3,312 L616.7,322.3 L617.2,332.8 L617.7,343.4 L618.2,353.7 L618.6,363.5 L619.1,372.6 L619.6,380.8 L620.1,387.8 L620.5,393.4 L621,397.6 L621.5,400.2 L622,401.2 L622.4,400.5 L622.9,398.2 L623.4,394.3 L623.9,388.9 L624.4,382.1 L624.9,374.1 L625.4,365.2 L625.8,355.5 L626.3,345.2 L626.8,334.6 L627.3,324.1 L627.8,313.8 L628.3,303.9 L628.7,294.8 L629.2,286.7 L629.7,279.7 L630.2,274 L630.7,269.8 L631.2,267.2 L631.7,266.2 L632.1,266.9 L632.5,269.2 L632.9,273.1 L633.3,278.5 L633.7,285.3 L634.2,293.2 L634.6,302.2 L635,311.9 L635.4,322.2 L635.8,332.7 L636.2,343.3 L636.6,353.6 L637.1,363.4 L637.5,372.6 L637.9,380.7 L638.3,387.7 L638.7,393.4 L639.1,397.6 L639.5,400.2 L640,401.2 L640.4,400.5 L640.9,398.2 L641.3,394.3 L641.8,388.9 L642.2,382.2 L642.7,374.2 L643.1,365.3 L643.6,355.6 L644,345.3 L644.5,334.8 L644.9,324.2 L645.4,313.9 L645.8,304 L646.3,294.9 L646.7,286.7 L647.2,279.7 L647.6,274.1 L648.1,269.8 L648.5,267.2 L649,266.2 L649.4,266.9 L649.7,269.2 L650.1,273.1 L650.5,278.5 L650.9,285.2 L651.3,293.1 L651.7,302.1 L652.1,311.8 L652.5,322 L652.9,332.6 L653.3,343.2 L653.7,353.5 L654.1,363.3 L654.5,372.5 L654.9,380.6 L655.3,387.6 L655.7,393.3 L656.1,397.5 L656.5,400.2 L656.9,401.2 L657.3,400.5 L657.8,398.2 L658.2,394.4 L658.7,389 L659.1,382.2 L659.6,374.3 L660,365.4 L660.5,355.7 L660.9,345.4 L661.4,334.9 L661.9,324.3 L662.3,314 L662.8,304.1 L663.2,295 L663.7,286.8 L664.1,279.8 L664.6,274.1 L665,269.9 L665.5,267.2 L665.9,266.2 L666.3,266.9 L666.7,269.1 L667.1,273 L667.5,278.4 L667.9,285.1 L668.3,293.1 L668.7,302 L669.1,311.7 L669.5,321.9 L669.9,332.5 L670.2,343 L670.6,353.4 L671,363.2 L671.4,372.4 L671.8,380.5 L672.2,387.6 L672.6,393.3 L673,397.5 L673.4,400.2 L673.8,401.2 L674.1,400.6 L674.5,398.3 L674.9,394.4 L675.2,389 L675.6,382.3 L676,374.4 L676.3,365.5 L676.7,355.8 L677.1,345.5 L677.5,335 L677.8,324.4 L678.2,314.1 L678.6,304.2 L678.9,295.1 L679.3,286.9 L679.7,279.9 L680,274.2 L680.4,269.9 L680.8,267.2 L681.2,266.2 L681.5,266.8 L681.9,269.1 L682.2,273 L682.6,278.3 L683,285 L683.3,293 L683.7,301.9 L684.1,311.6 L684.4,321.8 L684.8,332.4 L685.2,342.9 L685.5,353.3 L685.9,363.1 L686.3,372.3 L686.6,380.5 L687,387.5 L687.4,393.2 L687.7,397.5 L688.1,400.1 L688.5,401.2 L688.8,400.6 L689.2,398.3 L689.6,394.4 L689.9,389.1 L690.3,382.4 L690.7,374.5 L691,365.6 L691.4,355.9 L691.8,345.6 L692.2,335.1 L692.5,324.5 L692.9,314.2 L693.3,304.3 L693.6,295.2 L694,287 L694.4,279.9 L694.7,274.2 L695.1,270 L695.5,267.3 L695.9,266.2 L696.2,266.8 L696.5,269.1 L696.8,272.9 L697.1,278.3 L697.4,285 L697.7,292.9 L698,301.8 L698.3,311.5 L698.6,321.7 L698.9,332.3 L699.2,342.8 L699.5,353.2 L699.8,363 L700.1,372.2 L700.4,380.4 L700.7,387.4 L701,393.2 L701.3,397.4 L701.7,400.1 L702,401.2 L702.3,400.6 L702.7,398.3 L703.1,394.5 L703.4,389.2 L703.8,382.5 L704.2,374.6 L704.5,365.7 L704.9,356 L705.3,345.7 L705.6,335.2 L706,324.6 L706.4,314.3 L706.8,304.4 L707.1,295.2 L707.5,287 L707.9,280 L708.2,274.3 L708.6,270 L709,267.3 L709.3,266.2 L709.7,266.8 L710,269 L710.3,272.9 L710.6,278.2 L710.9,284.9 L711.2,292.8 L711.5,301.7 L711.8,311.4 L712.1,321.6 L712.4,332.2 L712.7,342.7 L713,353.1 L713.3,363 L713.6,372.1 L713.9,380.3 L714.2,387.4 L714.5,393.1 L714.8,397.4 L715.1,400.1 L715.5,401.2 L715.8,400.6 L716.1,398.4 L716.5,394.5 L716.8,389.2 L717.1,382.5 L717.5,374.7 L717.8,365.8 L718.2,356.1 L718.5,345.8 L718.8,335.3 L719.2,324.7 L719.5,314.4 L719.9,304.5 L720.2,295.3 L720.5,287.1 L720.9,280.1 L721.2,274.3 L721.6,270 L721.9,267.3 L722.2,266.2 L722.5,266.8 L722.8,269 L723.1,272.8 L723.4,278.1 L723.7,284.8 L723.9,292.7 L724.2,301.6 L724.5,311.3 L724.8,321.5 L725.1,332 L725.3,342.6 L725.6,353 L725.9,362.9 L726.2,372 L726.5,380.2 L726.7,387.3 L727,393.1 L727.3,397.4 L727.6,400.1 L727.9,401.2 L728.2,400.6 L728.5,398.4 L728.9,394.6 L729.2,389.3 L729.5,382.6 L729.9,374.7 L730.2,365.8 L730.5,356.2 L730.9,345.9 L731.2,335.4 L731.5,324.8 L731.9,314.5 L732.2,304.6 L732.5,295.4 L732.9,287.2 L733.2,280.1 L733.5,274.4 L733.9,270.1 L734.2,267.3 L734.5,266.2 L734.8,266.8 L735.1,269 L735.3,272.8 L735.6,278.1 L735.9,284.7 L736.1,292.6 L736.4,301.5 L736.6,311.2 L736.9,321.4 L737.2,331.9 L737.4,342.5 L737.7,352.9 L737.9,362.8 L738.2,371.9 L738.5,380.2 L738.7,387.2 L739,393 L739.2,397.3 L739.5,400.1 L739.8,401.2 L740.1,400.6 L740.4,398.4 L740.7,394.6 L741.1,389.3 L741.4,382.7 L741.7,374.8 L742.1,365.9 L742.4,356.3 L742.7,346 L743,335.5 L743.4,324.9 L743.7,314.6 L744,304.7 L744.4,295.5 L744.7,287.3 L745,280.2 L745.4,274.4 L745.7,270.1 L746,267.3 L746.3,266.2 L746.6,266.8 L746.9,269 L747.1,272.7 L747.4,278 L747.6,284.7 L747.9,292.5 L748.1,301.4 L748.4,311.1 L748.7,321.3 L748.9,331.8 L749.2,342.4 L749.4,352.8 L749.7,362.7 L749.9,371.8 L750.2,380.1 L750.4,387.2 L750.7,393 L750.9,397.3 L751.2,400 L751.5,401.2 L751.8,400.6 L752.1,398.5 L752.4,394.7 L752.7,389.4 L753,382.8 L753.4,374.9 L753.7,366 L754,356.4 L754.3,346.2 L754.6,335.6 L755,325 L755.3,314.7 L755.6,304.8 L755.9,295.6 L756.2,287.4 L756.6,280.3 L756.9,274.5 L757.2,270.1 L757.5,267.4 L757.8,266.2 L758.2,266.8 L758.5,268.9 L758.8,272.7 L759.1,278 L759.4,284.6 L759.8,292.4 L760.1,301.3 L760.4,311 L760.7,321.2 L761,331.7 L761.4,342.3 L761.7,352.7 L762,362.6" fill="none" stroke="url(#rainbow)" stroke-width="2.5" stroke-linejoin="round"/>
<line x1="551" y1="420" x2="647" y2="420" stroke="url(#ksg)" stroke-width="2.8"/>
<path d="M660.3,420 L644.3,426.5 L647.3,420 L644.3,413.5Z" fill="#2f50b5"/>
<text x="585" y="445" font-size="26" fill="#111" text-anchor="start" font-style="italic" >k</text>
<text x="598" y="453" font-size="17" fill="#111" text-anchor="start" >s</text>
<text x="1087" y="74.5" font-size="28" fill="#1b8ea5" text-anchor="start" textLength="57" lengthAdjust="spacingAndGlyphs" >OPO</text>
<text x="0" y="0" font-size="27.5" fill="#111" transform="translate(850,278) rotate(-90)" textLength="86.6" lengthAdjust="spacingAndGlyphs">Energy</text>
<line x1="872.5" y1="127.5" x2="1058.5" y2="127.5" stroke="#333" stroke-width="1.6" stroke-dasharray="6.5 7"/>
<line x1="991" y1="200.6" x2="1061" y2="200.6" stroke="#333" stroke-width="1.6" stroke-dasharray="6 6"/>
<line x1="905" y1="333.8" x2="1096" y2="333.8" stroke="#555" stroke-width="1.8"/>
<line x1="940" y1="333.8" x2="940" y2="142.5" stroke="#cdc65c" stroke-width="4"/>
<path d="M940,130 L946.5,146 L940,142.5 L933.5,146Z" fill="#cdc65c"/>
<path d="M940,233 L946.5,249 L940,245.5 L933.5,249Z" fill="#cdc65c"/>
<line x1="1025.8" y1="127.5" x2="1025.8" y2="184" stroke="#9b161c" stroke-width="4"/>
<path d="M1025.8,196.5 L1018.9,180.5 L1025.8,184 L1032.7,180.5Z" fill="#9b161c"/>
<line x1="1012" y1="203" x2="1012" y2="286.2" stroke="#555" stroke-width="4" stroke-dasharray="7 4.5"/>
<path d="M1012,297.7 L1005.4,282.7 L1012,286.2 L1018.6,282.7Z" fill="#555"/>
<line x1="997" y1="301.8" x2="1027" y2="301.8" stroke="#333" stroke-width="1.6"/>
<line x1="1044.6" y1="200.6" x2="1044.6" y2="320.9" stroke="#18a6c2" stroke-width="3.5"/>
<path d="M1044.6,332.4 L1038,317.4 L1044.6,320.9 L1051.2,317.4Z" fill="#18a6c2"/>
<rect x="1207.5" y="129" width="5.8" height="243" fill="url(#pb1)"/>
<rect x="1427.1" y="115" width="5.8" height="257" fill="url(#pb2)"/>
<rect x="1649.1" y="129" width="5.8" height="243" fill="url(#pb3)"/>
<path d="M1146,369.6 L1147.3,369.5 L1148.6,369.4 L1149.8,369.3 L1151.1,369.2 L1152.3,369.1 L1153.5,369 L1154.7,368.8 L1155.9,368.7 L1157.1,368.6 L1158.3,368.4 L1159.5,368.3 L1160.6,368.1 L1161.7,367.9 L1162.8,367.7 L1164,367.6 L1165,367.4 L1166.1,367.1 L1167.2,366.9 L1168.2,366.7 L1169.3,366.4 L1170.3,366.2 L1171.3,365.9 L1172.3,365.6 L1173.3,365.3 L1174.3,364.9 L1175.3,364.6 L1176.2,364.2 L1177.1,363.8 L1178.1,363.4 L1179,362.9 L1179.9,362.5 L1180.8,362 L1181.6,361.4 L1182.5,360.9 L1183.3,360.3 L1184.2,359.7 L1185,359 L1185.8,358.3 L1186.6,357.5 L1187.4,356.7 L1188.1,355.9 L1188.9,355 L1189.6,354 L1190.4,353 L1191.1,351.9 L1191.8,350.8 L1192.5,349.6 L1193.1,348.3 L1193.8,347 L1194.5,345.5 L1195.1,344 L1195.7,342.4 L1196.3,340.7 L1196.9,339 L1197.5,337.1 L1198.1,335.1 L1198.7,333 L1199.2,330.7 L1199.7,328.4 L1200.3,325.9 L1200.8,323.3 L1201.3,320.5 L1201.7,317.5 L1202.2,314.4 L1202.7,311.1 L1203.1,307.7 L1203.5,304 L1203.9,300.1 L1204.3,296.1 L1204.7,291.8 L1205.1,287.3 L1205.5,282.7 L1205.8,277.9 L1206.2,272.9 L1206.5,267.9 L1206.8,262.8 L1207.1,257.7 L1207.4,252.7 L1207.7,247.8 L1207.9,243.2 L1208.2,238.8 L1208.4,234.7 L1208.6,231.1 L1208.8,227.8 L1209,224.9 L1209.2,222.5 L1209.4,220.5 L1209.5,218.9 L1209.7,217.6 L1209.8,216.6 L1209.9,215.8 L1210,215.3 L1210.1,215 L1210.2,214.7 L1210.3,214.6 L1210.3,214.5 L1210.4,214.5 L1210.4,214.5 L1210.4,214.5 L1210.4,214.5 L1210.4,214.5 L1210.4,214.5 L1210.5,214.5 L1210.5,214.6 L1210.6,214.7 L1210.7,214.9 L1210.8,215.3 L1210.9,215.8 L1211,216.5 L1211.1,217.4 L1211.2,218.6 L1211.4,220.2 L1211.6,222.1 L1211.7,224.4 L1211.9,227.1 L1212.1,230.3 L1212.3,233.8 L1212.6,237.7 L1212.8,241.9 L1213.1,246.5 L1213.3,251.2 L1213.6,256.1 L1213.9,261.1 L1214.2,266.1 L1214.5,271.1 L1214.8,276 L1215.2,280.8 L1215.5,285.5 L1215.9,290 L1216.3,294.2 L1216.7,298.3 L1217.1,302.2 L1217.5,306 L1217.9,309.5 L1218.4,312.8 L1218.8,316 L1219.3,318.9 L1219.8,321.8 L1220.3,324.4 L1220.8,327 L1221.3,329.4 L1221.8,331.6 L1222.4,333.8 L1222.9,335.8 L1223.5,337.8 L1224.1,339.6 L1224.7,341.3 L1225.3,343 L1225.9,344.5 L1226.5,346 L1227.2,347.4 L1227.8,348.7 L1228.5,349.9 L1229.2,351.1 L1229.9,352.2 L1230.6,353.2 L1231.3,354.2 L1232,355.1 L1232.8,356 L1233.5,356.8 L1234.3,357.6 L1235.1,358.4 L1235.9,359.1 L1236.7,359.7 L1237.5,360.3 L1238.4,360.9 L1239.2,361.5 L1240.1,362 L1240.9,362.5 L1241.8,363 L1242.7,363.4 L1243.6,363.8 L1244.6,364.2 L1245.5,364.6 L1246.4,364.9 L1247.4,365.2 L1248.4,365.6 L1249.4,365.8 L1250.4,366.1 L1251.4,366.4 L1252.4,366.6 L1253.4,366.9 L1254.5,367.1 L1255.5,367.3 L1256.6,367.5 L1257.7,367.7 L1258.8,367.9 L1259.9,368.1 L1261,368.2 L1262.2,368.4 L1263.3,368.5 L1264.5,368.7 L1265.7,368.8 L1266.9,368.9 L1268.1,369.1 L1269.3,369.2 L1270.5,369.3 L1271.7,369.4 L1273,369.5" fill="none" stroke="#9b161c" stroke-width="3.2" stroke-linejoin="round"/>
<path d="M1366.5,369.6 L1367.8,369.5 L1369,369.4 L1370.3,369.2 L1371.5,369.1 L1372.7,369 L1373.9,368.9 L1375.1,368.8 L1376.3,368.6 L1377.5,368.5 L1378.6,368.3 L1379.8,368.2 L1380.9,368 L1382,367.8 L1383.1,367.6 L1384.2,367.4 L1385.3,367.2 L1386.3,367 L1387.4,366.8 L1388.4,366.5 L1389.5,366.3 L1390.5,366 L1391.5,365.7 L1392.5,365.4 L1393.4,365.1 L1394.4,364.7 L1395.4,364.4 L1396.3,364 L1397.2,363.6 L1398.1,363.2 L1399,362.7 L1399.9,362.2 L1400.8,361.7 L1401.6,361.2 L1402.5,360.6 L1403.3,360 L1404.1,359.4 L1404.9,358.7 L1405.7,358 L1406.5,357.2 L1407.3,356.4 L1408,355.5 L1408.8,354.6 L1409.5,353.6 L1410.2,352.6 L1410.9,351.5 L1411.6,350.4 L1412.3,349.1 L1413,347.8 L1413.6,346.5 L1414.3,345 L1414.9,343.5 L1415.5,341.9 L1416.1,340.2 L1416.7,338.4 L1417.3,336.5 L1417.9,334.4 L1418.4,332.3 L1419,330.1 L1419.5,327.7 L1420,325.2 L1420.5,322.5 L1421,319.7 L1421.5,316.7 L1421.9,313.6 L1422.4,310.3 L1422.8,306.8 L1423.2,303.1 L1423.6,299.2 L1424,295.2 L1424.4,290.9 L1424.8,286.4 L1425.1,281.8 L1425.5,276.9 L1425.8,272 L1426.2,267 L1426.5,261.9 L1426.8,256.9 L1427,251.9 L1427.3,247.1 L1427.6,242.5 L1427.8,238.2 L1428,234.3 L1428.3,230.7 L1428.5,227.5 L1428.7,224.7 L1428.8,222.3 L1429,220.3 L1429.2,218.7 L1429.3,217.5 L1429.4,216.5 L1429.5,215.8 L1429.6,215.3 L1429.7,214.9 L1429.8,214.7 L1429.9,214.6 L1429.9,214.5 L1430,214.5 L1430,214.5 L1430,214.5 L1430,214.5 L1430,214.5 L1430,214.5 L1430.1,214.5 L1430.1,214.6 L1430.2,214.7 L1430.3,214.9 L1430.4,215.3 L1430.5,215.8 L1430.6,216.5 L1430.7,217.4 L1430.8,218.6 L1431,220.2 L1431.2,222.1 L1431.3,224.4 L1431.5,227.2 L1431.7,230.3 L1431.9,233.8 L1432.2,237.8 L1432.4,242 L1432.7,246.5 L1432.9,251.3 L1433.2,256.2 L1433.5,261.2 L1433.8,266.2 L1434.1,271.2 L1434.4,276.1 L1434.8,280.9 L1435.1,285.6 L1435.5,290.1 L1435.9,294.4 L1436.3,298.4 L1436.7,302.3 L1437.1,306.1 L1437.5,309.6 L1438,312.9 L1438.4,316 L1438.9,319 L1439.4,321.8 L1439.9,324.5 L1440.4,327.1 L1440.9,329.4 L1441.4,331.7 L1442,333.9 L1442.5,335.9 L1443.1,337.8 L1443.7,339.7 L1444.3,341.4 L1444.9,343 L1445.5,344.6 L1446.2,346 L1446.8,347.4 L1447.5,348.7 L1448.1,350 L1448.8,351.1 L1449.5,352.2 L1450.2,353.3 L1450.9,354.3 L1451.7,355.2 L1452.4,356.1 L1453.2,356.9 L1454,357.7 L1454.7,358.4 L1455.5,359.1 L1456.3,359.8 L1457.2,360.4 L1458,361 L1458.9,361.5 L1459.7,362 L1460.6,362.5 L1461.5,363 L1462.4,363.4 L1463.3,363.8 L1464.2,364.2 L1465.2,364.6 L1466.1,364.9 L1467.1,365.3 L1468,365.6 L1469,365.9 L1470,366.1 L1471,366.4 L1472.1,366.7 L1473.1,366.9 L1474.2,367.1 L1475.2,367.3 L1476.3,367.5 L1477.4,367.7 L1478.5,367.9 L1479.6,368.1 L1480.7,368.2 L1481.9,368.4 L1483,368.5 L1484.2,368.7 L1485.4,368.8 L1486.6,368.9 L1487.8,369.1 L1489,369.2 L1490.2,369.3 L1491.4,369.4 L1492.7,369.5" fill="none" stroke="#cdc65c" stroke-width="3.2" stroke-linejoin="round"/>
<path d="M1544,370.4 L1545.3,370.3 L1546.6,370.2 L1547.9,370.1 L1549.1,370 L1550.4,369.9 L1551.6,369.7 L1552.8,369.6 L1554,369.5 L1555.2,369.3 L1556.4,369.2 L1557.6,369 L1558.7,368.8 L1559.9,368.6 L1561,368.4 L1562.1,368.2 L1563.2,368 L1564.3,367.8 L1565.4,367.5 L1566.5,367.3 L1567.5,367 L1568.5,366.7 L1569.6,366.4 L1570.6,366.1 L1571.6,365.8 L1572.6,365.4 L1573.5,365.1 L1574.5,364.7 L1575.4,364.2 L1576.4,363.8 L1577.3,363.3 L1578.2,362.8 L1579.1,362.3 L1580,361.8 L1580.8,361.2 L1581.7,360.5 L1582.5,359.9 L1583.4,359.2 L1584.2,358.4 L1585,357.6 L1585.8,356.8 L1586.5,355.9 L1587.3,355 L1588,354 L1588.8,352.9 L1589.5,351.8 L1590.2,350.7 L1590.9,349.4 L1591.6,348.1 L1592.3,346.7 L1592.9,345.3 L1593.6,343.7 L1594.2,342.1 L1594.8,340.3 L1595.4,338.5 L1596,336.6 L1596.6,334.6 L1597.1,332.4 L1597.7,330.2 L1598.2,327.8 L1598.8,325.3 L1599.3,322.6 L1599.8,319.8 L1600.3,316.8 L1600.7,313.7 L1601.2,310.4 L1601.6,306.9 L1602.1,303.2 L1602.5,299.4 L1602.9,295.3 L1603.3,291.1 L1603.7,286.7 L1604,282.1 L1604.4,277.4 L1604.7,272.6 L1605.1,267.7 L1605.4,262.8 L1605.7,257.9 L1606,253.2 L1606.2,248.6 L1606.5,244.2 L1606.8,240.1 L1607,236.4 L1607.2,233 L1607.4,230 L1607.6,227.4 L1607.8,225.2 L1608,223.4 L1608.1,221.9 L1608.3,220.7 L1608.4,219.9 L1608.5,219.2 L1608.6,218.7 L1608.7,218.4 L1608.8,218.2 L1608.9,218.1 L1608.9,218 L1609,218 L1609,218 L1609,218 L1609,218 L1609,218 L1609,218 L1609.1,218 L1609.1,218.1 L1609.2,218.2 L1609.3,218.4 L1609.4,218.7 L1609.5,219.1 L1609.6,219.7 L1609.7,220.6 L1609.8,221.7 L1610,223.1 L1610.2,224.8 L1610.3,226.9 L1610.5,229.4 L1610.7,232.2 L1610.9,235.4 L1611.2,239 L1611.4,243 L1611.7,247.2 L1611.9,251.6 L1612.2,256.3 L1612.5,261 L1612.8,265.8 L1613.1,270.6 L1613.5,275.4 L1613.8,280.1 L1614.2,284.7 L1614.5,289.1 L1614.9,293.3 L1615.3,297.4 L1615.7,301.3 L1616.1,305 L1616.6,308.5 L1617,311.9 L1617.5,315.1 L1617.9,318.1 L1618.4,320.9 L1618.9,323.6 L1619.4,326.2 L1620,328.6 L1620.5,330.9 L1621,333.1 L1621.6,335.2 L1622.2,337.2 L1622.8,339 L1623.4,340.8 L1624,342.5 L1624.6,344.1 L1625.2,345.6 L1625.9,347 L1626.5,348.4 L1627.2,349.6 L1627.9,350.9 L1628.6,352 L1629.3,353.1 L1630,354.1 L1630.8,355.1 L1631.5,356 L1632.3,356.9 L1633.1,357.7 L1633.9,358.5 L1634.7,359.2 L1635.5,359.9 L1636.3,360.5 L1637.1,361.1 L1638,361.7 L1638.9,362.3 L1639.7,362.8 L1640.6,363.3 L1641.5,363.8 L1642.4,364.2 L1643.4,364.6 L1644.3,365 L1645.3,365.4 L1646.2,365.7 L1647.2,366.1 L1648.2,366.4 L1649.2,366.7 L1650.2,366.9 L1651.3,367.2 L1652.3,367.5 L1653.4,367.7 L1654.4,367.9 L1655.5,368.2 L1656.6,368.4 L1657.7,368.6 L1658.8,368.7 L1660,368.9 L1661.1,369.1 L1662.3,369.2 L1663.4,369.4 L1664.6,369.5 L1665.8,369.7 L1667,369.8 L1668.3,369.9 L1669.5,370.1 L1670.7,370.2 L1672,370.3" fill="none" stroke="#555" stroke-width="2.6" stroke-linejoin="round" stroke-dasharray="7 4"/>
<path d="M1588.6,369.5 L1589.9,369.4 L1591.1,369.3 L1592.4,369.2 L1593.6,369.1 L1594.8,369 L1596,368.9 L1597.2,368.7 L1598.4,368.6 L1599.6,368.5 L1600.7,368.3 L1601.8,368.2 L1603,368 L1604.1,367.8 L1605.2,367.6 L1606.3,367.4 L1607.4,367.2 L1608.4,367 L1609.5,366.8 L1610.5,366.5 L1611.5,366.3 L1612.5,366 L1613.5,365.7 L1614.5,365.4 L1615.5,365.1 L1616.5,364.7 L1617.4,364.4 L1618.3,364 L1619.3,363.6 L1620.2,363.1 L1621.1,362.7 L1622,362.2 L1622.8,361.7 L1623.7,361.2 L1624.5,360.6 L1625.4,360 L1626.2,359.3 L1627,358.6 L1627.8,357.9 L1628.6,357.2 L1629.3,356.3 L1630.1,355.5 L1630.8,354.6 L1631.6,353.6 L1632.3,352.6 L1633,351.5 L1633.7,350.3 L1634.3,349.1 L1635,347.8 L1635.7,346.4 L1636.3,345 L1636.9,343.4 L1637.6,341.8 L1638.2,340.1 L1638.7,338.3 L1639.3,336.4 L1639.9,334.4 L1640.4,332.2 L1641,330 L1641.5,327.6 L1642,325.1 L1642.5,322.4 L1643,319.6 L1643.5,316.7 L1643.9,313.5 L1644.4,310.2 L1644.8,306.7 L1645.2,303 L1645.6,299.1 L1646,295.1 L1646.4,290.8 L1646.8,286.3 L1647.2,281.7 L1647.5,276.8 L1647.8,271.9 L1648.2,266.9 L1648.5,261.8 L1648.8,256.8 L1649,251.9 L1649.3,247.1 L1649.6,242.5 L1649.8,238.2 L1650,234.2 L1650.3,230.6 L1650.5,227.4 L1650.7,224.6 L1650.8,222.3 L1651,220.3 L1651.2,218.7 L1651.3,217.5 L1651.4,216.5 L1651.5,215.8 L1651.6,215.3 L1651.7,214.9 L1651.8,214.7 L1651.9,214.6 L1651.9,214.5 L1652,214.5 L1652,214.5 L1652,214.5 L1652,214.5 L1652,214.5 L1652,214.5 L1652.1,214.5 L1652.1,214.6 L1652.2,214.7 L1652.3,214.9 L1652.4,215.3 L1652.5,215.8 L1652.6,216.5 L1652.7,217.4 L1652.8,218.7 L1653,220.2 L1653.2,222.2 L1653.3,224.5 L1653.5,227.3 L1653.7,230.4 L1653.9,234 L1654.2,237.9 L1654.4,242.2 L1654.7,246.8 L1654.9,251.5 L1655.2,256.5 L1655.5,261.5 L1655.8,266.5 L1656.1,271.5 L1656.5,276.4 L1656.8,281.2 L1657.2,285.9 L1657.5,290.4 L1657.9,294.7 L1658.3,298.7 L1658.7,302.6 L1659.1,306.3 L1659.6,309.8 L1660,313.2 L1660.5,316.3 L1660.9,319.3 L1661.4,322.1 L1661.9,324.8 L1662.4,327.3 L1663,329.7 L1663.5,331.9 L1664,334.1 L1664.6,336.1 L1665.2,338 L1665.8,339.8 L1666.4,341.6 L1667,343.2 L1667.6,344.7 L1668.2,346.2 L1668.9,347.6 L1669.5,348.9 L1670.2,350.1 L1670.9,351.3 L1671.6,352.4 L1672.3,353.4 L1673,354.4 L1673.8,355.3 L1674.5,356.2 L1675.3,357 L1676.1,357.8 L1676.9,358.5 L1677.7,359.2 L1678.5,359.9 L1679.3,360.5 L1680.1,361 L1681,361.6 L1681.9,362.1 L1682.7,362.6 L1683.6,363.1 L1684.5,363.5 L1685.4,363.9 L1686.4,364.3 L1687.3,364.6 L1688.3,365 L1689.2,365.3 L1690.2,365.6 L1691.2,365.9 L1692.2,366.2 L1693.2,366.5 L1694.3,366.7 L1695.3,366.9 L1696.4,367.2 L1697.4,367.4 L1698.5,367.6 L1699.6,367.8 L1700.7,367.9 L1701.8,368.1 L1703,368.3 L1704.1,368.4 L1705.3,368.6 L1706.4,368.7 L1707.6,368.8 L1708.8,369 L1710,369.1 L1711.3,369.2 L1712.5,369.3 L1713.7,369.4 L1715,369.5" fill="none" stroke="#18a6c2" stroke-width="3.2" stroke-linejoin="round"/>
<line x1="1129" y1="372.5" x2="1732.5" y2="372.5" stroke="#111" stroke-width="2.2"/>
<path d="M1415,85 Q1330,30 1226.3,109.1" fill="none" stroke="url(#fa4)" stroke-width="4.2"/>
<path d="M1216,117 L1224.7,100.3 L1226.3,109.1 L1234.4,113Z" fill="#2a97b3"/>
<path d="M1446,83.5 Q1530,30 1633.7,109.1" fill="none" stroke="url(#fa5)" stroke-width="4.2"/>
<path d="M1644,117 L1625.6,113 L1633.7,109.1 L1635.3,100.3Z" fill="#2a97b3"/>
<line x1="1607.8" y1="391.6" x2="1652" y2="391.6" stroke="#333" stroke-width="1.8"/>
<line x1="1608.5" y1="384" x2="1608.5" y2="400" stroke="#333" stroke-width="1.8"/>
<line x1="1651.5" y1="384" x2="1651.5" y2="400" stroke="#333" stroke-width="1.8"/>
<text x="1621" y="424" font-size="25" fill="#111" text-anchor="start" font-style="italic" >J</text>
<text x="1358" y="414.5" font-size="27.5" fill="#111" text-anchor="start" textLength="132" lengthAdjust="spacingAndGlyphs" >Frequency</text>
<path d="M576.9,562.3 Q536,574 508,610" fill="none" stroke="#6a6a6a" stroke-width="4.6"/>
<path d="M496,627.5 L502.9,601.1 L507.8,612.6 L520.2,614.8Z" fill="#6a6a6a"/>
<path d="M765.4,562.3 Q806,574 834,610" fill="none" stroke="#6a6a6a" stroke-width="4.6"/>
<path d="M846,627.5 L821.8,614.8 L834.2,612.6 L839.1,601.1Z" fill="#6a6a6a"/>
<text x="538.6" y="619.3" font-size="26.5" fill="#111" text-anchor="start" textLength="61.3" lengthAdjust="spacingAndGlyphs" >CCW</text>
<text x="749.3" y="619.3" font-size="26.5" fill="#111" text-anchor="start" textLength="42.2" lengthAdjust="spacingAndGlyphs" >CW</text>
<path d="M600,559.6 L600.2,559.6 L600.3,559.6 L600.5,559.6 L600.7,559.6 L600.9,559.6 L601,559.6 L601.2,559.5 L601.4,559.5 L601.6,559.5 L601.7,559.5 L601.9,559.5 L602.1,559.4 L602.3,559.4 L602.4,559.4 L602.6,559.3 L602.8,559.3 L603,559.3 L603.1,559.2 L603.3,559.2 L603.5,559.2 L603.7,559.1 L603.8,559.1 L604,559 L604.2,559 L604.3,558.9 L604.5,558.9 L604.7,558.8 L604.9,558.8 L605,558.7 L605.2,558.7 L605.4,558.6 L605.6,558.5 L605.7,558.5 L605.9,558.4 L606.1,558.4 L606.3,558.3 L606.4,558.2 L606.6,558.2 L606.8,558.1 L607,558 L607.1,558 L607.3,557.9 L607.5,557.9 L607.7,557.8 L607.8,557.7 L608,557.7 L608.2,557.6 L608.4,557.6 L608.5,557.5 L608.7,557.4 L608.9,557.4 L609,557.3 L609.2,557.3 L609.4,557.2 L609.6,557.2 L609.7,557.1 L609.9,557.1 L610.1,557.1 L610.3,557 L610.4,557 L610.6,557 L610.8,556.9 L611,556.9 L611.1,556.9 L611.3,556.9 L611.5,556.9 L611.7,556.8 L611.8,556.8 L612,556.8 L612.2,556.8 L612.4,556.9 L612.5,556.9 L612.7,556.9 L612.9,556.9 L613,556.9 L613.2,557 L613.4,557 L613.6,557.1 L613.7,557.1 L613.9,557.2 L614.1,557.2 L614.3,557.3 L614.4,557.4 L614.6,557.5 L614.8,557.5 L615,557.6 L615.1,557.7 L615.3,557.8 L615.5,557.9 L615.7,558 L615.8,558.2 L616,558.3 L616.2,558.4 L616.4,558.5 L616.5,558.7 L616.7,558.8 L616.9,559 L617,559.1 L617.2,559.3 L617.4,559.4 L617.6,559.6 L617.7,559.7 L617.9,559.9 L618.1,560.1 L618.3,560.2 L618.4,560.4 L618.6,560.6 L618.8,560.8 L619,560.9 L619.1,561.1 L619.3,561.3 L619.5,561.5 L619.7,561.7 L619.8,561.8 L620,562 L620.2,562.2 L620.4,562.4 L620.5,562.5 L620.7,562.7 L620.9,562.9 L621.1,563 L621.2,563.2 L621.4,563.3 L621.6,563.5 L621.7,563.6 L621.9,563.7 L622.1,563.9 L622.3,564 L622.4,564.1 L622.6,564.2 L622.8,564.3 L623,564.4 L623.1,564.5 L623.3,564.6 L623.5,564.6 L623.7,564.7 L623.8,564.7 L624,564.8 L624.2,564.8 L624.4,564.8 L624.5,564.8 L624.7,564.8 L624.9,564.8 L625.1,564.7 L625.2,564.7 L625.4,564.6 L625.6,564.5 L625.7,564.5 L625.9,564.4 L626.1,564.3 L626.3,564.1 L626.4,564 L626.6,563.8 L626.8,563.7 L627,563.5 L627.1,563.3 L627.3,563.1 L627.5,562.9 L627.7,562.7 L627.8,562.4 L628,562.2 L628.2,561.9 L628.4,561.6 L628.5,561.3 L628.7,561 L628.9,560.7 L629.1,560.4 L629.2,560.1 L629.4,559.8 L629.6,559.4 L629.7,559.1 L629.9,558.7 L630.1,558.3 L630.3,558 L630.4,557.6 L630.6,557.2 L630.8,556.8 L631,556.4 L631.1,556 L631.3,555.6 L631.5,555.2 L631.7,554.8 L631.8,554.4 L632,554 L632.2,553.6 L632.4,553.2 L632.5,552.9 L632.7,552.5 L632.9,552.1 L633.1,551.7 L633.2,551.4 L633.4,551 L633.6,550.7 L633.7,550.3 L633.9,550 L634.1,549.7 L634.3,549.4 L634.4,549.1 L634.6,548.8 L634.8,548.5 L635,548.3 L635.1,548.1 L635.3,547.9 L635.5,547.7 L635.7,547.5 L635.8,547.3 L636,547.2 L636.2,547.1 L636.4,547 L636.5,546.9 L636.7,546.9 L636.9,546.9 L637.1,546.9 L637.2,546.9 L637.4,546.9 L637.6,547 L637.8,547.1 L637.9,547.2 L638.1,547.3 L638.3,547.5 L638.4,547.7 L638.6,547.9 L638.8,548.2 L639,548.4 L639.1,548.7 L639.3,549 L639.5,549.4 L639.7,549.7 L639.8,550.1 L640,550.5 L640.2,551 L640.4,551.4 L640.5,551.9 L640.7,552.4 L640.9,552.9 L641.1,553.4 L641.2,554 L641.4,554.6 L641.6,555.2 L641.8,555.8 L641.9,556.4 L642.1,557 L642.3,557.7 L642.4,558.3 L642.6,559 L642.8,559.7 L643,560.4 L643.1,561 L643.3,561.7 L643.5,562.4 L643.7,563.1 L643.8,563.8 L644,564.6 L644.2,565.3 L644.4,566 L644.5,566.7 L644.7,567.3 L644.9,568 L645.1,568.7 L645.2,569.4 L645.4,570 L645.6,570.7 L645.8,571.3 L645.9,571.9 L646.1,572.5 L646.3,573.1 L646.4,573.6 L646.6,574.2 L646.8,574.7 L647,575.1 L647.1,575.6 L647.3,576 L647.5,576.5 L647.7,576.8 L647.8,577.2 L648,577.5 L648.2,577.8 L648.4,578 L648.5,578.3 L648.7,578.4 L648.9,578.6 L649.1,578.7 L649.2,578.8 L649.4,578.8 L649.6,578.8 L649.8,578.8 L649.9,578.7 L650.1,578.6 L650.3,578.5 L650.5,578.3 L650.6,578.1 L650.8,577.8 L651,577.5 L651.1,577.2 L651.3,576.8 L651.5,576.4 L651.7,576 L651.8,575.5 L652,575 L652.2,574.4 L652.4,573.8 L652.5,573.2 L652.7,572.6 L652.9,571.9 L653.1,571.2 L653.2,570.4 L653.4,569.7 L653.6,568.9 L653.8,568.1 L653.9,567.2 L654.1,566.4 L654.3,565.5 L654.5,564.6 L654.6,563.7 L654.8,562.7 L655,561.8 L655.1,560.8 L655.3,559.9 L655.5,558.9 L655.7,557.9 L655.8,556.9 L656,555.9 L656.2,554.9 L656.4,553.9 L656.5,553 L656.7,552 L656.9,551 L657.1,550 L657.2,549.1 L657.4,548.1 L657.6,547.2 L657.8,546.3 L657.9,545.4 L658.1,544.5 L658.3,543.7 L658.5,542.9 L658.6,542.1 L658.8,541.3 L659,540.6 L659.1,539.9 L659.3,539.2 L659.5,538.5 L659.7,537.9 L659.8,537.4 L660,536.8 L660.2,536.3 L660.4,535.9 L660.5,535.5 L660.7,535.1 L660.9,534.8 L661.1,534.5 L661.2,534.2 L661.4,534 L661.6,533.9 L661.8,533.8 L661.9,533.7 L662.1,533.7 L662.3,533.8 L662.5,533.8 L662.6,534 L662.8,534.2 L663,534.4 L663.2,534.7 L663.3,535 L663.5,535.3 L663.7,535.7 L663.8,536.2 L664,536.7 L664.2,537.2 L664.4,537.8 L664.5,538.4 L664.7,539.1 L664.9,539.8 L665.1,540.5 L665.2,541.3 L665.4,542.1 L665.6,542.9 L665.8,543.8 L665.9,544.7 L666.1,545.6 L666.3,546.6 L666.5,547.5 L666.6,548.5 L666.8,549.6 L667,550.6 L667.2,551.6 L667.3,552.7 L667.5,553.8 L667.7,554.9 L667.8,556 L668,557.1 L668.2,558.2 L668.4,559.3 L668.5,560.4 L668.7,561.5 L668.9,562.6 L669.1,563.7 L669.2,564.8 L669.4,565.8 L669.6,566.9 L669.8,567.9 L669.9,568.9 L670.1,569.9 L670.3,570.9 L670.5,571.9 L670.6,572.8 L670.8,573.7 L671,574.6 L671.2,575.4 L671.3,576.3 L671.5,577 L671.7,577.8 L671.8,578.5 L672,579.2 L672.2,579.8 L672.4,580.4 L672.5,581 L672.7,581.5 L672.9,581.9 L673.1,582.4 L673.2,582.7 L673.4,583.1 L673.6,583.4 L673.8,583.6 L673.9,583.8 L674.1,584 L674.3,584.1 L674.5,584.1 L674.6,584.1 L674.8,584.1 L675,584 L675.2,583.9 L675.3,583.7 L675.5,583.5 L675.7,583.2 L675.8,582.9 L676,582.5 L676.2,582.2 L676.4,581.7 L676.5,581.2 L676.7,580.7 L676.9,580.2 L677.1,579.6 L677.2,579 L677.4,578.3 L677.6,577.6 L677.8,576.9 L677.9,576.1 L678.1,575.4 L678.3,574.6 L678.5,573.7 L678.6,572.9 L678.8,572 L679,571.1 L679.2,570.2 L679.3,569.3 L679.5,568.3 L679.7,567.4 L679.9,566.4 L680,565.5 L680.2,564.5 L680.4,563.5 L680.5,562.5 L680.7,561.5 L680.9,560.6 L681.1,559.6 L681.2,558.6 L681.4,557.7 L681.6,556.7 L681.8,555.8 L681.9,554.8 L682.1,553.9 L682.3,553 L682.5,552.2 L682.6,551.3 L682.8,550.5 L683,549.6 L683.2,548.9 L683.3,548.1 L683.5,547.4 L683.7,546.6 L683.9,546 L684,545.3 L684.2,544.7 L684.4,544.1 L684.5,543.5 L684.7,543 L684.9,542.5 L685.1,542.1 L685.2,541.7 L685.4,541.3 L685.6,540.9 L685.8,540.6 L685.9,540.4 L686.1,540.1 L686.3,539.9 L686.5,539.8 L686.6,539.7 L686.8,539.6 L687,539.5 L687.2,539.5 L687.3,539.6 L687.5,539.6 L687.7,539.7 L687.9,539.9 L688,540 L688.2,540.2 L688.4,540.5 L688.5,540.7 L688.7,541 L688.9,541.4 L689.1,541.7 L689.2,542.1 L689.4,542.5 L689.6,543 L689.8,543.4 L689.9,543.9 L690.1,544.4 L690.3,545 L690.5,545.5 L690.6,546.1 L690.8,546.7 L691,547.3 L691.2,547.9 L691.3,548.6 L691.5,549.2 L691.7,549.9 L691.9,550.5 L692,551.2 L692.2,551.9 L692.4,552.6 L692.6,553.2 L692.7,553.9 L692.9,554.6 L693.1,555.3 L693.2,556 L693.4,556.7 L693.6,557.4 L693.8,558 L693.9,558.7 L694.1,559.3 L694.3,560 L694.5,560.6 L694.6,561.2 L694.8,561.9 L695,562.5 L695.2,563 L695.3,563.6 L695.5,564.1 L695.7,564.7 L695.9,565.2 L696,565.7 L696.2,566.1 L696.4,566.6 L696.6,567 L696.7,567.4 L696.9,567.8 L697.1,568.2 L697.2,568.5 L697.4,568.8 L697.6,569.1 L697.8,569.4 L697.9,569.6 L698.1,569.9 L698.3,570.1 L698.5,570.2 L698.6,570.4 L698.8,570.5 L699,570.6 L699.2,570.7 L699.3,570.7 L699.5,570.8 L699.7,570.8 L699.9,570.8 L700,570.7 L700.2,570.7 L700.4,570.6 L700.6,570.5 L700.7,570.4 L700.9,570.2 L701.1,570 L701.2,569.9 L701.4,569.7 L701.6,569.5 L701.8,569.2 L701.9,569 L702.1,568.7 L702.3,568.4 L702.5,568.2 L702.6,567.9 L702.8,567.5 L703,567.2 L703.2,566.9 L703.3,566.6 L703.5,566.2 L703.7,565.8 L703.9,565.5 L704,565.1 L704.2,564.7 L704.4,564.4 L704.6,564 L704.7,563.6 L704.9,563.2 L705.1,562.8 L705.3,562.4 L705.4,562.1 L705.6,561.7 L705.8,561.3 L705.9,560.9 L706.1,560.6 L706.3,560.2 L706.5,559.8 L706.6,559.5 L706.8,559.1 L707,558.8 L707.2,558.4 L707.3,558.1 L707.5,557.8 L707.7,557.5 L707.9,557.2 L708,556.9 L708.2,556.6 L708.4,556.3 L708.6,556.1 L708.7,555.8 L708.9,555.6 L709.1,555.4 L709.3,555.2 L709.4,555 L709.6,554.8 L709.8,554.6 L709.9,554.4 L710.1,554.3 L710.3,554.1 L710.5,554 L710.6,553.9 L710.8,553.8 L711,553.7 L711.2,553.6 L711.3,553.6 L711.5,553.5 L711.7,553.5 L711.9,553.5 L712,553.5 L712.2,553.4 L712.4,553.5 L712.6,553.5 L712.7,553.5 L712.9,553.5 L713.1,553.6 L713.3,553.6 L713.4,553.7 L713.6,553.8 L713.8,553.9 L713.9,554 L714.1,554.1 L714.3,554.2 L714.5,554.3 L714.6,554.4 L714.8,554.5 L715,554.7 L715.2,554.8 L715.3,554.9 L715.5,555.1 L715.7,555.2 L715.9,555.4 L716,555.6 L716.2,555.7 L716.4,555.9 L716.6,556.1 L716.7,556.2 L716.9,556.4 L717.1,556.6 L717.3,556.7 L717.4,556.9 L717.6,557.1 L717.8,557.2 L717.9,557.4 L718.1,557.6 L718.3,557.7 L718.5,557.9 L718.6,558.1 L718.8,558.2 L719,558.4 L719.2,558.5 L719.3,558.7 L719.5,558.8 L719.7,559 L719.9,559.1 L720,559.2 L720.2,559.4 L720.4,559.5 L720.6,559.6 L720.7,559.7 L720.9,559.9 L721.1,560 L721.3,560.1 L721.4,560.2 L721.6,560.3 L721.8,560.3 L722,560.4 L722.1,560.5 L722.3,560.6 L722.5,560.6 L722.6,560.7 L722.8,560.8 L723,560.8 L723.2,560.9 L723.3,560.9 L723.5,560.9 L723.7,561 L723.9,561 L724,561 L724.2,561 L724.4,561 L724.6,561 L724.7,561 L724.9,561 L725.1,561 L725.3,561 L725.4,561 L725.6,561 L725.8,561 L726,560.9 L726.1,560.9 L726.3,560.9 L726.5,560.9 L726.6,560.8 L726.8,560.8 L727,560.7 L727.2,560.7 L727.3,560.6 L727.5,560.6 L727.7,560.5 L727.9,560.5 L728,560.4 L728.2,560.4 L728.4,560.3 L728.6,560.3 L728.7,560.2 L728.9,560.2 L729.1,560.1 L729.3,560 L729.4,560 L729.6,559.9 L729.8,559.9 L730,559.8 L730.1,559.7 L730.3,559.7 L730.5,559.6 L730.6,559.6 L730.8,559.5 L731,559.5 L731.2,559.4 L731.3,559.3 L731.5,559.3 L731.7,559.2 L731.9,559.2 L732,559.1 L732.2,559.1 L732.4,559 L732.6,559 L732.7,559 L732.9,558.9 L733.1,558.9 L733.3,558.8 L733.4,558.8 L733.6,558.8 L733.8,558.7 L734,558.7 L734.1,558.7 L734.3,558.6 L734.5,558.6 L734.7,558.6 L734.8,558.6 L735,558.5 L735.2,558.5 L735.3,558.5 L735.5,558.5 L735.7,558.5 L735.9,558.5 L736,558.5 L736.2,558.4 L736.4,558.4 L736.6,558.4 L736.7,558.4 L736.9,558.4 L737.1,558.4 L737.3,558.4 L737.4,558.4 L737.6,558.4 L737.8,558.4 L738,558.4 L738.1,558.4 L738.3,558.4 L738.5,558.4 L738.7,558.4 L738.8,558.5 L739,558.5" fill="none" stroke="url(#wpg)" stroke-width="3.3" stroke-linecap="round"/>
<path d="M595.3,557.9 L609,553.9 L605.2,559.4 L607.3,565.8Z" fill="#8b1a7e"/>
<path d="M742.8,558.8 L730.1,565.4 L732.8,559.3 L729.5,553.5Z" fill="#18a8c2"/>
<text x="631.6" y="795.5" font-size="28" fill="#111" textLength="76.8" lengthAdjust="spacingAndGlyphs">2π<tspan font-style="italic">R</tspan>/<tspan font-style="italic">N</tspan></text>
<line x1="642" y1="814" x2="695" y2="814" stroke="#465870" stroke-width="2.5"/>
<path d="M630.5,814 L643.5,808 L640.5,814 L643.5,820Z" fill="#465870"/>
<path d="M706.4,814 L693.4,820 L696.4,814 L693.4,808Z" fill="#465870"/>
<circle cx="673.5" cy="988" r="115.5" fill="#ffffff"/>
<g clip-path="url(#magclip)"><ellipse cx="680" cy="1002" rx="72" ry="30" fill="#efddd4" opacity="0.7" filter="url(#blur12)"/><ellipse cx="560" cy="1000" rx="28" ry="48" fill="#cfe8ea" opacity="0.9" filter="url(#blur12)"/><ellipse cx="788" cy="1000" rx="28" ry="48" fill="#cfe8ea" opacity="0.9" filter="url(#blur12)"/></g>
<path d="M558.5,986.1 L558.7,987.4 L558.9,988.7 L559.1,989.9 L559.3,991.1 L559.4,992.3 L559.6,993.4 L559.8,994.5 L560,995.5 L560.2,996.5 L560.4,997.4 L560.6,998.3 L560.8,999.1 L561,999.8 L561.2,1000.5 L561.3,1001.2 L561.5,1001.7 L561.7,1002.3 L561.9,1002.7 L562.1,1003.1 L562.3,1003.4 L562.5,1003.6 L562.7,1003.8 L562.9,1003.9 L563.1,1004 L563.2,1004 L563.4,1003.9 L563.6,1003.7 L563.8,1003.5 L564,1003.2 L564.2,1002.9 L564.4,1002.5 L564.6,1002 L564.8,1001.5 L565,1000.8 L565.1,1000.2 L565.3,999.5 L565.5,998.7 L565.7,997.8 L565.9,996.9 L566.1,996 L566.3,995 L566.5,993.9 L566.7,992.9 L566.8,991.7 L567,990.5 L567.2,989.3 L567.4,988.1 L567.6,986.8 L567.8,985.4 L568,984.1 L568.2,982.7 L568.4,981.3 L568.6,979.9 L568.7,978.4 L568.9,977 L569.1,975.5 L569.3,974 L569.5,972.5 L569.7,971 L569.9,969.6 L570.1,968.1 L570.3,966.6 L570.5,965.1 L570.6,963.7 L570.8,962.2 L571,960.8 L571.2,959.4 L571.4,958 L571.6,956.6 L571.8,955.3 L572,954 L572.2,952.8 L572.4,951.5 L572.5,950.3 L572.7,949.2 L572.9,948.1 L573.1,947.1 L573.3,946.1 L573.5,945.1 L573.7,944.2 L573.9,943.4 L574.1,942.6 L574.2,941.9 L574.4,941.2 L574.6,940.6 L574.8,940 L575,939.5 L575.2,939.1 L575.4,938.8 L575.6,938.5 L575.8,938.3 L576,938.1 L576.1,938 L576.3,938 L576.5,938 L576.7,938.2 L576.9,938.3 L577.1,938.6 L577.3,938.9 L577.5,939.3 L577.7,939.7 L577.9,940.2 L578,940.8 L578.2,941.4 L578.4,942.1 L578.6,942.9 L578.8,943.7 L579,944.5 L579.2,945.5 L579.4,946.4 L579.6,947.5 L579.8,948.5 L579.9,949.6 L580.1,950.8 L580.3,952 L580.5,953.2 L580.7,954.5 L580.9,955.8 L581.1,957.1 L581.3,958.5 L581.5,959.9 L581.6,961.3 L581.8,962.7 L582,964.2 L582.2,965.7 L582.4,967.1 L582.6,968.6 L582.8,970.1 L583,971.6 L583.2,973.1 L583.4,974.6 L583.5,976.1 L583.7,977.5 L583.9,979 L584.1,980.4 L584.3,981.8 L584.5,983.2 L584.7,984.6 L584.9,985.9 L585.1,987.3 L585.3,988.5 L585.4,989.8 L585.6,991 L585.8,992.1 L586,993.3 L586.2,994.3 L586.4,995.4 L586.6,996.4 L586.8,997.3 L587,998.2 L587.2,999 L587.3,999.7 L587.5,1000.4 L587.7,1001.1 L587.9,1001.7 L588.1,1002.2 L588.3,1002.6 L588.5,1003 L588.7,1003.4 L588.9,1003.6 L589,1003.8 L589.2,1003.9 L589.4,1004 L589.6,1004 L589.8,1003.9 L590,1003.8 L590.2,1003.6 L590.4,1003.3 L590.6,1002.9 L590.8,1002.5 L590.9,1002.1 L591.1,1001.5 L591.3,1000.9 L591.5,1000.3 L591.7,999.6 L591.9,998.8 L592.1,998 L592.3,997.1 L592.5,996.1 L592.7,995.1 L592.8,994.1 L593,993 L593.2,991.9 L593.4,990.7 L593.6,989.5 L593.8,988.2 L594,986.9 L594.2,985.6 L594.4,984.3 L594.6,982.9 L594.7,981.5 L594.9,980.1 L595.1,978.6 L595.3,977.2 L595.5,975.7 L595.7,974.2 L595.9,972.7 L596.1,971.2 L596.3,969.8 L596.4,968.3 L596.6,966.8 L596.8,965.3 L597,963.9 L597.2,962.4 L597.4,961 L597.6,959.6 L597.8,958.2 L598,956.8 L598.2,955.5 L598.3,954.2 L598.5,952.9 L598.7,951.7 L598.9,950.5 L599.1,949.4 L599.3,948.3 L599.5,947.2 L599.7,946.2 L599.9,945.2 L600.1,944.3 L600.2,943.5 L600.4,942.7 L600.6,942 L600.8,941.3 L601,940.7 L601.2,940.1 L601.4,939.6 L601.6,939.2 L601.8,938.8 L602,938.5 L602.1,938.3 L602.3,938.1 L602.5,938 L602.7,938 L602.9,938 L603.1,938.1 L603.3,938.3 L603.5,938.6 L603.7,938.9 L603.8,939.2 L604,939.7 L604.2,940.2 L604.4,940.7 L604.6,941.3 L604.8,942 L605,942.8 L605.2,943.6 L605.4,944.4 L605.6,945.3 L605.7,946.3 L605.9,947.3 L606.1,948.4 L606.3,949.5 L606.5,950.6 L606.7,951.8 L606.9,953.1 L607.1,954.3 L607.3,955.6 L607.5,957 L607.6,958.3 L607.8,959.7 L608,961.1 L608.2,962.6 L608.4,964 L608.6,965.5 L608.8,966.9 L609,968.4 L609.2,969.9 L609.4,971.4 L609.5,972.9 L609.7,974.4 L609.9,975.9 L610.1,977.3 L610.3,978.8 L610.5,980.2 L610.7,981.6 L610.9,983 L611.1,984.4 L611.2,985.8 L611.4,987.1 L611.6,988.4 L611.8,989.6 L612,990.8 L612.2,992 L612.4,993.1 L612.6,994.2 L612.8,995.2 L613,996.2 L613.1,997.2 L613.3,998 L613.5,998.9 L613.7,999.6 L613.9,1000.3 L614.1,1001 L614.3,1001.6 L614.5,1002.1 L614.7,1002.6 L614.9,1003 L615,1003.3 L615.2,1003.6 L615.4,1003.8 L615.6,1003.9 L615.8,1004 L616,1004 L616.2,1003.9 L616.4,1003.8 L616.6,1003.6 L616.8,1003.3 L616.9,1003 L617.1,1002.6 L617.3,1002.1 L617.5,1001.6 L617.7,1001 L617.9,1000.4 L618.1,999.7 L618.3,998.9 L618.5,998.1 L618.6,997.2 L618.8,996.3 L619,995.3 L619.2,994.2 L619.4,993.2 L619.6,992 L619.8,990.9 L620,989.7 L620.2,988.4 L620.4,987.1 L620.5,985.8 L620.7,984.5 L620.9,983.1 L621.1,981.7 L621.3,980.3 L621.5,978.8 L621.7,977.4 L621.9,975.9 L622.1,974.4 L622.3,972.9 L622.4,971.4 L622.6,970 L622.8,968.5 L623,967 L623.2,965.5 L623.4,964.1 L623.6,962.6 L623.8,961.2 L624,959.8 L624.2,958.4 L624.3,957 L624.5,955.7 L624.7,954.4 L624.9,953.1 L625.1,951.9 L625.3,950.7 L625.5,949.5 L625.7,948.4 L625.9,947.3 L626,946.3 L626.2,945.4 L626.4,944.5 L626.6,943.6 L626.8,942.8 L627,942 L627.2,941.4 L627.4,940.7 L627.6,940.2 L627.8,939.7 L627.9,939.2 L628.1,938.9 L628.3,938.6 L628.5,938.3 L628.7,938.1 L628.9,938 L629.1,938 L629.3,938 L629.5,938.1 L629.7,938.3 L629.8,938.5 L630,938.8 L630.2,939.2 L630.4,939.6 L630.6,940.1 L630.8,940.6 L631,941.3 L631.2,941.9 L631.4,942.7 L631.6,943.5 L631.7,944.3 L631.9,945.2 L632.1,946.2 L632.3,947.2 L632.5,948.2 L632.7,949.3 L632.9,950.5 L633.1,951.7 L633.3,952.9 L633.4,954.1 L633.6,955.4 L633.8,956.8 L634,958.1 L634.2,959.5 L634.4,960.9 L634.6,962.4 L634.8,963.8 L635,965.3 L635.2,966.7 L635.3,968.2 L635.5,969.7 L635.7,971.2 L635.9,972.7 L636.1,974.2 L636.3,975.6 L636.5,977.1 L636.7,978.6 L636.9,980 L637.1,981.4 L637.2,982.8 L637.4,984.2 L637.6,985.6 L637.8,986.9 L638,988.2 L638.2,989.4 L638.4,990.7 L638.6,991.8 L638.8,993 L639,994.1 L639.1,995.1 L639.3,996.1 L639.5,997 L639.7,997.9 L639.9,998.8 L640.1,999.5 L640.3,1000.3 L640.5,1000.9 L640.7,1001.5 L640.8,1002 L641,1002.5 L641.2,1002.9 L641.4,1003.3 L641.6,1003.6 L641.8,1003.8 L642,1003.9 L642.2,1004 L642.4,1004 L642.6,1003.9 L642.7,1003.8 L642.9,1003.6 L643.1,1003.4 L643.3,1003 L643.5,1002.7 L643.7,1002.2 L643.9,1001.7 L644.1,1001.1 L644.3,1000.5 L644.5,999.8 L644.6,999 L644.8,998.2 L645,997.3 L645.2,996.4 L645.4,995.4 L645.6,994.4 L645.8,993.3 L646,992.2 L646.2,991 L646.4,989.8 L646.5,988.6 L646.7,987.3 L646.9,986 L647.1,984.6 L647.3,983.3 L647.5,981.9 L647.7,980.5 L647.9,979 L648.1,977.6 L648.2,976.1 L648.4,974.6 L648.6,973.1 L648.8,971.7 L649,970.2 L649.2,968.7 L649.4,967.2 L649.6,965.7 L649.8,964.2 L650,962.8 L650.1,961.4 L650.3,959.9 L650.5,958.6 L650.7,957.2 L650.9,955.9 L651.1,954.5 L651.3,953.3 L651.5,952 L651.7,950.8 L651.9,949.7 L652,948.6 L652.2,947.5 L652.4,946.5 L652.6,945.5 L652.8,944.6 L653,943.7 L653.2,942.9 L653.4,942.1 L653.6,941.5 L653.8,940.8 L653.9,940.2 L654.1,939.7 L654.3,939.3 L654.5,938.9 L654.7,938.6 L654.9,938.3 L655.1,938.2 L655.3,938.1 L655.5,938 L655.6,938 L655.8,938.1 L656,938.3 L656.2,938.5 L656.4,938.8 L656.6,939.1 L656.8,939.5 L657,940 L657.2,940.6 L657.4,941.2 L657.5,941.8 L657.7,942.6 L657.9,943.3 L658.1,944.2 L658.3,945.1 L658.5,946 L658.7,947 L658.9,948.1 L659.1,949.2 L659.3,950.3 L659.4,951.5 L659.6,952.7 L659.8,954 L660,955.3 L660.2,956.6 L660.4,957.9 L660.6,959.3 L660.8,960.7 L661,962.2 L661.2,963.6 L661.3,965.1 L661.5,966.5 L661.7,968 L661.9,969.5 L662.1,971 L662.3,972.5 L662.5,974 L662.7,975.4 L662.9,976.9 L663,978.4 L663.2,979.8 L663.4,981.3 L663.6,982.7 L663.8,984 L664,985.4 L664.2,986.7 L664.4,988 L664.6,989.3 L664.8,990.5 L664.9,991.7 L665.1,992.8 L665.3,993.9 L665.5,995 L665.7,996 L665.9,996.9 L666.1,997.8 L666.3,998.6 L666.5,999.4 L666.7,1000.2 L666.8,1000.8 L667,1001.4 L667.2,1002 L667.4,1002.5 L667.6,1002.9 L667.8,1003.2 L668,1003.5 L668.2,1003.7 L668.4,1003.9 L668.6,1004 L668.7,1004 L668.9,1004 L669.1,1003.8 L669.3,1003.7 L669.5,1003.4 L669.7,1003.1 L669.9,1002.7 L670.1,1002.3 L670.3,1001.8 L670.4,1001.2 L670.6,1000.6 L670.8,999.9 L671,999.1 L671.2,998.3 L671.4,997.4 L671.6,996.5 L671.8,995.5 L672,994.5 L672.2,993.5 L672.3,992.3 L672.5,991.2 L672.7,990 L672.9,988.7 L673.1,987.5 L673.3,986.2 L673.5,984.8 L673.7,983.5 L673.9,982.1 L674.1,980.7 L674.2,979.2 L674.4,977.8 L674.6,976.3 L674.8,974.8 L675,973.3 L675.2,971.9 L675.4,970.4 L675.6,968.9 L675.8,967.4 L675.9,965.9 L676.1,964.4 L676.3,963 L676.5,961.6 L676.7,960.1 L676.9,958.7 L677.1,957.4 L677.3,956 L677.5,954.7 L677.7,953.4 L677.8,952.2 L678,951 L678.2,949.8 L678.4,948.7 L678.6,947.6 L678.8,946.6 L679,945.6 L679.2,944.7 L679.4,943.8 L679.6,943 L679.7,942.2 L679.9,941.5 L680.1,940.9 L680.3,940.3 L680.5,939.8 L680.7,939.4 L680.9,939 L681.1,938.6 L681.3,938.4 L681.5,938.2 L681.6,938.1 L681.8,938 L682,938 L682.2,938.1 L682.4,938.2 L682.6,938.4 L682.8,938.7 L683,939.1 L683.2,939.5 L683.3,939.9 L683.5,940.5 L683.7,941.1 L683.9,941.7 L684.1,942.5 L684.3,943.2 L684.5,944.1 L684.7,945 L684.9,945.9 L685.1,946.9 L685.2,947.9 L685.4,949 L685.6,950.2 L685.8,951.3 L686,952.5 L686.2,953.8 L686.4,955.1 L686.6,956.4 L686.8,957.8 L687,959.1 L687.1,960.5 L687.3,962 L687.5,963.4 L687.7,964.9 L687.9,966.3 L688.1,967.8 L688.3,969.3 L688.5,970.8 L688.7,972.3 L688.9,973.8 L689,975.2 L689.2,976.7 L689.4,978.2 L689.6,979.6 L689.8,981.1 L690,982.5 L690.2,983.9 L690.4,985.2 L690.6,986.5 L690.7,987.8 L690.9,989.1 L691.1,990.3 L691.3,991.5 L691.5,992.7 L691.7,993.8 L691.9,994.8 L692.1,995.8 L692.3,996.8 L692.5,997.7 L692.6,998.5 L692.8,999.3 L693,1000.1 L693.2,1000.7 L693.4,1001.4 L693.6,1001.9 L693.8,1002.4 L694,1002.8 L694.2,1003.2 L694.4,1003.5 L694.5,1003.7 L694.7,1003.9 L694.9,1004 L695.1,1004 L695.3,1004 L695.5,1003.9 L695.7,1003.7 L695.9,1003.4 L696.1,1003.1 L696.3,1002.8 L696.4,1002.3 L696.6,1001.8 L696.8,1001.3 L697,1000.6 L697.2,1000 L697.4,999.2 L697.6,998.4 L697.8,997.6 L698,996.6 L698.1,995.7 L698.3,994.7 L698.5,993.6 L698.7,992.5 L698.9,991.3 L699.1,990.2 L699.3,988.9 L699.5,987.7 L699.7,986.3 L699.9,985 L700,983.6 L700.2,982.3 L700.4,980.8 L700.6,979.4 L700.8,978 L701,976.5 L701.2,975 L701.4,973.5 L701.6,972.1 L701.8,970.6 L701.9,969.1 L702.1,967.6 L702.3,966.1 L702.5,964.6 L702.7,963.2 L702.9,961.8 L703.1,960.3 L703.3,958.9 L703.5,957.6 L703.7,956.2 L703.8,954.9 L704,953.6 L704.2,952.4 L704.4,951.2 L704.6,950 L704.8,948.9 L705,947.8 L705.2,946.7 L705.4,945.8 L705.5,944.8 L705.7,943.9 L705.9,943.1 L706.1,942.3 L706.3,941.6 L706.5,941 L706.7,940.4 L706.9,939.9 L707.1,939.4 L707.3,939 L707.4,938.7 L707.6,938.4 L707.8,938.2 L708,938.1 L708.2,938 L708.4,938 L708.6,938.1 L708.8,938.2 L709,938.4 L709.2,938.7 L709.3,939 L709.5,939.4 L709.7,939.9 L709.9,940.4 L710.1,941 L710.3,941.6 L710.5,942.4 L710.7,943.1 L710.9,943.9 L711.1,944.8 L711.2,945.8 L711.4,946.7 L711.6,947.8 L711.8,948.9 L712,950 L712.2,951.2 L712.4,952.4 L712.6,953.6 L712.8,954.9 L712.9,956.2 L713.1,957.6 L713.3,958.9 L713.5,960.3 L713.7,961.8 L713.9,963.2 L714.1,964.7 L714.3,966.1 L714.5,967.6 L714.7,969.1 L714.8,970.6 L715,972.1 L715.2,973.6 L715.4,975 L715.6,976.5 L715.8,978 L716,979.4 L716.2,980.9 L716.4,982.3 L716.6,983.7 L716.7,985 L716.9,986.4 L717.1,987.7 L717.3,988.9 L717.5,990.2 L717.7,991.4 L717.9,992.5 L718.1,993.6 L718.3,994.7 L718.5,995.7 L718.6,996.7 L718.8,997.6 L719,998.4 L719.2,999.2 L719.4,1000 L719.6,1000.7 L719.8,1001.3 L720,1001.8 L720.2,1002.3 L720.3,1002.8 L720.5,1003.1 L720.7,1003.4 L720.9,1003.7 L721.1,1003.9 L721.3,1004 L721.5,1004 L721.7,1004 L721.9,1003.9 L722.1,1003.7 L722.2,1003.5 L722.4,1003.2 L722.6,1002.8 L722.8,1002.4 L723,1001.9 L723.2,1001.3 L723.4,1000.7 L723.6,1000.1 L723.8,999.3 L724,998.5 L724.1,997.7 L724.3,996.8 L724.5,995.8 L724.7,994.8 L724.9,993.8 L725.1,992.7 L725.3,991.5 L725.5,990.3 L725.7,989.1 L725.9,987.8 L726,986.5 L726.2,985.2 L726.4,983.8 L726.6,982.5 L726.8,981 L727,979.6 L727.2,978.2 L727.4,976.7 L727.6,975.2 L727.7,973.8 L727.9,972.3 L728.1,970.8 L728.3,969.3 L728.5,967.8 L728.7,966.3 L728.9,964.8 L729.1,963.4 L729.3,961.9 L729.5,960.5 L729.6,959.1 L729.8,957.7 L730,956.4 L730.2,955.1 L730.4,953.8 L730.6,952.5 L730.8,951.3 L731,950.1 L731.2,949 L731.4,947.9 L731.5,946.9 L731.7,945.9 L731.9,944.9 L732.1,944.1 L732.3,943.2 L732.5,942.4 L732.7,941.7 L732.9,941.1 L733.1,940.5 L733.3,939.9 L733.4,939.5 L733.6,939.1 L733.8,938.7 L734,938.4 L734.2,938.2 L734.4,938.1 L734.6,938 L734.8,938 L735,938.1 L735.1,938.2 L735.3,938.4 L735.5,938.6 L735.7,939 L735.9,939.4 L736.1,939.8 L736.3,940.3 L736.5,940.9 L736.7,941.6 L736.9,942.3 L737,943 L737.2,943.8 L737.4,944.7 L737.6,945.6 L737.8,946.6 L738,947.6 L738.2,948.7 L738.4,949.8 L738.6,951 L738.8,952.2 L738.9,953.5 L739.1,954.7 L739.3,956 L739.5,957.4 L739.7,958.8 L739.9,960.2 L740.1,961.6 L740.3,963 L740.5,964.5 L740.7,965.9 L740.8,967.4 L741,968.9 L741.2,970.4 L741.4,971.9 L741.6,973.4 L741.8,974.8 L742,976.3 L742.2,977.8 L742.4,979.2 L742.5,980.7 L742.7,982.1 L742.9,983.5 L743.1,984.8 L743.3,986.2 L743.5,987.5 L743.7,988.8 L743.9,990 L744.1,991.2 L744.3,992.4 L744.4,993.5 L744.6,994.5 L744.8,995.6 L745,996.5 L745.2,997.4 L745.4,998.3 L745.6,999.1 L745.8,999.9 L746,1000.6 L746.2,1001.2 L746.3,1001.8 L746.5,1002.3 L746.7,1002.7 L746.9,1003.1 L747.1,1003.4 L747.3,1003.7 L747.5,1003.8 L747.7,1004 L747.9,1004 L748.1,1004 L748.2,1003.9 L748.4,1003.7 L748.6,1003.5 L748.8,1003.2 L749,1002.9 L749.2,1002.5 L749.4,1002 L749.6,1001.4 L749.8,1000.8 L749.9,1000.2 L750.1,999.4 L750.3,998.6 L750.5,997.8 L750.7,996.9 L750.9,996 L751.1,995 L751.3,993.9 L751.5,992.8 L751.7,991.7 L751.8,990.5 L752,989.3 L752.2,988 L752.4,986.7 L752.6,985.4 L752.8,984 L753,982.6 L753.2,981.2 L753.4,979.8 L753.6,978.4 L753.7,976.9 L753.9,975.4 L754.1,974 L754.3,972.5 L754.5,971 L754.7,969.5 L754.9,968 L755.1,966.5 L755.3,965 L755.5,963.6 L755.6,962.1 L755.8,960.7 L756,959.3 L756.2,957.9 L756.4,956.6 L756.6,955.3 L756.8,954 L757,952.7 L757.2,951.5 L757.3,950.3 L757.5,949.2 L757.7,948.1 L757.9,947 L758.1,946 L758.3,945.1 L758.5,944.2 L758.7,943.3 L758.9,942.6 L759.1,941.8 L759.2,941.2 L759.4,940.6 L759.6,940 L759.8,939.5 L760,939.1 L760.2,938.8 L760.4,938.5 L760.6,938.3 L760.8,938.1 L761,938 L761.1,938 L761.3,938.1 L761.5,938.2 L761.7,938.4 L761.9,938.6 L762.1,938.9 L762.3,939.3 L762.5,939.7 L762.7,940.3 L762.9,940.8 L763,941.5 L763.2,942.2 L763.4,942.9 L763.6,943.7 L763.8,944.6 L764,945.5 L764.2,946.5 L764.4,947.5 L764.6,948.6 L764.7,949.7 L764.9,950.8 L765.1,952 L765.3,953.3 L765.5,954.6 L765.7,955.9 L765.9,957.2 L766.1,958.6 L766.3,960 L766.5,961.4 L766.6,962.8 L766.8,964.3 L767,965.7 L767.2,967.2 L767.4,968.7 L767.6,970.2 L767.8,971.7 L768,973.2 L768.2,974.6 L768.4,976.1 L768.5,977.6 L768.7,979 L768.9,980.5 L769.1,981.9 L769.3,983.3 L769.5,984.7 L769.7,986 L769.9,987.3 L770.1,988.6 L770.3,989.8 L770.4,991 L770.6,992.2 L770.8,993.3 L771,994.4 L771.2,995.4 L771.4,996.4 L771.6,997.3 L771.8,998.2 L772,999 L772.1,999.8 L772.3,1000.5 L772.5,1001.1 L772.7,1001.7 L772.9,1002.2 L773.1,1002.7 L773.3,1003 L773.5,1003.4 L773.7,1003.6 L773.9,1003.8 L774,1003.9 L774.2,1004 L774.4,1004 L774.6,1003.9 L774.8,1003.8 L775,1003.5 L775.2,1003.3 L775.4,1002.9 L775.6,1002.5 L775.8,1002 L775.9,1001.5 L776.1,1000.9 L776.3,1000.2 L776.5,999.5 L776.7,998.8 L776.9,997.9 L777.1,997 L777.3,996.1 L777.5,995.1 L777.7,994 L777.8,993 L778,991.8 L778.2,990.6 L778.4,989.4 L778.6,988.2 L778.8,986.9 L779,985.6 L779.2,984.2 L779.4,982.8 L779.5,981.4 L779.7,980 L779.9,978.6 L780.1,977.1 L780.3,975.6 L780.5,974.2 L780.7,972.7 L780.9,971.2 L781.1,969.7 L781.3,968.2 L781.4,966.7 L781.6,965.2 L781.8,963.8 L782,962.3 L782.2,960.9 L782.4,959.5 L782.6,958.1 L782.8,956.8 L783,955.4 L783.2,954.1 L783.3,952.9 L783.5,951.6 L783.7,950.5 L783.9,949.3 L784.1,948.2 L784.3,947.2 L784.5,946.2 L784.7,945.2 L784.9,944.3 L785.1,943.4 L785.2,942.7 L785.4,941.9 L785.6,941.2 L785.8,940.6 L786,940.1" fill="none" stroke="#222" stroke-width="1.4"/>
<path d="M583,1059 Q674,1064 764,1059" fill="none" stroke="#222" stroke-width="1.4"/>
<circle cx="673.5" cy="988" r="115.5" fill="none" stroke="#222" stroke-width="1.5"/>
<line x1="625.5" y1="816" x2="655" y2="933" stroke="#222" stroke-width="1.1"/>
<line x1="711.4" y1="816" x2="682.2" y2="933" stroke="#222" stroke-width="1.1"/>
<path d="M946,612 L946,571 Q946,563 954,563 L1254,563 Q1262,563 1262,571 L1262,612" fill="none" stroke="#555" stroke-width="1.5"/>
<path d="M946,938 L946,950 Q946,958 954,958 L1254,958 Q1262,958 1262,950 L1262,938" fill="none" stroke="#555" stroke-width="1.5"/>
<path d="M1040,598.7 L1040.6,598.8 L1041.3,598.9 L1041.9,599 L1042.6,599.1 L1043.2,599.2 L1043.8,599.3 L1044.5,599.4 L1045.1,599.6 L1045.7,599.7 L1046.3,599.8 L1046.9,599.9 L1047.6,600 L1048.2,600.2 L1048.8,600.3 L1049.4,600.4 L1050,600.6 L1050.6,600.7 L1051.2,600.9 L1051.8,601 L1052.3,601.2 L1052.9,601.3 L1053.5,601.5 L1054.1,601.6 L1054.7,601.8 L1055.2,602 L1055.8,602.2 L1056.4,602.4 L1056.9,602.6 L1057.5,602.7 L1058,603 L1058.6,603.2 L1059.1,603.4 L1059.7,603.6 L1060.2,603.8 L1060.7,604.1 L1061.3,604.3 L1061.8,604.5 L1062.3,604.8 L1062.9,605.1 L1063.4,605.3 L1063.9,605.6 L1064.4,605.9 L1064.9,606.2 L1065.4,606.5 L1065.9,606.8 L1066.4,607.1 L1066.9,607.5 L1067.4,607.8 L1067.9,608.2 L1068.4,608.5 L1068.9,608.9 L1069.4,609.3 L1069.9,609.7 L1070.3,610.1 L1070.8,610.5 L1071.3,611 L1071.7,611.4 L1072.2,611.9 L1072.7,612.4 L1073.1,612.9 L1073.6,613.4 L1074,613.9 L1074.5,614.5 L1074.9,615.1 L1075.3,615.6 L1075.8,616.3 L1076.2,616.9 L1076.6,617.5 L1077.1,618.2 L1077.5,618.9 L1077.9,619.6 L1078.3,620.4 L1078.7,621.1 L1079.2,621.9 L1079.6,622.8 L1080,623.6 L1080.4,624.5 L1080.8,625.4 L1081.2,626.4 L1081.5,627.3 L1081.9,628.4 L1082.3,629.4 L1082.7,630.5 L1083.1,631.6 L1083.5,632.8 L1083.8,634 L1084.2,635.3 L1084.6,636.6 L1084.9,637.9 L1085.3,639.3 L1085.6,640.7 L1086,642.2 L1086.3,643.8 L1086.7,645.4 L1087,647 L1087.4,648.8 L1087.7,650.5 L1088,652.4 L1088.4,654.3 L1088.7,656.3 L1089,658.3 L1089.3,660.4 L1089.6,662.6 L1090,664.9 L1090.3,667.2 L1090.6,669.6 L1090.9,672.1 L1091.2,674.7 L1091.5,677.4 L1091.8,680.1 L1092,683 L1092.3,685.9 L1092.6,688.9 L1092.9,692 L1093.2,695.2 L1093.4,698.5 L1093.7,701.9 L1094,705.4 L1094.2,709 L1094.5,712.7 L1094.8,716.4 L1095,720.3 L1095.3,724.2 L1095.5,728.3 L1095.8,732.4 L1096,736.6 L1096.2,740.9 L1096.5,745.3 L1096.7,749.7 L1096.9,754.2 L1097.2,758.8 L1097.4,763.4 L1097.6,768 L1097.8,772.7 L1098,777.5 L1098.2,782.2 L1098.4,787 L1098.6,791.8 L1098.8,796.6 L1099,801.4 L1099.2,806.1 L1099.4,810.8 L1099.6,815.5 L1099.8,820.1 L1100,824.7 L1100.1,829.2 L1100.3,833.6 L1100.5,837.9 L1100.6,842.2 L1100.8,846.3 L1101,850.3 L1101.1,854.1 L1101.3,857.9 L1101.4,861.5 L1101.6,865 L1101.7,868.3 L1101.9,871.5 L1102,874.5 L1102.1,877.4 L1102.3,880.1 L1102.4,882.7 L1102.5,885.2 L1102.6,887.4 L1102.7,889.6 L1102.9,891.5 L1103,893.4 L1103.1,895.1 L1103.2,896.7 L1103.3,898.1 L1103.4,899.4 L1103.5,900.6 L1103.6,901.7 L1103.7,902.7 L1103.7,903.6 L1103.8,904.4 L1103.9,905.1 L1104,905.7 L1104,906.2 L1104.1,906.7 L1104.2,907.1 L1104.2,907.5 L1104.3,907.8 L1104.4,908 L1104.4,908.2 L1104.5,908.4 L1104.5,908.6 L1104.5,908.7 L1104.6,908.8 L1104.6,908.8 L1104.7,908.9 L1104.7,908.9 L1104.7,909 L1104.7,909 L1104.8,909 L1104.8,909 L1104.8,909 L1104.8,909 L1104.8,909 L1104.8,909 L1104.8,909 L1104.8,909 L1104.8,909 L1104.8,909 L1104.8,909 L1104.8,909 L1104.9,909 L1104.9,909 L1104.9,908.9 L1104.9,908.9 L1105,908.8 L1105,908.8 L1105.1,908.7 L1105.1,908.6 L1105.1,908.4 L1105.2,908.2 L1105.2,908 L1105.3,907.8 L1105.4,907.5 L1105.4,907.1 L1105.5,906.7 L1105.6,906.2 L1105.6,905.7 L1105.7,905 L1105.8,904.3 L1105.9,903.5 L1106,902.6 L1106,901.6 L1106.1,900.5 L1106.2,899.3 L1106.3,898 L1106.4,896.5 L1106.5,894.9 L1106.6,893.2 L1106.7,891.3 L1106.9,889.3 L1107,887.2 L1107.1,884.9 L1107.2,882.4 L1107.4,879.8 L1107.5,877.1 L1107.6,874.2 L1107.8,871.1 L1107.9,867.9 L1108,864.5 L1108.2,861 L1108.3,857.4 L1108.5,853.6 L1108.7,849.7 L1108.8,845.6 L1109,841.5 L1109.1,837.2 L1109.3,832.9 L1109.5,828.5 L1109.7,823.9 L1109.8,819.3 L1110,814.7 L1110.2,810 L1110.4,805.3 L1110.6,800.5 L1110.8,795.7 L1111,790.9 L1111.2,786.1 L1111.4,781.3 L1111.6,776.5 L1111.8,771.8 L1112,767.1 L1112.3,762.4 L1112.5,757.8 L1112.7,753.2 L1112.9,748.7 L1113.2,744.3 L1113.4,739.9 L1113.6,735.7 L1113.9,731.5 L1114.1,727.3 L1114.4,723.3 L1114.6,719.4 L1114.9,715.5 L1115.2,711.8 L1115.4,708.1 L1115.7,704.5 L1115.9,701.1 L1116.2,697.7 L1116.5,694.4 L1116.8,691.2 L1117.1,688.1 L1117.3,685.1 L1117.6,682.2 L1117.9,679.4 L1118.2,676.6 L1118.5,674 L1118.8,671.4 L1119.1,668.9 L1119.4,666.5 L1119.7,664.2 L1120.1,661.9 L1120.4,659.8 L1120.7,657.7 L1121,655.6 L1121.3,653.7 L1121.7,651.8 L1122,650 L1122.3,648.2 L1122.7,646.5 L1123,644.9 L1123.4,643.3 L1123.7,641.7 L1124.1,640.2 L1124.4,638.8 L1124.8,637.4 L1125.2,636.1 L1125.5,634.8 L1125.9,633.6 L1126.3,632.4 L1126.7,631.2 L1127,630.1 L1127.4,629 L1127.8,628 L1128.2,627 L1128.6,626 L1129,625.1 L1129.4,624.2 L1129.8,623.3 L1130.2,622.4 L1130.6,621.6 L1131,620.8 L1131.4,620.1 L1131.9,619.3 L1132.3,618.6 L1132.7,617.9 L1133.1,617.3 L1133.6,616.6 L1134,616 L1134.4,615.4 L1134.9,614.8 L1135.3,614.2 L1135.8,613.7 L1136.2,613.2 L1136.7,612.7 L1137.1,612.2 L1137.6,611.7 L1138.1,611.2 L1138.5,610.8 L1139,610.3 L1139.5,609.9 L1140,609.5 L1140.4,609.1 L1140.9,608.7 L1141.4,608.4 L1141.9,608 L1142.4,607.6 L1142.9,607.3 L1143.4,607 L1143.9,606.7 L1144.4,606.3 L1144.9,606 L1145.4,605.8 L1146,605.5 L1146.5,605.2 L1147,604.9 L1147.5,604.7 L1148.1,604.4 L1148.6,604.2 L1149.1,603.9 L1149.7,603.7 L1150.2,603.5 L1150.8,603.3 L1151.3,603.1 L1151.9,602.8 L1152.4,602.6 L1153,602.5 L1153.5,602.3 L1154.1,602.1 L1154.7,601.9 L1155.3,601.7 L1155.8,601.6 L1156.4,601.4 L1157,601.2 L1157.6,601.1 L1158.2,600.9 L1158.8,600.8 L1159.4,600.6 L1160,600.5 L1160.6,600.4 L1161.2,600.2 L1161.8,600.1 L1162.4,600 L1163,599.8 L1163.6,599.7 L1164.2,599.6 L1164.9,599.5 L1165.5,599.4 L1166.1,599.3 L1166.8,599.2 L1167.4,599.1 L1168.1,599 L1168.7,598.9 L1169.3,598.8 L1170,598.7" fill="none" stroke="#333" stroke-width="1.4" stroke-dasharray="7 5"/>
<path d="M946,596.2 L946.7,596.2 L947.4,596.2 L948.1,596.3 L948.8,596.3 L949.5,596.4 L950.1,596.4 L950.8,596.5 L951.5,596.5 L952.2,596.6 L952.8,596.6 L953.5,596.7 L954.1,596.8 L954.8,596.8 L955.5,596.9 L956.1,596.9 L956.7,597 L957.4,597.1 L958,597.1 L958.7,597.2 L959.3,597.3 L959.9,597.4 L960.5,597.4 L961.2,597.5 L961.8,597.6 L962.4,597.7 L963,597.8 L963.6,597.8 L964.2,597.9 L964.8,598 L965.4,598.1 L966,598.2 L966.6,598.3 L967.2,598.4 L967.8,598.5 L968.3,598.6 L968.9,598.7 L969.5,598.9 L970.1,599 L970.6,599.1 L971.2,599.2 L971.7,599.4 L972.3,599.5 L972.8,599.6 L973.4,599.8 L973.9,599.9 L974.5,600.1 L975,600.2 L975.5,600.4 L976.1,600.6 L976.6,600.7 L977.1,600.9 L977.6,601.1 L978.2,601.3 L978.7,601.5 L979.2,601.7 L979.7,601.9 L980.2,602.1 L980.7,602.4 L981.2,602.6 L981.7,602.8 L982.2,603.1 L982.6,603.4 L983.1,603.6 L983.6,603.9 L984.1,604.2 L984.5,604.5 L985,604.8 L985.5,605.1 L985.9,605.4 L986.4,605.8 L986.8,606.1 L987.3,606.5 L987.7,606.9 L988.2,607.3 L988.6,607.7 L989.1,608.1 L989.5,608.6 L989.9,609.1 L990.3,609.5 L990.8,610 L991.2,610.6 L991.6,611.1 L992,611.7 L992.4,612.2 L992.8,612.8 L993.2,613.5 L993.6,614.1 L994,614.8 L994.4,615.5 L994.8,616.3 L995.2,617 L995.5,617.8 L995.9,618.7 L996.3,619.6 L996.6,620.5 L997,621.4 L997.4,622.4 L997.7,623.4 L998.1,624.5 L998.4,625.6 L998.8,626.8 L999.1,628 L999.5,629.3 L999.8,630.6 L1000.1,632 L1000.5,633.4 L1000.8,634.9 L1001.1,636.5 L1001.4,638.2 L1001.8,639.9 L1002.1,641.7 L1002.4,643.5 L1002.7,645.5 L1003,647.5 L1003.3,649.6 L1003.6,651.9 L1003.9,654.2 L1004.2,656.6 L1004.4,659.1 L1004.7,661.7 L1005,664.4 L1005.3,667.3 L1005.5,670.2 L1005.8,673.3 L1006.1,676.5 L1006.3,679.9 L1006.6,683.3 L1006.8,686.9 L1007.1,690.7 L1007.3,694.5 L1007.6,698.5 L1007.8,702.7 L1008,707 L1008.3,711.4 L1008.5,716 L1008.7,720.7 L1008.9,725.5 L1009.2,730.5 L1009.4,735.6 L1009.6,740.8 L1009.8,746.1 L1010,751.5 L1010.2,757.1 L1010.4,762.7 L1010.6,768.4 L1010.8,774.1 L1011,779.9 L1011.1,785.7 L1011.3,791.5 L1011.5,797.4 L1011.7,803.2 L1011.8,809 L1012,814.7 L1012.2,820.3 L1012.3,825.9 L1012.5,831.3 L1012.6,836.6 L1012.8,841.8 L1012.9,846.8 L1013.1,851.7 L1013.2,856.3 L1013.3,860.8 L1013.5,865 L1013.6,869.1 L1013.7,872.9 L1013.8,876.5 L1013.9,879.8 L1014.1,883 L1014.2,885.9 L1014.3,888.6 L1014.4,891.1 L1014.5,893.3 L1014.6,895.4 L1014.7,897.3 L1014.7,899 L1014.8,900.5 L1014.9,901.8 L1015,903 L1015.1,904 L1015.1,904.9 L1015.2,905.7 L1015.3,906.3 L1015.3,906.9 L1015.4,907.3 L1015.4,907.7 L1015.5,908 L1015.5,908.3 L1015.6,908.5 L1015.6,908.7 L1015.6,908.8 L1015.7,908.8 L1015.7,908.9 L1015.7,908.9 L1015.7,909 L1015.8,909 L1015.8,909 L1015.8,909 L1015.8,909 L1015.8,909 L1015.8,909 L1015.8,909 L1015.8,909 L1015.8,909 L1015.8,909 L1015.9,909 L1015.9,908.9 L1015.9,908.9 L1016,908.8 L1016,908.6 L1016,908.4 L1016.1,908.2 L1016.2,907.9 L1016.2,907.4 L1016.3,906.9 L1016.3,906.3 L1016.4,905.6 L1016.5,904.6 L1016.6,903.6 L1016.7,902.3 L1016.7,900.9 L1016.8,899.3 L1016.9,897.4 L1017,895.3 L1017.1,892.9 L1017.3,890.3 L1017.4,887.4 L1017.5,884.2 L1017.6,880.8 L1017.8,877 L1017.9,873 L1018,868.6 L1018.2,864 L1018.3,859.1 L1018.5,854 L1018.6,848.6 L1018.8,843 L1019,837.2 L1019.1,831.2 L1019.3,825 L1019.5,818.7 L1019.7,812.3 L1019.8,805.8 L1020,799.3 L1020.2,792.7 L1020.4,786.1 L1020.6,779.5 L1020.9,773 L1021.1,766.5 L1021.3,760.1 L1021.5,753.8 L1021.7,747.6 L1022,741.6 L1022.2,735.7 L1022.5,729.9 L1022.7,724.3 L1023,718.9 L1023.2,713.7 L1023.5,708.6 L1023.7,703.7 L1024,699 L1024.3,694.4 L1024.6,690.1 L1024.8,685.9 L1025.1,681.9 L1025.4,678 L1025.7,674.4 L1026,670.8 L1026.3,667.5 L1026.6,664.3 L1026.9,661.2 L1027.3,658.3 L1027.6,655.5 L1027.9,652.8 L1028.2,650.3 L1028.6,647.8 L1028.9,645.5 L1029.3,643.3 L1029.6,641.2 L1030,639.2 L1030.3,637.3 L1030.7,635.5 L1031.1,633.8 L1031.4,632.1 L1031.8,630.6 L1032.2,629.1 L1032.6,627.7 L1033,626.3 L1033.4,625 L1033.8,623.8 L1034.2,622.6 L1034.6,621.5 L1035,620.4 L1035.4,619.4 L1035.8,618.4 L1036.2,617.5 L1036.7,616.6 L1037.1,615.7 L1037.5,614.9 L1038,614.1 L1038.4,613.4 L1038.9,612.7 L1039.3,612 L1039.8,611.4 L1040.3,610.7 L1040.7,610.2 L1041.2,609.6 L1041.7,609 L1042.2,608.5 L1042.7,608 L1043.2,607.5 L1043.7,607.1 L1044.2,606.6 L1044.7,606.2 L1045.2,605.8 L1045.7,605.4 L1046.2,605.1 L1046.7,604.7 L1047.3,604.3 L1047.8,604 L1048.3,603.7 L1048.9,603.4 L1049.4,603.1 L1050,602.8 L1050.5,602.5 L1051.1,602.3 L1051.7,602 L1052.2,601.8 L1052.8,601.6 L1053.4,601.3 L1054,601.1 L1054.6,600.9 L1055.1,600.7 L1055.7,600.5 L1056.3,600.3 L1056.9,600.1 L1057.6,600 L1058.2,599.8 L1058.8,599.6 L1059.4,599.5 L1060,599.3 L1060.7,599.2 L1061.3,599 L1062,598.9 L1062.6,598.8 L1063.2,598.6 L1063.9,598.5 L1064.6,598.4 L1065.2,598.3 L1065.9,598.2 L1066.6,598.1 L1067.2,598 L1067.9,597.9 L1068.6,597.8 L1069.3,597.7 L1070,597.6 L1070.7,597.5 L1071.4,597.4 L1072.1,597.3 L1072.8,597.2 L1073.5,597.1 L1074.3,597.1 L1075,597 L1075.7,596.9 L1076.4,596.9 L1077.2,596.8 L1077.9,596.7 L1078.7,596.7 L1079.4,596.6 L1080.2,596.5 L1081,596.5 L1081.7,596.4 L1082.5,596.4 L1083.3,596.3 L1084,596.3 L1084.8,596.2 L1085.6,596.2 L1086.4,596.1 L1087.2,596.1 L1088,596 L1088.8,596 L1089.6,595.9 L1090.4,595.9 L1091.3,595.8 L1092.1,595.8 L1092.9,595.8 L1093.8,595.7 L1094.6,595.7 L1095.4,595.7 L1096.3,595.6 L1097.1,595.6 L1098,595.6 L1098.9,595.5 L1099.7,595.5 L1100.6,595.5 L1101.5,595.4 L1102.3,595.4 L1103.2,595.4 L1104.1,595.4 L1105,595.3" fill="none" stroke="#8a1a80" stroke-width="1.9"/>
<path d="M1100,595.2 L1100.9,595.3 L1101.8,595.3 L1102.7,595.3 L1103.7,595.4 L1104.6,595.4 L1105.5,595.4 L1106.3,595.4 L1107.2,595.5 L1108.1,595.5 L1109,595.5 L1109.9,595.6 L1110.7,595.6 L1111.6,595.6 L1112.5,595.7 L1113.3,595.7 L1114.2,595.7 L1115,595.8 L1115.9,595.8 L1116.7,595.9 L1117.5,595.9 L1118.3,595.9 L1119.2,596 L1120,596 L1120.8,596.1 L1121.6,596.1 L1122.4,596.2 L1123.2,596.2 L1124,596.3 L1124.8,596.3 L1125.6,596.4 L1126.4,596.4 L1127.1,596.5 L1127.9,596.6 L1128.7,596.6 L1129.4,596.7 L1130.2,596.8 L1131,596.8 L1131.7,596.9 L1132.5,597 L1133.2,597 L1133.9,597.1 L1134.7,597.2 L1135.4,597.3 L1136.1,597.4 L1136.8,597.4 L1137.5,597.5 L1138.2,597.6 L1138.9,597.7 L1139.6,597.8 L1140.3,597.9 L1141,598 L1141.7,598.1 L1142.4,598.2 L1143.1,598.4 L1143.7,598.5 L1144.4,598.6 L1145.1,598.7 L1145.7,598.9 L1146.4,599 L1147,599.2 L1147.7,599.3 L1148.3,599.5 L1148.9,599.6 L1149.6,599.8 L1150.2,599.9 L1150.8,600.1 L1151.4,600.3 L1152,600.5 L1152.6,600.7 L1153.2,600.9 L1153.8,601.1 L1154.4,601.3 L1155,601.6 L1155.6,601.8 L1156.2,602 L1156.7,602.3 L1157.3,602.6 L1157.9,602.8 L1158.4,603.1 L1159,603.4 L1159.5,603.7 L1160.1,604.1 L1160.6,604.4 L1161.2,604.8 L1161.7,605.1 L1162.2,605.5 L1162.7,605.9 L1163.3,606.3 L1163.8,606.8 L1164.3,607.2 L1164.8,607.7 L1165.3,608.2 L1165.8,608.7 L1166.3,609.2 L1166.8,609.8 L1167.2,610.4 L1167.7,611 L1168.2,611.6 L1168.7,612.3 L1169.1,613 L1169.6,613.7 L1170,614.5 L1170.5,615.3 L1170.9,616.2 L1171.4,617 L1171.8,618 L1172.2,618.9 L1172.6,620 L1173.1,621 L1173.5,622.1 L1173.9,623.3 L1174.3,624.6 L1174.7,625.8 L1175.1,627.2 L1175.5,628.6 L1175.9,630.1 L1176.3,631.7 L1176.6,633.3 L1177,635.1 L1177.4,636.9 L1177.8,638.8 L1178.1,640.8 L1178.5,642.9 L1178.8,645.1 L1179.2,647.5 L1179.5,649.9 L1179.8,652.5 L1180.2,655.2 L1180.5,658 L1180.8,660.9 L1181.2,664 L1181.5,667.3 L1181.8,670.7 L1182.1,674.3 L1182.4,678 L1182.7,681.9 L1183,686 L1183.3,690.3 L1183.5,694.7 L1183.8,699.3 L1184.1,704.1 L1184.4,709.1 L1184.6,714.3 L1184.9,719.6 L1185.1,725.2 L1185.4,730.9 L1185.6,736.7 L1185.9,742.8 L1186.1,748.9 L1186.3,755.2 L1186.6,761.7 L1186.8,768.2 L1187,774.8 L1187.2,781.4 L1187.4,788.1 L1187.6,794.8 L1187.8,801.5 L1188,808.1 L1188.2,814.7 L1188.4,821.2 L1188.6,827.5 L1188.7,833.7 L1188.9,839.7 L1189.1,845.5 L1189.2,851.1 L1189.4,856.5 L1189.6,861.6 L1189.7,866.4 L1189.8,870.9 L1190,875.2 L1190.1,879.1 L1190.3,882.8 L1190.4,886.1 L1190.5,889.2 L1190.6,891.9 L1190.7,894.4 L1190.8,896.7 L1190.9,898.7 L1191,900.4 L1191.1,901.9 L1191.2,903.2 L1191.3,904.4 L1191.4,905.3 L1191.4,906.1 L1191.5,906.8 L1191.6,907.3 L1191.6,907.8 L1191.7,908.1 L1191.7,908.4 L1191.8,908.6 L1191.8,908.7 L1191.9,908.8 L1191.9,908.9 L1191.9,909 L1192,909 L1192,909 L1192,909 L1192,909 L1192,909 L1192,909 L1192,909 L1192,909 L1192,909 L1192,909 L1192.1,909 L1192.1,908.9 L1192.1,908.9 L1192.1,908.8 L1192.2,908.8 L1192.2,908.6 L1192.2,908.5 L1192.3,908.3 L1192.3,908 L1192.4,907.7 L1192.4,907.3 L1192.5,906.9 L1192.5,906.3 L1192.6,905.6 L1192.7,904.9 L1192.7,904 L1192.8,902.9 L1192.9,901.7 L1193,900.4 L1193.1,898.9 L1193.1,897.2 L1193.2,895.3 L1193.3,893.3 L1193.4,891 L1193.5,888.5 L1193.6,885.8 L1193.7,882.8 L1193.9,879.7 L1194,876.3 L1194.1,872.7 L1194.2,868.9 L1194.3,864.8 L1194.5,860.5 L1194.6,856.1 L1194.7,851.4 L1194.9,846.5 L1195,841.5 L1195.2,836.3 L1195.3,831 L1195.5,825.5 L1195.6,820 L1195.8,814.3 L1196,808.6 L1196.1,802.8 L1196.3,797 L1196.5,791.1 L1196.7,785.3 L1196.8,779.5 L1197,773.7 L1197.2,767.9 L1197.4,762.2 L1197.6,756.6 L1197.8,751.1 L1198,745.7 L1198.2,740.3 L1198.4,735.1 L1198.7,730 L1198.9,725.1 L1199.1,720.2 L1199.3,715.6 L1199.5,711 L1199.8,706.6 L1200,702.3 L1200.3,698.1 L1200.5,694.1 L1200.7,690.3 L1201,686.6 L1201.2,683 L1201.5,679.5 L1201.8,676.2 L1202,673 L1202.3,669.9 L1202.6,667 L1202.8,664.1 L1203.1,661.4 L1203.4,658.8 L1203.7,656.3 L1204,653.9 L1204.3,651.6 L1204.6,649.4 L1204.9,647.3 L1205.2,645.2 L1205.5,643.3 L1205.8,641.4 L1206.1,639.7 L1206.4,637.9 L1206.7,636.3 L1207,634.7 L1207.4,633.2 L1207.7,631.8 L1208,630.4 L1208.4,629.1 L1208.7,627.8 L1209.1,626.6 L1209.4,625.5 L1209.8,624.3 L1210.1,623.3 L1210.5,622.3 L1210.8,621.3 L1211.2,620.3 L1211.6,619.4 L1211.9,618.6 L1212.3,617.7 L1212.7,616.9 L1213.1,616.2 L1213.5,615.4 L1213.9,614.7 L1214.3,614 L1214.7,613.4 L1215.1,612.7 L1215.5,612.1 L1215.9,611.6 L1216.3,611 L1216.7,610.5 L1217.1,609.9 L1217.5,609.5 L1218,609 L1218.4,608.5 L1218.8,608.1 L1219.3,607.6 L1219.7,607.2 L1220.1,606.8 L1220.6,606.5 L1221,606.1 L1221.5,605.7 L1222,605.4 L1222.4,605.1 L1222.9,604.7 L1223.3,604.4 L1223.8,604.1 L1224.3,603.8 L1224.8,603.6 L1225.3,603.3 L1225.7,603 L1226.2,602.8 L1226.7,602.6 L1227.2,602.3 L1227.7,602.1 L1228.2,601.9 L1228.7,601.7 L1229.2,601.5 L1229.7,601.3 L1230.3,601.1 L1230.8,600.9 L1231.3,600.7 L1231.8,600.5 L1232.4,600.4 L1232.9,600.2 L1233.4,600.1 L1234,599.9 L1234.5,599.8 L1235.1,599.6 L1235.6,599.5 L1236.2,599.3 L1236.7,599.2 L1237.3,599.1 L1237.9,599 L1238.4,598.8 L1239,598.7 L1239.6,598.6 L1240.2,598.5 L1240.8,598.4 L1241.3,598.3 L1241.9,598.2 L1242.5,598.1 L1243.1,598 L1243.7,597.9 L1244.3,597.8 L1244.9,597.7 L1245.6,597.7 L1246.2,597.6 L1246.8,597.5 L1247.4,597.4 L1248,597.3 L1248.7,597.3 L1249.3,597.2 L1249.9,597.1 L1250.6,597.1 L1251.2,597 L1251.9,596.9 L1252.5,596.9 L1253.2,596.8 L1253.8,596.7 L1254.5,596.7 L1255.2,596.6 L1255.8,596.6 L1256.5,596.5 L1257.2,596.5 L1257.9,596.4 L1258.5,596.4 L1259.2,596.3 L1259.9,596.3 L1260.6,596.2 L1261.3,596.2 L1262,596.1" fill="none" stroke="#18a6c2" stroke-width="1.9"/>
<line x1="1083" y1="594" x2="1262" y2="594" stroke="#8a1a80" stroke-width="2"/>
<line x1="946" y1="594" x2="1083" y2="594" stroke="#18a6c2" stroke-width="2"/>
<line x1="982" y1="891" x2="997" y2="891" stroke="#8a1a80" stroke-width="2.5"/>
<path d="M1205,890 H1221 M1213,882 V898" stroke="#18a6c2" stroke-width="2.5"/>
<text x="1131" y="911" font-size="25" fill="#111" text-anchor="start" font-style="italic" >2J</text>
<line x1="1015.8" y1="927.5" x2="1192" y2="927.5" stroke="#444" stroke-width="1.8"/>
<line x1="1016.5" y1="921" x2="1016.5" y2="935" stroke="#444" stroke-width="1.8"/>
<line x1="1191.5" y1="921" x2="1191.5" y2="935" stroke="#444" stroke-width="1.8"/>
<text x="1034.9" y="995.2" font-size="27.5" fill="#111" text-anchor="start" textLength="132.1" lengthAdjust="spacingAndGlyphs" >Frequency</text>
<ellipse cx="346" cy="879.5" rx="29" ry="16.5" fill="none" stroke="#88ab8e" stroke-width="2.6"/>
<ellipse cx="257.5" cy="930.7" rx="49.5" ry="28" fill="none" stroke="#88ab8e" stroke-width="2.6"/>
<rect x="8.4" y="987.5" width="440.3" height="524" rx="71" fill="none" stroke="#88ab8e" stroke-width="5"/>
<text x="291.1" y="1547.8" font-size="33" fill="#72a27c" text-anchor="start" textLength="65.7" lengthAdjust="spacingAndGlyphs" >THG</text>
<line x1="122.5" y1="1013" x2="285.8" y2="1013" stroke="#222" stroke-width="1.7" stroke-dasharray="9.6 9.4"/>
<line x1="152" y1="1186" x2="321.5" y2="1186" stroke="#333" stroke-width="1.7"/>
<line x1="176" y1="1186" x2="176" y2="1026.1" stroke="#cdc65c" stroke-width="4"/>
<path d="M176,1014.6 L182.5,1029.6 L176,1026.1 L169.5,1029.6Z" fill="#cdc65c"/>
<path d="M176,1074 L182.5,1089 L176,1085.5 L169.5,1089Z" fill="#cdc65c"/>
<path d="M176,1130 L182.5,1145 L176,1141.5 L169.5,1145Z" fill="#cdc65c"/>
<line x1="246" y1="1014" x2="246" y2="1140.3" stroke="#555" stroke-width="4" stroke-dasharray="12.5 4.5"/>
<path d="M246,1151.8 L239.4,1136.8 L246,1140.3 L252.6,1136.8Z" fill="#555"/>
<line x1="232" y1="1153" x2="260" y2="1153" stroke="#333" stroke-width="1.6"/>
<line x1="275.7" y1="1013" x2="275.7" y2="1173.7" stroke="#18a6c2" stroke-width="3"/>
<path d="M275.7,1184.7 L269.9,1170.7 L275.7,1173.7 L281.5,1170.7Z" fill="#18a6c2"/>
<rect x="106.8" y="1252.4" width="5.8" height="204.4" fill="url(#pb6)"/>
<rect x="341.4" y="1282" width="5.8" height="174.8" fill="url(#pb7)"/>
<path d="M49.4,1453.8 L50.6,1453.7 L51.8,1453.6 L53,1453.5 L54.2,1453.3 L55.3,1453.2 L56.5,1453 L57.6,1452.9 L58.7,1452.7 L59.8,1452.6 L60.9,1452.4 L62,1452.2 L63.1,1452 L64.1,1451.8 L65.2,1451.6 L66.2,1451.3 L67.2,1451.1 L68.2,1450.8 L69.2,1450.5 L70.2,1450.3 L71.2,1450 L72.2,1449.6 L73.1,1449.3 L74.1,1448.9 L75,1448.6 L75.9,1448.2 L76.8,1447.8 L77.7,1447.3 L78.6,1446.9 L79.4,1446.4 L80.3,1445.8 L81.1,1445.3 L81.9,1444.7 L82.8,1444.1 L83.6,1443.5 L84.4,1442.8 L85.1,1442 L85.9,1441.3 L86.7,1440.5 L87.4,1439.6 L88.1,1438.7 L88.9,1437.8 L89.6,1436.8 L90.3,1435.7 L90.9,1434.6 L91.6,1433.4 L92.3,1432.2 L92.9,1430.9 L93.5,1429.5 L94.2,1428 L94.8,1426.5 L95.4,1424.9 L96,1423.2 L96.5,1421.4 L97.1,1419.5 L97.6,1417.5 L98.2,1415.4 L98.7,1413.3 L99.2,1410.9 L99.7,1408.5 L100.2,1405.9 L100.7,1403.2 L101.1,1400.4 L101.6,1397.4 L102,1394.2 L102.5,1390.9 L102.9,1387.4 L103.3,1383.8 L103.7,1380 L104,1376 L104.4,1371.9 L104.8,1367.6 L105.1,1363.2 L105.4,1358.8 L105.7,1354.3 L106,1349.7 L106.3,1345.3 L106.6,1340.9 L106.9,1336.7 L107.1,1332.6 L107.4,1328.8 L107.6,1325.3 L107.8,1322.2 L108,1319.3 L108.2,1316.8 L108.4,1314.7 L108.6,1312.9 L108.7,1311.4 L108.9,1310.2 L109,1309.2 L109.2,1308.5 L109.3,1308 L109.4,1307.6 L109.4,1307.3 L109.5,1307.2 L109.6,1307.1 L109.6,1307 L109.7,1307 L109.7,1307 L109.7,1307 L109.7,1307 L109.7,1307 L109.7,1307 L109.8,1307 L109.8,1307.1 L109.9,1307.2 L110,1307.3 L110,1307.6 L110.1,1307.9 L110.2,1308.4 L110.4,1309.1 L110.5,1310.1 L110.6,1311.2 L110.8,1312.7 L111,1314.4 L111.1,1316.5 L111.3,1318.9 L111.5,1321.7 L111.7,1324.8 L112,1328.2 L112.2,1332 L112.5,1335.9 L112.7,1340.1 L113,1344.4 L113.3,1348.8 L113.6,1353.3 L113.9,1357.8 L114.2,1362.2 L114.6,1366.6 L114.9,1370.8 L115.3,1375 L115.6,1378.9 L116,1382.8 L116.4,1386.4 L116.8,1389.9 L117.2,1393.3 L117.7,1396.5 L118.1,1399.5 L118.6,1402.3 L119,1405.1 L119.5,1407.7 L120,1410.1 L120.5,1412.4 L121,1414.7 L121.6,1416.8 L122.1,1418.8 L122.7,1420.7 L123.2,1422.5 L123.8,1424.2 L124.4,1425.8 L125,1427.4 L125.6,1428.9 L126.2,1430.3 L126.8,1431.6 L127.5,1432.9 L128.1,1434.1 L128.8,1435.2 L129.5,1436.3 L130.2,1437.3 L130.9,1438.3 L131.6,1439.2 L132.4,1440 L133.1,1440.9 L133.9,1441.6 L134.6,1442.4 L135.4,1443.1 L136.2,1443.7 L137,1444.4 L137.8,1445 L138.6,1445.5 L139.5,1446.1 L140.3,1446.6 L141.2,1447 L142.1,1447.5 L142.9,1447.9 L143.8,1448.3 L144.8,1448.7 L145.7,1449.1 L146.6,1449.4 L147.6,1449.7 L148.5,1450.1 L149.5,1450.4 L150.5,1450.6 L151.5,1450.9 L152.5,1451.1 L153.5,1451.4 L154.5,1451.6 L155.6,1451.8 L156.6,1452 L157.7,1452.2 L158.8,1452.4 L159.8,1452.6 L160.9,1452.8 L162.1,1452.9 L163.2,1453.1 L164.3,1453.2 L165.5,1453.4 L166.6,1453.5 L167.8,1453.6 L169,1453.7" fill="none" stroke="#cdc65c" stroke-width="3.2" stroke-linejoin="round"/>
<path d="M244.6,1454.8 L245.8,1454.7 L247,1454.5 L248.1,1454.4 L249.3,1454.3 L250.4,1454.1 L251.5,1454 L252.7,1453.8 L253.8,1453.6 L254.9,1453.5 L255.9,1453.3 L257,1453.1 L258.1,1452.9 L259.1,1452.7 L260.1,1452.5 L261.2,1452.2 L262.2,1452 L263.2,1451.7 L264.1,1451.4 L265.1,1451.1 L266.1,1450.8 L267,1450.5 L268,1450.2 L268.9,1449.8 L269.8,1449.4 L270.7,1449 L271.6,1448.6 L272.5,1448.2 L273.3,1447.7 L274.2,1447.2 L275,1446.7 L275.8,1446.1 L276.7,1445.5 L277.5,1444.9 L278.3,1444.3 L279,1443.6 L279.8,1442.8 L280.6,1442.1 L281.3,1441.3 L282,1440.4 L282.8,1439.5 L283.5,1438.5 L284.2,1437.5 L284.8,1436.5 L285.5,1435.3 L286.2,1434.2 L286.8,1432.9 L287.5,1431.6 L288.1,1430.2 L288.7,1428.8 L289.3,1427.2 L289.9,1425.6 L290.5,1423.9 L291,1422.1 L291.6,1420.2 L292.1,1418.3 L292.6,1416.2 L293.2,1414 L293.7,1411.7 L294.2,1409.2 L294.6,1406.7 L295.1,1404 L295.6,1401.1 L296,1398.1 L296.4,1395 L296.9,1391.7 L297.3,1388.2 L297.7,1384.6 L298,1380.8 L298.4,1376.9 L298.8,1372.8 L299.1,1368.6 L299.5,1364.3 L299.8,1359.9 L300.1,1355.4 L300.4,1351 L300.7,1346.6 L301,1342.3 L301.2,1338.2 L301.5,1334.3 L301.7,1330.6 L301.9,1327.2 L302.2,1324.1 L302.4,1321.4 L302.6,1318.9 L302.7,1316.9 L302.9,1315.1 L303.1,1313.7 L303.2,1312.5 L303.3,1311.6 L303.5,1310.9 L303.6,1310.4 L303.7,1310.1 L303.7,1309.8 L303.8,1309.7 L303.9,1309.6 L303.9,1309.5 L304,1309.5 L304,1309.5 L304,1309.5 L304,1309.5 L304,1309.5 L304,1309.5 L304.1,1309.5 L304.1,1309.6 L304.2,1309.7 L304.3,1309.8 L304.3,1310.1 L304.4,1310.4 L304.5,1310.9 L304.7,1311.6 L304.8,1312.5 L304.9,1313.7 L305.1,1315.2 L305.3,1316.9 L305.4,1319 L305.6,1321.4 L305.8,1324.2 L306.1,1327.2 L306.3,1330.7 L306.5,1334.3 L306.8,1338.3 L307,1342.4 L307.3,1346.7 L307.6,1351.1 L307.9,1355.5 L308.2,1360 L308.5,1364.4 L308.9,1368.7 L309.2,1372.9 L309.6,1377 L310,1380.9 L310.3,1384.7 L310.7,1388.3 L311.2,1391.8 L311.6,1395.1 L312,1398.2 L312.5,1401.2 L312.9,1404.1 L313.4,1406.8 L313.9,1409.3 L314.4,1411.7 L314.9,1414.1 L315.4,1416.2 L315.9,1418.3 L316.4,1420.3 L317,1422.2 L317.6,1424 L318.1,1425.7 L318.7,1427.3 L319.3,1428.8 L319.9,1430.3 L320.6,1431.7 L321.2,1433 L321.9,1434.2 L322.5,1435.4 L323.2,1436.5 L323.9,1437.6 L324.6,1438.6 L325.3,1439.5 L326,1440.4 L326.7,1441.3 L327.5,1442.1 L328.2,1442.9 L329,1443.6 L329.8,1444.3 L330.6,1444.9 L331.4,1445.6 L332.2,1446.1 L333,1446.7 L333.9,1447.2 L334.7,1447.7 L335.6,1448.2 L336.5,1448.6 L337.4,1449.1 L338.3,1449.5 L339.2,1449.8 L340.1,1450.2 L341,1450.5 L342,1450.9 L342.9,1451.2 L343.9,1451.5 L344.9,1451.7 L345.9,1452 L346.9,1452.2 L347.9,1452.5 L349,1452.7 L350,1452.9 L351.1,1453.1 L352.1,1453.3 L353.2,1453.5 L354.3,1453.7 L355.4,1453.8 L356.5,1454 L357.7,1454.1 L358.8,1454.3 L360,1454.4 L361.1,1454.5 L362.3,1454.7 L363.5,1454.8" fill="none" stroke="#555" stroke-width="2.6" stroke-linejoin="round" stroke-dasharray="7 4"/>
<path d="M285.8,1453.7 L287,1453.5 L288.1,1453.4 L289.3,1453.3 L290.4,1453.1 L291.5,1453 L292.6,1452.8 L293.7,1452.7 L294.8,1452.5 L295.9,1452.3 L297,1452.1 L298,1451.9 L299.1,1451.7 L300.1,1451.5 L301.1,1451.2 L302.1,1451 L303.1,1450.7 L304.1,1450.5 L305.1,1450.2 L306,1449.9 L307,1449.6 L307.9,1449.2 L308.8,1448.9 L309.7,1448.5 L310.6,1448.1 L311.5,1447.7 L312.4,1447.3 L313.2,1446.8 L314.1,1446.3 L314.9,1445.8 L315.8,1445.3 L316.6,1444.7 L317.4,1444.1 L318.2,1443.5 L318.9,1442.8 L319.7,1442.1 L320.5,1441.3 L321.2,1440.5 L322,1439.7 L322.7,1438.8 L323.4,1437.9 L324.1,1436.9 L324.8,1435.9 L325.4,1434.8 L326.1,1433.6 L326.7,1432.4 L327.4,1431.1 L328,1429.8 L328.6,1428.4 L329.2,1426.9 L329.8,1425.3 L330.4,1423.7 L331,1421.9 L331.5,1420.1 L332.1,1418.2 L332.6,1416.1 L333.1,1414 L333.6,1411.8 L334.1,1409.4 L334.6,1407 L335.1,1404.3 L335.5,1401.6 L336,1398.7 L336.4,1395.7 L336.9,1392.5 L337.3,1389.1 L337.7,1385.6 L338.1,1381.9 L338.4,1378.1 L338.8,1374.1 L339.2,1370 L339.5,1365.7 L339.8,1361.4 L340.2,1357 L340.5,1352.5 L340.8,1348.1 L341,1343.7 L341.3,1339.4 L341.6,1335.3 L341.8,1331.4 L342.1,1327.8 L342.3,1324.4 L342.5,1321.4 L342.7,1318.7 L342.9,1316.3 L343.1,1314.2 L343.2,1312.5 L343.4,1311.1 L343.5,1310 L343.6,1309.1 L343.8,1308.4 L343.9,1307.9 L344,1307.5 L344.1,1307.3 L344.1,1307.2 L344.2,1307.1 L344.2,1307 L344.3,1307 L344.3,1307 L344.3,1307 L344.3,1307 L344.3,1307 L344.3,1307 L344.4,1307 L344.4,1307.1 L344.5,1307.2 L344.6,1307.3 L344.6,1307.6 L344.7,1308 L344.9,1308.5 L345,1309.2 L345.1,1310.2 L345.3,1311.4 L345.4,1312.9 L345.6,1314.7 L345.8,1316.8 L346,1319.3 L346.2,1322.2 L346.4,1325.4 L346.6,1328.9 L346.9,1332.7 L347.1,1336.7 L347.4,1341 L347.7,1345.4 L348,1349.8 L348.3,1354.4 L348.6,1358.9 L348.9,1363.3 L349.3,1367.7 L349.6,1372 L350,1376.1 L350.4,1380.1 L350.7,1383.9 L351.1,1387.5 L351.6,1391 L352,1394.3 L352.4,1397.5 L352.9,1400.5 L353.3,1403.3 L353.8,1406 L354.3,1408.6 L354.8,1411 L355.3,1413.3 L355.8,1415.5 L356.4,1417.6 L356.9,1419.6 L357.5,1421.5 L358.1,1423.3 L358.7,1425 L359.2,1426.6 L359.9,1428.1 L360.5,1429.5 L361.1,1430.9 L361.8,1432.2 L362.4,1433.5 L363.1,1434.6 L363.8,1435.8 L364.5,1436.8 L365.2,1437.8 L365.9,1438.8 L366.6,1439.7 L367.4,1440.5 L368.1,1441.3 L368.9,1442.1 L369.7,1442.8 L370.5,1443.5 L371.3,1444.1 L372.1,1444.7 L372.9,1445.3 L373.8,1445.9 L374.6,1446.4 L375.5,1446.9 L376.4,1447.3 L377.3,1447.8 L378.2,1448.2 L379.1,1448.6 L380,1449 L380.9,1449.3 L381.9,1449.7 L382.9,1450 L383.8,1450.3 L384.8,1450.6 L385.8,1450.8 L386.8,1451.1 L387.9,1451.3 L388.9,1451.6 L389.9,1451.8 L391,1452 L392.1,1452.2 L393.2,1452.4 L394.3,1452.6 L395.4,1452.7 L396.5,1452.9 L397.6,1453.1 L398.8,1453.2 L399.9,1453.3 L401.1,1453.5 L402.3,1453.6 L403.5,1453.7 L404.7,1453.8" fill="none" stroke="#18a6c2" stroke-width="3.2" stroke-linejoin="round"/>
<line x1="36.6" y1="1457" x2="421.6" y2="1457" stroke="#111" stroke-width="2.2"/>
<path d="M135,1238.7 Q220,1185 321.2,1262.8" fill="none" stroke="url(#fa8)" stroke-width="4.2"/>
<path d="M331.5,1270.7 L313.1,1266.7 L321.2,1262.8 L322.9,1254Z" fill="#2a97b3"/>
<ellipse cx="821.4" cy="1114.3" rx="29.3" ry="16.7" fill="none" stroke="#898cb2" stroke-width="2.6"/>
<ellipse cx="859.4" cy="1184" rx="49.6" ry="27.9" fill="none" stroke="#898cb2" stroke-width="2.6"/>
<rect x="561.7" y="1243" width="656.3" height="320" rx="50" fill="none" stroke="#898cb2" stroke-width="5"/>
<text x="982.7" y="1225.9" font-size="33.8" fill="#7075a6" text-anchor="start" textLength="125.9" lengthAdjust="spacingAndGlyphs" >FWM-BS</text>
<line x1="586.4" y1="1313.4" x2="749.2" y2="1313.4" stroke="#222" stroke-width="1.7" stroke-dasharray="9.6 9.4"/>
<line x1="695.6" y1="1419.5" x2="758.8" y2="1419.5" stroke="#333" stroke-width="1.7" stroke-dasharray="4.5 8.3"/>
<line x1="615.9" y1="1485.8" x2="783.7" y2="1485.8" stroke="#333" stroke-width="1.7"/>
<line x1="639.7" y1="1485.8" x2="639.7" y2="1385" stroke="#cdc65c" stroke-width="4"/>
<path d="M639.7,1373.5 L646.5,1388.5 L639.7,1385 L632.9,1388.5Z" fill="#cdc65c"/>
<line x1="639.7" y1="1374" x2="639.7" y2="1327.5" stroke="#9b161c" stroke-width="4"/>
<path d="M639.7,1316 L646.5,1331 L639.7,1327.5 L632.9,1331Z" fill="#9b161c"/>
<line x1="727.4" y1="1313.4" x2="727.4" y2="1405.1" stroke="#2eb07e" stroke-width="4.3"/>
<path d="M727.4,1417.6 L720.6,1401.6 L727.4,1405.1 L734.2,1401.6Z" fill="#2eb07e"/>
<line x1="709.4" y1="1421" x2="709.4" y2="1457.8" stroke="#555" stroke-width="4" stroke-dasharray="6.5 9"/>
<path d="M709.4,1469.3 L702.8,1454.3 L709.4,1457.8 L716,1454.3Z" fill="#555"/>
<line x1="695.6" y1="1470.5" x2="723.2" y2="1470.5" stroke="#333" stroke-width="1.6"/>
<line x1="746.5" y1="1420" x2="746.5" y2="1471.2" stroke="#18a6c2" stroke-width="3.8"/>
<path d="M746.5,1482.7 L739.7,1467.7 L746.5,1471.2 L753.3,1467.7Z" fill="#18a6c2"/>
<rect x="893.1" y="1390.8" width="5.8" height="123.7" fill="url(#pb9)"/>
<rect x="939.1" y="1312.2" width="5.8" height="202.3" fill="url(#pb10)"/>
<rect x="1078.9" y="1390.8" width="5.8" height="123.7" fill="url(#pb11)"/>
<rect x="1126.4" y="1312.2" width="5.8" height="202.3" fill="url(#pb12)"/>
<path d="M808.6,1514 L809.8,1513.9 L811,1513.9 L812.1,1513.8 L813.3,1513.7 L814.4,1513.7 L815.5,1513.6 L816.7,1513.5 L817.8,1513.4 L818.9,1513.3 L819.9,1513.2 L821,1513.1 L822.1,1513 L823.1,1512.9 L824.1,1512.8 L825.2,1512.7 L826.2,1512.6 L827.2,1512.4 L828.1,1512.3 L829.1,1512.1 L830.1,1512 L831,1511.8 L832,1511.6 L832.9,1511.4 L833.8,1511.2 L834.7,1511 L835.6,1510.8 L836.5,1510.6 L837.3,1510.3 L838.2,1510 L839,1509.8 L839.8,1509.5 L840.7,1509.1 L841.5,1508.8 L842.3,1508.4 L843,1508.1 L843.8,1507.7 L844.6,1507.2 L845.3,1506.8 L846,1506.3 L846.8,1505.8 L847.5,1505.3 L848.2,1504.7 L848.8,1504.1 L849.5,1503.5 L850.2,1502.8 L850.8,1502.1 L851.5,1501.3 L852.1,1500.5 L852.7,1499.6 L853.3,1498.7 L853.9,1497.8 L854.5,1496.7 L855,1495.7 L855.6,1494.5 L856.1,1493.3 L856.6,1492.1 L857.2,1490.7 L857.7,1489.3 L858.2,1487.8 L858.6,1486.3 L859.1,1484.6 L859.6,1482.8 L860,1481 L860.4,1479 L860.9,1476.9 L861.3,1474.7 L861.7,1472.4 L862,1469.9 L862.4,1467.3 L862.8,1464.6 L863.1,1461.8 L863.5,1458.9 L863.8,1455.8 L864.1,1452.7 L864.4,1449.5 L864.7,1446.3 L865,1443 L865.2,1439.9 L865.5,1436.8 L865.7,1433.8 L865.9,1431.1 L866.2,1428.5 L866.4,1426.2 L866.6,1424.1 L866.7,1422.3 L866.9,1420.8 L867.1,1419.5 L867.2,1418.5 L867.3,1417.6 L867.5,1417 L867.6,1416.5 L867.7,1416.2 L867.7,1416 L867.8,1415.8 L867.9,1415.8 L867.9,1415.7 L868,1415.7 L868,1415.7 L868,1415.7 L868,1415.7 L868,1415.7 L868,1415.7 L868.1,1415.7 L868.1,1415.8 L868.2,1415.8 L868.2,1415.9 L868.3,1416.1 L868.4,1416.3 L868.5,1416.7 L868.6,1417.2 L868.7,1417.8 L868.8,1418.6 L869,1419.6 L869.1,1420.8 L869.3,1422.2 L869.4,1423.9 L869.6,1425.8 L869.8,1427.9 L870,1430.3 L870.2,1432.8 L870.4,1435.5 L870.6,1438.3 L870.9,1441.2 L871.1,1444.2 L871.4,1447.2 L871.7,1450.2 L871.9,1453.2 L872.2,1456.1 L872.5,1458.9 L872.9,1461.7 L873.2,1464.3 L873.5,1466.9 L873.9,1469.3 L874.2,1471.6 L874.6,1473.8 L875,1475.9 L875.3,1477.9 L875.7,1479.8 L876.1,1481.6 L876.6,1483.3 L877,1485 L877.4,1486.5 L877.9,1488 L878.3,1489.3 L878.8,1490.7 L879.3,1491.9 L879.8,1493.1 L880.3,1494.2 L880.8,1495.3 L881.3,1496.3 L881.9,1497.3 L882.4,1498.2 L882.9,1499.1 L883.5,1499.9 L884.1,1500.7 L884.7,1501.5 L885.3,1502.2 L885.9,1502.8 L886.5,1503.5 L887.1,1504.1 L887.8,1504.6 L888.4,1505.2 L889.1,1505.7 L889.7,1506.2 L890.4,1506.6 L891.1,1507 L891.8,1507.5 L892.5,1507.8 L893.2,1508.2 L894,1508.5 L894.7,1508.9 L895.4,1509.2 L896.2,1509.5 L897,1509.8 L897.8,1510 L898.6,1510.3 L899.4,1510.5 L900.2,1510.7 L901,1510.9 L901.8,1511.1 L902.7,1511.3 L903.5,1511.5 L904.4,1511.7 L905.3,1511.8 L906.2,1512 L907.1,1512.2 L908,1512.3 L908.9,1512.4 L909.8,1512.6 L910.8,1512.7 L911.7,1512.8 L912.7,1512.9 L913.7,1513 L914.6,1513.1 L915.6,1513.2 L916.6,1513.3 L917.6,1513.4 L918.7,1513.4 L919.7,1513.5" fill="none" stroke="#555" stroke-width="2.2" stroke-linejoin="round" stroke-dasharray="6 3.5"/>
<path d="M835.4,1512.9 L836.6,1512.8 L837.8,1512.7 L839,1512.7 L840.2,1512.6 L841.3,1512.5 L842.5,1512.4 L843.6,1512.4 L844.8,1512.3 L845.9,1512.2 L847,1512.1 L848.1,1512 L849.1,1511.9 L850.2,1511.7 L851.3,1511.6 L852.3,1511.5 L853.3,1511.3 L854.3,1511.2 L855.3,1511 L856.3,1510.9 L857.3,1510.7 L858.3,1510.5 L859.2,1510.3 L860.2,1510.1 L861.1,1509.9 L862,1509.7 L862.9,1509.5 L863.8,1509.2 L864.7,1509 L865.6,1508.7 L866.4,1508.4 L867.3,1508.1 L868.1,1507.7 L868.9,1507.4 L869.7,1507 L870.5,1506.6 L871.3,1506.2 L872.1,1505.7 L872.8,1505.2 L873.6,1504.7 L874.3,1504.2 L875.1,1503.6 L875.8,1503 L876.5,1502.4 L877.1,1501.7 L877.8,1501 L878.5,1500.2 L879.1,1499.4 L879.8,1498.6 L880.4,1497.7 L881,1496.7 L881.6,1495.7 L882.2,1494.7 L882.8,1493.5 L883.3,1492.4 L883.9,1491.1 L884.4,1489.8 L884.9,1488.4 L885.5,1486.9 L886,1485.4 L886.4,1483.7 L886.9,1482 L887.4,1480.1 L887.8,1478.2 L888.3,1476.2 L888.7,1474 L889.1,1471.7 L889.5,1469.3 L889.9,1466.8 L890.3,1464.1 L890.7,1461.3 L891,1458.4 L891.4,1455.3 L891.7,1452.2 L892,1449 L892.3,1445.7 L892.6,1442.4 L892.9,1439.2 L893.2,1436 L893.4,1432.8 L893.7,1429.9 L893.9,1427.1 L894.1,1424.5 L894.3,1422.2 L894.5,1420.1 L894.7,1418.3 L894.9,1416.8 L895,1415.6 L895.2,1414.5 L895.3,1413.7 L895.4,1413.1 L895.6,1412.6 L895.7,1412.3 L895.7,1412.1 L895.8,1411.9 L895.9,1411.9 L895.9,1411.8 L896,1411.8 L896,1411.8 L896,1411.8 L896,1411.8 L896,1411.8 L896,1411.8 L896.1,1411.8 L896.1,1411.9 L896.2,1411.9 L896.3,1412.1 L896.3,1412.3 L896.4,1412.6 L896.5,1413.1 L896.7,1413.7 L896.8,1414.5 L896.9,1415.5 L897.1,1416.7 L897.3,1418.2 L897.5,1420 L897.6,1422 L897.9,1424.3 L898.1,1426.8 L898.3,1429.6 L898.5,1432.5 L898.8,1435.6 L899.1,1438.8 L899.3,1442.1 L899.6,1445.3 L899.9,1448.6 L900.3,1451.8 L900.6,1454.9 L900.9,1457.9 L901.3,1460.9 L901.6,1463.7 L902,1466.3 L902.4,1468.9 L902.8,1471.3 L903.2,1473.6 L903.6,1475.8 L904.1,1477.8 L904.5,1479.8 L905,1481.6 L905.5,1483.4 L905.9,1485 L906.4,1486.6 L906.9,1488.1 L907.5,1489.5 L908,1490.8 L908.5,1492.1 L909.1,1493.3 L909.7,1494.4 L910.3,1495.5 L910.8,1496.5 L911.5,1497.5 L912.1,1498.4 L912.7,1499.2 L913.3,1500 L914,1500.8 L914.7,1501.5 L915.3,1502.2 L916,1502.8 L916.7,1503.5 L917.5,1504 L918.2,1504.6 L918.9,1505.1 L919.7,1505.6 L920.4,1506 L921.2,1506.4 L922,1506.9 L922.8,1507.2 L923.6,1507.6 L924.4,1507.9 L925.3,1508.3 L926.1,1508.6 L927,1508.9 L927.9,1509.1 L928.7,1509.4 L929.6,1509.6 L930.5,1509.8 L931.5,1510.1 L932.4,1510.3 L933.3,1510.5 L934.3,1510.6 L935.3,1510.8 L936.3,1511 L937.2,1511.1 L938.3,1511.3 L939.3,1511.4 L940.3,1511.6 L941.3,1511.7 L942.4,1511.8 L943.5,1511.9 L944.5,1512 L945.6,1512.1 L946.7,1512.2 L947.9,1512.3 L949,1512.4 L950.1,1512.5 L951.3,1512.6 L952.4,1512.6 L953.6,1512.7 L954.8,1512.8 L956,1512.8" fill="none" stroke="#18a6c2" stroke-width="3" stroke-linejoin="round"/>
<path d="M883,1512 L884.2,1511.9 L885.3,1511.8 L886.5,1511.7 L887.6,1511.6 L888.8,1511.5 L889.9,1511.4 L891,1511.2 L892.1,1511.1 L893.2,1511 L894.3,1510.8 L895.3,1510.6 L896.4,1510.5 L897.4,1510.3 L898.4,1510.1 L899.4,1509.9 L900.4,1509.7 L901.4,1509.5 L902.4,1509.3 L903.4,1509 L904.3,1508.7 L905.3,1508.5 L906.2,1508.2 L907.1,1507.9 L908,1507.6 L908.9,1507.2 L909.8,1506.9 L910.7,1506.5 L911.5,1506.1 L912.4,1505.7 L913.2,1505.2 L914,1504.7 L914.8,1504.2 L915.6,1503.7 L916.4,1503.1 L917.2,1502.5 L918,1501.9 L918.7,1501.2 L919.5,1500.5 L920.2,1499.7 L920.9,1498.9 L921.6,1498.1 L922.3,1497.2 L923,1496.2 L923.6,1495.2 L924.3,1494.2 L924.9,1493 L925.6,1491.8 L926.2,1490.6 L926.8,1489.3 L927.4,1487.8 L928,1486.4 L928.6,1484.8 L929.1,1483.1 L929.7,1481.4 L930.2,1479.5 L930.7,1477.6 L931.2,1475.5 L931.7,1473.4 L932.2,1471.1 L932.7,1468.6 L933.2,1466.1 L933.6,1463.4 L934.1,1460.6 L934.5,1457.6 L934.9,1454.4 L935.3,1451 L935.7,1447.5 L936.1,1443.8 L936.5,1439.9 L936.8,1435.9 L937.2,1431.6 L937.5,1427.2 L937.8,1422.7 L938.1,1418.1 L938.4,1413.4 L938.7,1408.7 L939,1404.1 L939.2,1399.5 L939.5,1395.2 L939.7,1391 L940,1387.1 L940.2,1383.5 L940.4,1380.3 L940.6,1377.4 L940.7,1374.9 L940.9,1372.8 L941.1,1371.1 L941.2,1369.6 L941.3,1368.5 L941.5,1367.7 L941.6,1367 L941.7,1366.6 L941.7,1366.3 L941.8,1366.1 L941.9,1366 L941.9,1365.9 L942,1365.9 L942,1365.9 L942,1365.9 L942,1365.9 L942,1365.9 L942,1365.9 L942.1,1365.9 L942.1,1366 L942.2,1366.1 L942.3,1366.3 L942.3,1366.6 L942.4,1367.1 L942.5,1367.7 L942.7,1368.6 L942.8,1369.8 L942.9,1371.2 L943.1,1373 L943.3,1375.2 L943.5,1377.7 L943.6,1380.7 L943.9,1384 L944.1,1387.7 L944.3,1391.7 L944.5,1395.9 L944.8,1400.4 L945.1,1405 L945.3,1409.7 L945.6,1414.4 L945.9,1419.1 L946.3,1423.8 L946.6,1428.3 L946.9,1432.7 L947.3,1436.9 L947.6,1440.9 L948,1444.8 L948.4,1448.5 L948.8,1452 L949.2,1455.3 L949.6,1458.5 L950.1,1461.5 L950.5,1464.3 L951,1466.9 L951.5,1469.5 L951.9,1471.9 L952.4,1474.1 L952.9,1476.3 L953.5,1478.3 L954,1480.2 L954.5,1482.1 L955.1,1483.8 L955.7,1485.4 L956.3,1487 L956.8,1488.4 L957.5,1489.8 L958.1,1491.1 L958.7,1492.4 L959.3,1493.6 L960,1494.7 L960.7,1495.7 L961.3,1496.7 L962,1497.6 L962.7,1498.5 L963.5,1499.3 L964.2,1500.1 L964.9,1500.9 L965.7,1501.6 L966.4,1502.2 L967.2,1502.9 L968,1503.4 L968.8,1504 L969.6,1504.5 L970.4,1505 L971.3,1505.5 L972.1,1505.9 L973,1506.3 L973.9,1506.7 L974.7,1507.1 L975.6,1507.4 L976.5,1507.8 L977.5,1508.1 L978.4,1508.4 L979.3,1508.7 L980.3,1508.9 L981.3,1509.2 L982.3,1509.4 L983.2,1509.6 L984.3,1509.9 L985.3,1510.1 L986.3,1510.2 L987.3,1510.4 L988.4,1510.6 L989.5,1510.8 L990.5,1510.9 L991.6,1511.1 L992.7,1511.2 L993.9,1511.3 L995,1511.5 L996.1,1511.6 L997.3,1511.7 L998.4,1511.8 L999.6,1511.9 L1000.8,1512 L1002,1512.1" fill="none" stroke="#9b161c" stroke-width="3" stroke-linejoin="round"/>
<path d="M1021,1512.9 L1022.2,1512.8 L1023.4,1512.8 L1024.6,1512.7 L1025.8,1512.6 L1027,1512.5 L1028.1,1512.5 L1029.3,1512.4 L1030.4,1512.3 L1031.5,1512.2 L1032.6,1512.1 L1033.7,1512 L1034.8,1511.9 L1035.8,1511.8 L1036.9,1511.6 L1037.9,1511.5 L1039,1511.4 L1040,1511.2 L1041,1511.1 L1042,1510.9 L1043,1510.7 L1044,1510.6 L1044.9,1510.4 L1045.9,1510.2 L1046.8,1510 L1047.7,1509.7 L1048.6,1509.5 L1049.5,1509.2 L1050.4,1509 L1051.3,1508.7 L1052.1,1508.4 L1053,1508.1 L1053.8,1507.8 L1054.6,1507.4 L1055.5,1507 L1056.3,1506.6 L1057,1506.2 L1057.8,1505.8 L1058.6,1505.3 L1059.3,1504.8 L1060.1,1504.2 L1060.8,1503.7 L1061.5,1503.1 L1062.2,1502.4 L1062.9,1501.8 L1063.6,1501.1 L1064.2,1500.3 L1064.9,1499.5 L1065.5,1498.7 L1066.1,1497.8 L1066.8,1496.8 L1067.4,1495.8 L1067.9,1494.8 L1068.5,1493.6 L1069.1,1492.5 L1069.6,1491.2 L1070.2,1489.9 L1070.7,1488.5 L1071.2,1487 L1071.7,1485.5 L1072.2,1483.8 L1072.7,1482.1 L1073.2,1480.3 L1073.6,1478.3 L1074.1,1476.3 L1074.5,1474.1 L1074.9,1471.8 L1075.3,1469.4 L1075.7,1466.9 L1076.1,1464.2 L1076.5,1461.4 L1076.8,1458.5 L1077.2,1455.5 L1077.5,1452.3 L1077.8,1449.1 L1078.1,1445.9 L1078.4,1442.6 L1078.7,1439.3 L1079,1436.1 L1079.2,1432.9 L1079.5,1430 L1079.7,1427.2 L1079.9,1424.6 L1080.1,1422.3 L1080.3,1420.2 L1080.5,1418.4 L1080.7,1416.8 L1080.8,1415.6 L1081,1414.5 L1081.1,1413.7 L1081.2,1413.1 L1081.4,1412.6 L1081.5,1412.3 L1081.5,1412.1 L1081.6,1411.9 L1081.7,1411.9 L1081.7,1411.8 L1081.8,1411.8 L1081.8,1411.8 L1081.8,1411.8 L1081.8,1411.8 L1081.8,1411.8 L1081.8,1411.8 L1081.9,1411.8 L1081.9,1411.9 L1082,1411.9 L1082,1412.1 L1082.1,1412.3 L1082.2,1412.6 L1082.3,1413 L1082.4,1413.6 L1082.6,1414.3 L1082.7,1415.3 L1082.9,1416.5 L1083,1417.9 L1083.2,1419.6 L1083.4,1421.5 L1083.6,1423.7 L1083.8,1426.1 L1084,1428.8 L1084.3,1431.6 L1084.5,1434.6 L1084.8,1437.7 L1085,1440.9 L1085.3,1444.1 L1085.6,1447.3 L1085.9,1450.5 L1086.2,1453.6 L1086.6,1456.7 L1086.9,1459.6 L1087.3,1462.4 L1087.6,1465.1 L1088,1467.7 L1088.4,1470.1 L1088.8,1472.4 L1089.2,1474.6 L1089.6,1476.7 L1090.1,1478.7 L1090.5,1480.6 L1091,1482.3 L1091.4,1484 L1091.9,1485.6 L1092.4,1487.1 L1092.9,1488.6 L1093.4,1489.9 L1094,1491.2 L1094.5,1492.4 L1095.1,1493.6 L1095.6,1494.7 L1096.2,1495.7 L1096.8,1496.7 L1097.4,1497.7 L1098,1498.5 L1098.6,1499.4 L1099.3,1500.2 L1099.9,1500.9 L1100.6,1501.6 L1101.2,1502.3 L1101.9,1502.9 L1102.6,1503.5 L1103.3,1504.1 L1104,1504.6 L1104.8,1505.1 L1105.5,1505.6 L1106.3,1506 L1107,1506.5 L1107.8,1506.9 L1108.6,1507.2 L1109.4,1507.6 L1110.2,1507.9 L1111,1508.2 L1111.9,1508.5 L1112.7,1508.8 L1113.6,1509.1 L1114.4,1509.3 L1115.3,1509.6 L1116.2,1509.8 L1117.1,1510 L1118,1510.2 L1119,1510.4 L1119.9,1510.6 L1120.8,1510.8 L1121.8,1510.9 L1122.8,1511.1 L1123.8,1511.2 L1124.8,1511.4 L1125.8,1511.5 L1126.8,1511.6 L1127.8,1511.8 L1128.9,1511.9 L1129.9,1512 L1131,1512.1 L1132.1,1512.2 L1133.2,1512.3 L1134.3,1512.4 L1135.4,1512.5 L1136.5,1512.5 L1137.7,1512.6 L1138.8,1512.7 L1140,1512.7" fill="none" stroke="#cdc65c" stroke-width="3" stroke-linejoin="round"/>
<path d="M1069,1512.1 L1070.2,1512 L1071.4,1511.9 L1072.6,1511.8 L1073.8,1511.7 L1074.9,1511.6 L1076.1,1511.5 L1077.2,1511.4 L1078.3,1511.2 L1079.4,1511.1 L1080.5,1511 L1081.6,1510.8 L1082.7,1510.6 L1083.7,1510.5 L1084.8,1510.3 L1085.8,1510.1 L1086.8,1509.9 L1087.8,1509.7 L1088.8,1509.5 L1089.8,1509.2 L1090.8,1509 L1091.8,1508.7 L1092.7,1508.4 L1093.7,1508.1 L1094.6,1507.8 L1095.5,1507.5 L1096.4,1507.2 L1097.3,1506.8 L1098.2,1506.4 L1099,1506 L1099.9,1505.6 L1100.7,1505.1 L1101.5,1504.6 L1102.4,1504.1 L1103.2,1503.5 L1104,1502.9 L1104.7,1502.3 L1105.5,1501.7 L1106.3,1501 L1107,1500.2 L1107.7,1499.5 L1108.5,1498.6 L1109.2,1497.8 L1109.9,1496.8 L1110.5,1495.9 L1111.2,1494.8 L1111.9,1493.7 L1112.5,1492.5 L1113.1,1491.3 L1113.8,1490 L1114.4,1488.6 L1115,1487.2 L1115.6,1485.6 L1116.1,1484 L1116.7,1482.3 L1117.2,1480.4 L1117.8,1478.5 L1118.3,1476.5 L1118.8,1474.4 L1119.3,1472.1 L1119.8,1469.7 L1120.3,1467.2 L1120.7,1464.5 L1121.2,1461.7 L1121.6,1458.7 L1122.1,1455.6 L1122.5,1452.3 L1122.9,1448.8 L1123.3,1445.1 L1123.6,1441.3 L1124,1437.2 L1124.4,1433 L1124.7,1428.6 L1125,1424.1 L1125.3,1419.4 L1125.6,1414.7 L1125.9,1410 L1126.2,1405.2 L1126.5,1400.6 L1126.7,1396.1 L1127,1391.9 L1127.2,1387.8 L1127.4,1384.2 L1127.6,1380.8 L1127.8,1377.9 L1128,1375.3 L1128.2,1373.1 L1128.3,1371.3 L1128.5,1369.8 L1128.6,1368.6 L1128.8,1367.8 L1128.9,1367.1 L1129,1366.6 L1129,1366.3 L1129.1,1366.1 L1129.2,1366 L1129.2,1365.9 L1129.3,1365.9 L1129.3,1365.9 L1129.3,1365.9 L1129.3,1365.9 L1129.3,1365.9 L1129.3,1365.9 L1129.4,1365.9 L1129.4,1366 L1129.5,1366.1 L1129.6,1366.3 L1129.6,1366.6 L1129.7,1367.1 L1129.9,1367.8 L1130,1368.7 L1130.1,1369.9 L1130.3,1371.3 L1130.4,1373.2 L1130.6,1375.4 L1130.8,1378 L1131,1381 L1131.2,1384.4 L1131.4,1388.1 L1131.6,1392.1 L1131.9,1396.4 L1132.1,1400.9 L1132.4,1405.6 L1132.7,1410.3 L1133,1415.1 L1133.3,1419.8 L1133.6,1424.5 L1133.9,1429 L1134.3,1433.4 L1134.6,1437.6 L1135,1441.6 L1135.4,1445.5 L1135.8,1449.2 L1136.2,1452.7 L1136.6,1456 L1137,1459.1 L1137.5,1462.1 L1137.9,1464.9 L1138.4,1467.5 L1138.9,1470 L1139.4,1472.4 L1139.9,1474.7 L1140.4,1476.8 L1140.9,1478.8 L1141.4,1480.7 L1142,1482.5 L1142.6,1484.2 L1143.1,1485.9 L1143.7,1487.4 L1144.3,1488.9 L1144.9,1490.2 L1145.6,1491.5 L1146.2,1492.7 L1146.8,1493.9 L1147.5,1495 L1148.2,1496 L1148.9,1497 L1149.6,1497.9 L1150.3,1498.8 L1151,1499.6 L1151.7,1500.4 L1152.5,1501.1 L1153.2,1501.8 L1154,1502.5 L1154.8,1503.1 L1155.6,1503.7 L1156.4,1504.2 L1157.2,1504.7 L1158.1,1505.2 L1158.9,1505.7 L1159.8,1506.1 L1160.6,1506.5 L1161.5,1506.9 L1162.4,1507.2 L1163.3,1507.6 L1164.2,1507.9 L1165.2,1508.2 L1166.1,1508.5 L1167.1,1508.8 L1168.1,1509 L1169,1509.3 L1170,1509.5 L1171,1509.7 L1172,1509.9 L1173.1,1510.1 L1174.1,1510.3 L1175.2,1510.5 L1176.2,1510.7 L1177.3,1510.8 L1178.4,1511 L1179.5,1511.1 L1180.6,1511.3 L1181.8,1511.4 L1182.9,1511.5 L1184.1,1511.7 L1185.2,1511.8 L1186.4,1511.9 L1187.6,1512 L1188.8,1512.1 L1190,1512.2" fill="none" stroke="#2eb07e" stroke-width="3" stroke-linejoin="round"/>
<line x1="808.6" y1="1515" x2="1193" y2="1515" stroke="#111" stroke-width="2.2"/>
<path d="M944.6,1302.6 Q1010,1255 1100.4,1314.6" fill="none" stroke="url(#fa13)" stroke-width="4"/>
<path d="M1111.3,1321.8 L1092.7,1319.1 L1100.4,1314.6 L1101.5,1305.8Z" fill="#2a97b3"/>
<path d="M1080.6,1354.4 Q1000,1305 909.3,1369.8" fill="none" stroke="url(#fa14)" stroke-width="4"/>
<path d="M898.7,1377.4 L907.9,1361 L909.3,1369.8 L917.2,1374Z" fill="#2a97b3"/>
<ellipse cx="1330.8" cy="882.7" rx="29.2" ry="16.6" fill="none" stroke="#b08f90" stroke-width="2.6"/>
<ellipse cx="1408.8" cy="940.2" rx="49.3" ry="28.2" fill="none" stroke="#b08f90" stroke-width="2.6"/>
<rect x="1261.4" y="997.1" width="510.8" height="328.5" rx="51" fill="none" stroke="#b08f90" stroke-width="5"/>
<text x="1561.7" y="983.7" font-size="33.7" fill="#9c777c" text-anchor="start" textLength="68.4" lengthAdjust="spacingAndGlyphs" >DWE</text>
<line x1="1306.3" y1="1279.6" x2="1719.3" y2="1279.6" stroke="#111" stroke-width="2"/>
<path d="M1325.2,1273.1 L1326.2,1272.1 L1327.2,1271.1 L1328.2,1270.1 L1329.2,1269.2 L1330.2,1268.2 L1331.2,1267.2 L1332.2,1266.3 L1333.2,1265.3 L1334.2,1264.3 L1335.2,1263.4 L1336.2,1262.4 L1337.2,1261.4 L1338.2,1260.5 L1339.2,1259.5 L1340.2,1258.5 L1341.2,1257.5 L1342.2,1256.6 L1343.2,1255.6 L1344.2,1254.6 L1345.2,1253.7 L1346.2,1252.7 L1347.2,1251.7 L1348.2,1250.8 L1349.2,1249.8 L1350.2,1248.8 L1351.2,1247.9 L1352.2,1246.9 L1353.2,1245.9 L1354.2,1245 L1355.2,1244 L1356.2,1243 L1357.2,1242 L1358.2,1241.1 L1359.2,1240.1 L1360.2,1239.1 L1361.2,1238.2 L1362.2,1237.2 L1363.2,1236.2 L1364.2,1235.3 L1365.2,1234.3 L1366.2,1233.3 L1367.2,1232.4 L1368.2,1231.4 L1369.2,1230.4 L1370.2,1229.5 L1371.2,1228.5 L1372.2,1227.5 L1373.2,1226.5 L1374.2,1225.6 L1375.2,1224.6 L1376.2,1223.6 L1377.2,1222.7 L1378.2,1221.7 L1379.2,1220.7 L1380.2,1219.8 L1381.2,1218.8 L1382.2,1217.8 L1383.2,1216.9 L1384.2,1215.9 L1385.2,1214.9 L1386.2,1213.9 L1387.2,1213 L1388.2,1212 L1389.2,1211 L1390.2,1210.1 L1391.2,1209.1 L1392.2,1208.1 L1393.2,1207.2 L1394.2,1206.2 L1395.2,1205.2 L1396.2,1204.3 L1397.2,1203.3 L1398.2,1202.3 L1399.2,1201.4 L1400.2,1200.4 L1401.2,1199.4 L1402.2,1198.4 L1403.2,1197.5 L1404.2,1196.5 L1405.2,1195.5 L1406.2,1194.6 L1407.2,1193.6 L1408.2,1192.6 L1409.2,1191.7 L1410.2,1190.7 L1411.2,1189.7 L1412.2,1188.8 L1413.2,1187.8 L1414.2,1186.8 L1415.2,1185.9 L1416.2,1184.9 L1417.2,1183.9 L1418.2,1183 L1419.2,1182 L1420.2,1181 L1421.2,1180.1 L1422.2,1179.1 L1423.2,1178.1 L1424.2,1177.2 L1425.2,1176.2 L1426.2,1175.2 L1427.2,1174.3 L1428.2,1173.3 L1429.2,1172.4 L1430.2,1171.4 L1431.2,1170.4 L1432.2,1169.5 L1433.2,1168.5 L1434.2,1167.6 L1435.2,1166.6 L1436.2,1165.6 L1437.2,1164.7 L1438.2,1163.7 L1439.2,1162.8 L1440.2,1161.8 L1441.2,1160.9 L1442.2,1160 L1443.2,1159 L1444.2,1158.1 L1445.2,1157.1 L1446.2,1156.2 L1447.2,1155.3 L1448.2,1154.3 L1449.2,1153.4 L1450.2,1152.5 L1451.2,1151.6 L1452.2,1150.7 L1453.2,1149.7 L1454.2,1148.8 L1455.2,1147.9 L1456.2,1147 L1457.2,1146.2 L1458.2,1145.3 L1459.2,1144.4 L1460.2,1143.5 L1461.2,1142.7 L1462.2,1141.8 L1463.2,1140.9 L1464.2,1140.1 L1465.2,1139.3 L1466.2,1138.4 L1467.2,1137.6 L1468.2,1136.8 L1469.2,1136 L1470.2,1135.2 L1471.2,1134.5 L1472.2,1133.7 L1473.2,1133 L1474.2,1132.2 L1475.2,1131.5 L1476.2,1130.8 L1477.2,1130.1 L1478.2,1129.4 L1479.2,1128.7 L1480.2,1128.1 L1481.2,1127.4 L1482.2,1126.8 L1483.2,1126.2 L1484.2,1125.6 L1485.2,1125 L1486.2,1124.5 L1487.2,1124 L1488.2,1123.5 L1489.2,1123 L1490.2,1122.5 L1491.2,1122 L1492.2,1121.6 L1493.2,1121.2 L1494.2,1120.8 L1495.2,1120.4 L1496.2,1120.1 L1497.2,1119.8 L1498.2,1119.5 L1499.2,1119.2 L1500.2,1119 L1501.2,1118.7 L1502.2,1118.5 L1503.2,1118.3 L1504.2,1118.2 L1505.2,1118.1 L1506.2,1118 L1507.2,1117.9 L1508.2,1117.8 L1512.2,1117.8 L1513.2,1117.8 L1514.2,1117.8 L1515.2,1117.9 L1516.2,1117.9 L1517.2,1118 L1518.2,1118.1 L1519.2,1118.3 L1520.2,1118.4 L1521.2,1118.6 L1522.2,1118.8 L1523.2,1119.1 L1524.2,1119.3 L1525.2,1119.6 L1526.2,1119.9 L1527.2,1120.2 L1528.2,1120.6 L1529.2,1121 L1530.2,1121.4 L1531.2,1121.8 L1532.2,1122.2 L1533.2,1122.6 L1534.2,1123.1 L1535.2,1123.6 L1536.2,1124.1 L1537.2,1124.6 L1538.2,1125.2 L1539.2,1125.7 L1540.2,1126.3 L1541.2,1126.9 L1542.2,1127.5 L1543.2,1128.1 L1544.2,1128.7 L1545.2,1129.4 L1546.2,1130.1 L1547.2,1130.7 L1548.2,1131.4 L1549.2,1132.1 L1550.2,1132.8 L1551.2,1133.5 L1552.2,1134.3 L1553.2,1135 L1554.2,1135.7 L1555.2,1136.5 L1556.2,1137.3 L1557.2,1138 L1558.2,1138.8 L1559.2,1139.6 L1560.2,1140.4 L1561.2,1141.2 L1562.2,1142 L1563.2,1142.8 L1564.2,1143.7 L1565.2,1144.5 L1566.2,1145.3 L1567.2,1146.1 L1568.2,1147 L1569.2,1147.8 L1570.2,1148.7 L1571.2,1149.5 L1572.2,1150.4 L1573.2,1151.2 L1574.2,1152.1 L1575.2,1153 L1576.2,1153.8 L1577.2,1154.7 L1578.2,1155.6 L1579.2,1156.4 L1580.2,1157.3 L1581.2,1158.2 L1582.2,1159.1 L1583.2,1159.9 L1584.2,1160.8 L1585.2,1161.7 L1586.2,1162.6 L1587.2,1163.5 L1588.2,1164.4 L1589.2,1165.3 L1590.2,1166.1 L1591.2,1167 L1592.2,1167.9 L1593.2,1168.8 L1594.2,1169.7 L1595.2,1170.6 L1596.2,1171.5 L1597.2,1172.4 L1598.2,1173.3 L1599.2,1174.2 L1600.2,1175 L1601.2,1175.9 L1602.2,1176.8 L1603.2,1177.7 L1604.2,1178.6 L1605.2,1179.5 L1606.2,1180.4 L1607.2,1181.3 L1608.2,1182.2 L1609.2,1183.1 L1610.2,1184 L1611.2,1184.9 L1612.2,1185.8 L1613.2,1186.7 L1614.2,1187.6 L1615.2,1188.5 L1616.2,1189.4 L1617.2,1190.3 L1618.2,1191.2 L1619.2,1192.1 L1620.2,1192.9 L1621.2,1193.8 L1622.2,1194.7 L1623.2,1195.6 L1624.2,1196.5 L1625.2,1197.4 L1626.2,1198.3 L1627.2,1199.2 L1628.2,1200.1 L1629.2,1201 L1630.2,1201.9 L1631.2,1202.8 L1632.2,1203.7 L1633.2,1204.6 L1634.2,1205.5 L1635.2,1206.4 L1636.2,1207.3 L1637.2,1208.2 L1638.2,1209.1 L1639.2,1210 L1640.2,1210.9 L1641.2,1211.8 L1642.2,1212.7 L1643.2,1213.6 L1644.2,1214.5 L1645.2,1215.3 L1646.2,1216.2 L1647.2,1217.1 L1648.2,1218 L1649.2,1218.9 L1650.2,1219.8 L1651.2,1220.7 L1652.2,1221.6 L1653.2,1222.5 L1654.2,1223.4 L1655.2,1224.3 L1656.2,1225.2 L1657.2,1226.1 L1658.2,1227 L1659.2,1227.9 L1660.2,1228.8 L1661.2,1229.7 L1662.2,1230.6 L1663.2,1231.5 L1664.2,1232.4 L1665.2,1233.3 L1666.2,1234.2 L1667.2,1235.1 L1668.2,1236 L1669.2,1236.9 L1670.2,1237.8 L1671.2,1238.6 L1672.2,1239.5 L1673.2,1240.4 L1674.2,1241.3 L1675.2,1242.2 L1676.2,1243.1 L1677.2,1244 L1678.2,1244.9 L1679.2,1245.8 L1680.2,1246.7 L1681.2,1247.6 L1682.2,1248.5 L1683.2,1249.4 L1684.2,1250.3 L1685.2,1251.2 L1686.2,1252.1 L1687.2,1253 L1688.2,1253.9 L1689.2,1254.8 L1690.2,1255.7 L1691.2,1256.6 L1692.2,1257.5 L1693.2,1258.4 L1694.2,1259.3 L1695.2,1260.2 L1696.2,1261 L1697.2,1261.9 L1698.2,1262.8 L1699.2,1263.7 L1700.2,1264.6 L1701.2,1265.5 L1702.2,1266.4 L1703.2,1267.3 L1704.2,1268.2 L1705.2,1269.1 L1706.2,1270 L1707.2,1270.9 L1708.2,1271.8 L1709.2,1272.7 L1709.5,1272.9" fill="none" stroke="#5a5a5a" stroke-width="2.6" stroke-dasharray="8.5 5"/>
<path d="M1326.8,1279.6 L1327.8,1278.6 L1328.8,1277.6 L1329.8,1276.6 L1330.8,1275.7 L1331.8,1274.7 L1332.8,1273.7 L1333.8,1272.8 L1334.8,1271.8 L1335.8,1270.8 L1336.8,1269.9 L1337.8,1268.9 L1338.8,1267.9 L1339.8,1267 L1340.8,1266 L1341.8,1265 L1342.8,1264 L1343.8,1263.1 L1344.8,1262.1 L1345.8,1261.1 L1346.8,1260.2 L1347.8,1259.2 L1348.8,1258.2 L1349.8,1257.3 L1350.8,1256.3 L1351.8,1255.3 L1352.8,1254.4 L1353.8,1253.4 L1354.8,1252.4 L1355.8,1251.5 L1356.8,1250.5 L1357.8,1249.5 L1358.8,1248.5 L1359.8,1247.6 L1360.8,1246.6 L1361.8,1245.6 L1362.8,1244.7 L1363.8,1243.7 L1364.8,1242.7 L1365.8,1241.8 L1366.8,1240.8 L1367.8,1239.8 L1368.8,1238.9 L1369.8,1237.9 L1370.8,1236.9 L1371.8,1236 L1372.8,1235 L1373.8,1234 L1374.8,1233 L1375.8,1232.1 L1376.8,1231.1 L1377.8,1230.1 L1378.8,1229.2 L1379.8,1228.2 L1380.8,1227.2 L1381.8,1226.3 L1382.8,1225.3 L1383.8,1224.3 L1384.8,1223.4 L1385.8,1222.4 L1386.8,1221.4 L1387.8,1220.4 L1388.8,1219.5 L1389.8,1218.5 L1390.8,1217.5 L1391.8,1216.6 L1392.8,1215.6 L1393.8,1214.6 L1394.8,1213.7 L1395.8,1212.7 L1396.8,1211.7 L1397.8,1210.8 L1398.8,1209.8 L1399.8,1208.8 L1400.8,1207.9 L1401.8,1206.9 L1402.8,1205.9 L1403.8,1204.9 L1404.8,1204 L1405.8,1203 L1406.8,1202 L1407.8,1201.1 L1408.8,1200.1 L1409.8,1199.1 L1410.8,1198.2 L1411.8,1197.2 L1412.8,1196.2 L1413.8,1195.3 L1414.8,1194.3 L1415.8,1193.3 L1416.8,1192.4 L1417.8,1191.4 L1418.8,1190.4 L1419.8,1189.5 L1420.8,1188.5 L1421.8,1187.5 L1422.8,1186.6 L1423.8,1185.6 L1424.8,1184.6 L1425.8,1183.7 L1426.8,1182.7 L1427.8,1181.7 L1428.8,1180.8 L1429.8,1179.8 L1430.8,1178.9 L1431.8,1177.9 L1432.8,1176.9 L1433.8,1176 L1434.8,1175 L1435.8,1174.1 L1436.8,1173.1 L1437.8,1172.1 L1438.8,1171.2 L1439.8,1170.2 L1440.8,1169.3 L1441.8,1168.3 L1442.8,1167.4 L1443.8,1166.5 L1444.8,1165.5 L1445.8,1164.6 L1446.8,1163.6 L1447.8,1162.7 L1448.8,1161.8 L1449.8,1160.8 L1450.8,1159.9 L1451.8,1159 L1452.8,1158.1 L1453.8,1157.2 L1454.8,1156.2 L1455.8,1155.3 L1456.8,1154.4 L1457.8,1153.5 L1458.8,1152.7 L1459.8,1151.8 L1460.8,1150.9 L1461.8,1150 L1462.8,1149.2 L1463.8,1148.3 L1464.8,1147.4 L1465.8,1146.6 L1466.8,1145.8 L1467.8,1144.9 L1468.8,1144.1 L1469.8,1143.3 L1470.8,1142.5 L1471.8,1141.7 L1472.8,1141 L1473.8,1140.2 L1474.8,1139.5 L1475.8,1138.7 L1476.8,1138 L1477.8,1137.3 L1478.8,1136.6 L1479.8,1135.9 L1480.8,1135.2 L1481.8,1134.6 L1482.8,1133.9 L1483.8,1133.3 L1484.8,1132.7 L1485.8,1132.1 L1486.8,1131.5 L1487.8,1131 L1488.8,1130.5 L1489.8,1130 L1490.8,1129.5 L1491.8,1129 L1492.8,1128.5 L1493.8,1128.1 L1494.8,1127.7 L1495.8,1127.3 L1496.8,1126.9 L1497.8,1126.6 L1498.8,1126.3 L1499.8,1126 L1500.8,1125.7 L1501.8,1125.5 L1502.8,1125.2 L1503.8,1125 L1504.8,1124.8 L1505.8,1124.7 L1506.8,1124.6 L1507.8,1124.5 L1508.8,1124.4 L1509.8,1124.3 L1510.8,1124.3 L1511.8,1124.3 L1512.8,1124.3 L1513.8,1124.4 L1514.8,1124.4 L1515.8,1124.5 L1516.8,1124.6 L1517.8,1124.8 L1518.8,1124.9 L1519.8,1125.1 L1520.8,1125.3 L1521.8,1125.6 L1522.8,1125.8 L1523.8,1126.1 L1524.8,1126.4 L1525.8,1126.7 L1526.8,1127.1 L1527.8,1127.5 L1528.8,1127.9 L1529.8,1128.3 L1530.8,1128.7 L1531.8,1129.1 L1532.8,1129.6 L1533.8,1130.1 L1534.8,1130.6 L1535.8,1131.1 L1536.8,1131.7 L1537.8,1132.2 L1538.8,1132.8 L1539.8,1133.4 L1540.8,1134 L1541.8,1134.6 L1542.8,1135.2 L1543.8,1135.9 L1544.8,1136.6 L1545.8,1137.2 L1546.8,1137.9 L1547.8,1138.6 L1548.8,1139.3 L1549.8,1140 L1550.8,1140.8 L1551.8,1141.5 L1552.8,1142.2 L1553.8,1143 L1554.8,1143.8 L1555.8,1144.5 L1556.8,1145.3 L1557.8,1146.1 L1558.8,1146.9 L1559.8,1147.7 L1560.8,1148.5 L1561.8,1149.3 L1562.8,1150.2 L1563.8,1151 L1564.8,1151.8 L1565.8,1152.6 L1566.8,1153.5 L1567.8,1154.3 L1568.8,1155.2 L1569.8,1156 L1570.8,1156.9 L1571.8,1157.7 L1572.8,1158.6 L1573.8,1159.5 L1574.8,1160.3 L1575.8,1161.2 L1576.8,1162.1 L1577.8,1162.9 L1578.8,1163.8 L1579.8,1164.7 L1580.8,1165.6 L1581.8,1166.4 L1582.8,1167.3 L1583.8,1168.2 L1584.8,1169.1 L1585.8,1170 L1586.8,1170.9 L1587.8,1171.8 L1588.8,1172.6 L1589.8,1173.5 L1590.8,1174.4 L1591.8,1175.3 L1592.8,1176.2 L1593.8,1177.1 L1594.8,1178 L1595.8,1178.9 L1596.8,1179.8 L1597.8,1180.7 L1598.8,1181.5 L1599.8,1182.4 L1600.8,1183.3 L1601.8,1184.2 L1602.8,1185.1 L1603.8,1186 L1604.8,1186.9 L1605.8,1187.8 L1606.8,1188.7 L1607.8,1189.6 L1608.8,1190.5 L1609.8,1191.4 L1610.8,1192.3 L1611.8,1193.2 L1612.8,1194.1 L1613.8,1195 L1614.8,1195.9 L1615.8,1196.8 L1616.8,1197.7 L1617.8,1198.6 L1618.8,1199.4 L1619.8,1200.3 L1620.8,1201.2 L1621.8,1202.1 L1622.8,1203 L1623.8,1203.9 L1624.8,1204.8 L1625.8,1205.7 L1626.8,1206.6 L1627.8,1207.5 L1628.8,1208.4 L1629.8,1209.3 L1630.8,1210.2 L1631.8,1211.1 L1632.8,1212 L1633.8,1212.9 L1634.8,1213.8 L1635.8,1214.7 L1636.8,1215.6 L1637.8,1216.5 L1638.8,1217.4 L1639.8,1218.3 L1640.8,1219.2 L1641.8,1220.1 L1642.8,1221 L1643.8,1221.8 L1644.8,1222.7 L1645.8,1223.6 L1646.8,1224.5 L1647.8,1225.4 L1648.8,1226.3 L1649.8,1227.2 L1650.8,1228.1 L1651.8,1229 L1652.8,1229.9 L1653.8,1230.8 L1654.8,1231.7 L1655.8,1232.6 L1656,1232.8 L1659.3,1123.8 L1661.5,1240.3 L1661.8,1238 L1662.8,1238.9 L1663.8,1239.8 L1664.8,1240.7 L1665.8,1241.6 L1666.8,1242.5 L1667.8,1243.4 L1668.8,1244.3 L1669.8,1245.1 L1670.8,1246 L1671.8,1246.9 L1672.8,1247.8 L1673.8,1248.7 L1674.8,1249.6 L1675.8,1250.5 L1676.8,1251.4 L1677.8,1252.3 L1678.8,1253.2 L1679.8,1254.1 L1680.8,1255 L1681.8,1255.9 L1682.8,1256.8 L1683.8,1257.7 L1684.8,1258.6 L1685.8,1259.5 L1686.8,1260.4 L1687.8,1261.3 L1688.8,1262.2 L1689.8,1263.1 L1690.8,1264 L1691.8,1264.9 L1692.8,1265.8 L1693.8,1266.7 L1694.8,1267.5 L1695.8,1268.4 L1696.8,1269.3 L1697.8,1270.2 L1698.8,1271.1 L1699.8,1272 L1700.8,1272.9 L1701.8,1273.8 L1702.8,1274.7 L1703.8,1275.6 L1704.8,1276.5 L1705.8,1277.4 L1706.8,1278.3 L1707.8,1279.2 L1708,1279.4" fill="none" stroke="#7e1a7a" stroke-width="2.6" stroke-linejoin="miter" stroke-miterlimit="6"/></svg></body></html>
